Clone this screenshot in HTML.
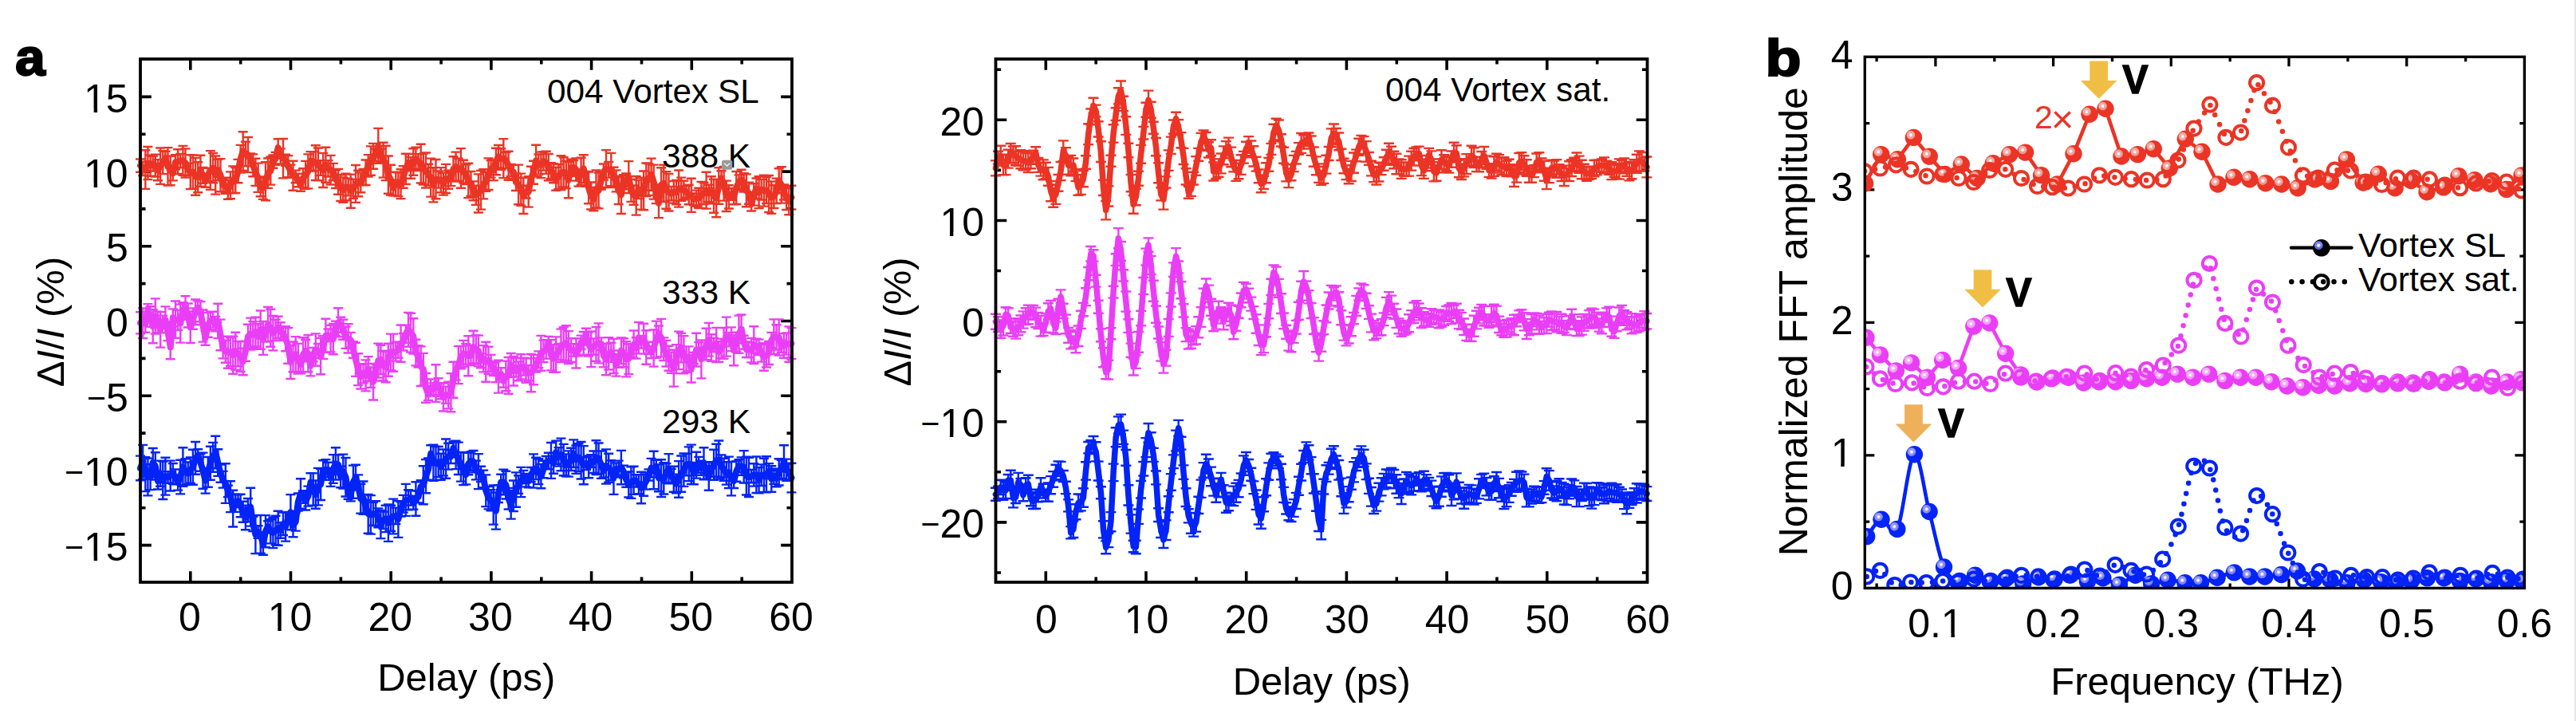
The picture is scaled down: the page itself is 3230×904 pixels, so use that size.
<!DOCTYPE html>
<html><head><meta charset="utf-8"><title>Figure</title>
<style>html,body{margin:0;padding:0;background:#fff;overflow:hidden;width:3230px;height:904px;} svg{display:block;}</style>
</head><body>
<svg width="3230" height="904" viewBox="0 0 3230 904" font-family="'Liberation Sans', Arial, Helvetica, sans-serif">
<rect width="3230" height="904" fill="#fff"/>
<rect x="3228" y="0" width="2" height="904" fill="#e7e7e7"/>
<defs>
<radialGradient id="gr" cx="0.336" cy="0.35" r="0.5" fx="0.336" fy="0.35"><stop offset="0" stop-color="#fff"/><stop offset="0.07" stop-color="#fff"/><stop offset="0.17" stop-color="#f7d0cc"/><stop offset="0.29" stop-color="#eea199"/><stop offset="0.37" stop-color="#eea199" stop-opacity="0.85"/><stop offset="0.45" stop-color="#eea199"/><stop offset="0.54" stop-color="#EB3425"/><stop offset="1" stop-color="#EB3425"/></radialGradient>
<radialGradient id="gm" cx="0.336" cy="0.35" r="0.5" fx="0.336" fy="0.35"><stop offset="0" stop-color="#fff"/><stop offset="0.07" stop-color="#fff"/><stop offset="0.17" stop-color="#f8d2fb"/><stop offset="0.29" stop-color="#f0a2f5"/><stop offset="0.37" stop-color="#f0a2f5" stop-opacity="0.85"/><stop offset="0.45" stop-color="#f0a2f5"/><stop offset="0.54" stop-color="#EA3EF6"/><stop offset="1" stop-color="#EA3EF6"/></radialGradient>
<radialGradient id="gb" cx="0.336" cy="0.35" r="0.5" fx="0.336" fy="0.35"><stop offset="0" stop-color="#fff"/><stop offset="0.07" stop-color="#fff"/><stop offset="0.17" stop-color="#c8c8fb"/><stop offset="0.29" stop-color="#8a8cf2"/><stop offset="0.37" stop-color="#8a8cf2" stop-opacity="0.85"/><stop offset="0.45" stop-color="#8a8cf2"/><stop offset="0.54" stop-color="#0323F7"/><stop offset="1" stop-color="#0323F7"/></radialGradient>
<radialGradient id="gk" cx="0.336" cy="0.35" r="0.5" fx="0.336" fy="0.35"><stop offset="0" stop-color="#fff"/><stop offset="0.07" stop-color="#fff"/><stop offset="0.17" stop-color="#c8ccff"/><stop offset="0.29" stop-color="#6a74f0"/><stop offset="0.37" stop-color="#6a74f0" stop-opacity="0.85"/><stop offset="0.45" stop-color="#6a74f0"/><stop offset="0.54" stop-color="#000"/><stop offset="1" stop-color="#000"/></radialGradient>
<clipPath id="cb"><rect x="2338.3" y="71.3" width="827.0999999999999" height="666.1"/></clipPath>
</defs>
<path d="M238.8 730v-13.8M238.8 74v13.8M301.7 730v-6.5M301.7 74v6.5M364.5 730v-13.8M364.5 74v13.8M427.4 730v-6.5M427.4 74v6.5M490.2 730v-13.8M490.2 74v13.8M553.1 730v-6.5M553.1 74v6.5M615.9 730v-13.8M615.9 74v13.8M678.8 730v-6.5M678.8 74v6.5M741.6 730v-13.8M741.6 74v13.8M804.5 730v-6.5M804.5 74v6.5M867.3 730v-13.8M867.3 74v13.8M930.2 730v-6.5M930.2 74v6.5M176 683.6h13.8M993 683.6h-13.8M176 636.8h6.5M993 636.8h-6.5M176 589.9h13.8M993 589.9h-13.8M176 543.1h6.5M993 543.1h-6.5M176 496.2h13.8M993 496.2h-13.8M176 449.4h6.5M993 449.4h-6.5M176 402.5h13.8M993 402.5h-13.8M176 355.6h6.5M993 355.6h-6.5M176 308.8h13.8M993 308.8h-13.8M176 261.9h6.5M993 261.9h-6.5M176 215.1h13.8M993 215.1h-13.8M176 168.2h6.5M993 168.2h-6.5M176 121.4h13.8M993 121.4h-13.8" stroke="#000" stroke-width="3.6" fill="none"/>
<path d="M176.0 199.5V215.7M170.0 199.5h12M170.0 215.7h12M179.1 202.8V220.1M173.1 202.8h12M173.1 220.1h12M182.3 188.3V236.9M176.3 188.3h12M176.3 236.9h12M185.4 184.0V225.1M179.4 184.0h12M179.4 225.1h12M188.6 194.6V220.7M182.6 194.6h12M182.6 220.7h12M191.7 195.9V214.6M185.7 195.9h12M185.7 214.6h12M194.8 193.6V221.5M188.8 193.6h12M188.8 221.5h12M198.0 200.1V226.3M192.0 200.1h12M192.0 226.3h12M201.1 185.5V230.9M195.1 185.5h12M195.1 230.9h12M204.3 189.1V218.1M198.3 189.1h12M198.3 218.1h12M207.4 189.9V206.9M201.4 189.9h12M201.4 206.9h12M210.5 185.1V232.5M204.5 185.1h12M204.5 232.5h12M213.7 195.8V232.2M207.7 195.8h12M207.7 232.2h12M216.8 208.2V226.4M210.8 208.2h12M210.8 226.4h12M220.0 194.1V212.2M214.0 194.1h12M214.0 212.2h12M223.1 187.2V218.0M217.1 187.2h12M217.1 218.0h12M226.2 193.0V210.3M220.2 193.0h12M220.2 210.3h12M229.4 182.9V219.7M223.4 182.9h12M223.4 219.7h12M232.5 186.4V222.5M226.5 186.4h12M226.5 222.5h12M235.7 204.7V219.9M229.7 204.7h12M229.7 219.9h12M238.8 194.1V237.1M232.8 194.1h12M232.8 237.1h12M241.9 194.5V236.8M235.9 194.5h12M235.9 236.8h12M245.1 197.9V244.8M239.1 197.9h12M239.1 244.8h12M248.2 203.2V241.3M242.2 203.2h12M242.2 241.3h12M251.4 194.8V233.7M245.4 194.8h12M245.4 233.7h12M254.5 209.9V229.8M248.5 209.9h12M248.5 229.8h12M257.6 219.8V234.7M251.6 219.8h12M251.6 234.7h12M260.8 210.9V227.2M254.8 210.9h12M254.8 227.2h12M263.9 189.1V237.9M257.9 189.1h12M257.9 237.9h12M267.1 192.0V229.3M261.1 192.0h12M261.1 229.3h12M270.2 195.5V243.6M264.2 195.5h12M264.2 243.6h12M273.3 199.7V226.2M267.3 199.7h12M267.3 226.2h12M276.5 199.1V240.3M270.5 199.1h12M270.5 240.3h12M279.6 223.8V240.2M273.6 223.8h12M273.6 240.2h12M282.8 222.8V242.7M276.8 222.8h12M276.8 242.7h12M285.9 225.8V249.8M279.9 225.8h12M279.9 249.8h12M289.0 215.4V249.2M283.0 215.4h12M283.0 249.2h12M292.2 208.4V242.4M286.2 208.4h12M286.2 242.4h12M295.3 210.1V242.0M289.3 210.1h12M289.3 242.0h12M298.5 199.9V229.2M292.5 199.9h12M292.5 229.2h12M301.6 181.9V216.6M295.6 181.9h12M295.6 216.6h12M304.7 165.2V214.0M298.7 165.2h12M298.7 214.0h12M307.9 177.7V208.1M301.9 177.7h12M301.9 208.1h12M311.0 172.0V216.1M305.0 172.0h12M305.0 216.1h12M314.2 192.4V208.4M308.2 192.4h12M308.2 208.4h12M317.3 193.4V221.3M311.3 193.4h12M311.3 221.3h12M320.4 198.7V232.9M314.4 198.7h12M314.4 232.9h12M323.6 204.6V240.9M317.6 204.6h12M317.6 240.9h12M326.7 223.2V246.2M320.7 223.2h12M320.7 246.2h12M329.9 221.5V249.9M323.9 221.5h12M323.9 249.9h12M333.0 203.2V251.3M327.0 203.2h12M327.0 251.3h12M336.1 198.5V235.9M330.1 198.5h12M330.1 235.9h12M339.3 196.6V231.6M333.3 196.6h12M333.3 231.6h12M342.4 194.4V210.7M336.4 194.4h12M336.4 210.7h12M345.6 190.9V206.8M339.6 190.9h12M339.6 206.8h12M348.7 174.3V196.0M342.7 174.3h12M342.7 196.0h12M351.8 186.4V205.4M345.8 186.4h12M345.8 205.4h12M355.0 174.0V223.4M349.0 174.0h12M349.0 223.4h12M358.1 193.6V207.7M352.1 193.6h12M352.1 207.7h12M361.3 195.1V222.3M355.3 195.1h12M355.3 222.3h12M364.4 206.6V222.7M358.4 206.6h12M358.4 222.7h12M367.5 201.7V238.8M361.5 201.7h12M361.5 238.8h12M370.7 213.6V229.2M364.7 213.6h12M364.7 229.2h12M373.8 217.7V234.2M367.8 217.7h12M367.8 234.2h12M377.0 222.8V239.7M371.0 222.8h12M371.0 239.7h12M380.1 211.3V235.1M374.1 211.3h12M374.1 235.1h12M383.2 201.9V236.7M377.2 201.9h12M377.2 236.7h12M386.4 193.4V236.4M380.4 193.4h12M380.4 236.4h12M389.5 190.1V213.7M383.5 190.1h12M383.5 213.7h12M392.7 190.3V214.5M386.7 190.3h12M386.7 214.5h12M395.8 182.3V226.0M389.8 182.3h12M389.8 226.0h12M398.9 185.5V226.3M392.9 185.5h12M392.9 226.3h12M402.1 201.3V219.9M396.1 201.3h12M396.1 219.9h12M405.2 191.9V235.0M399.2 191.9h12M399.2 235.0h12M408.4 184.7V228.7M402.4 184.7h12M402.4 228.7h12M411.5 201.1V221.5M405.5 201.1h12M405.5 221.5h12M414.6 194.9V231.5M408.6 194.9h12M408.6 231.5h12M417.8 204.9V226.0M411.8 204.9h12M411.8 226.0h12M420.9 213.2V236.0M414.9 213.2h12M414.9 236.0h12M424.1 211.9V243.7M418.1 211.9h12M418.1 243.7h12M427.2 219.2V252.0M421.2 219.2h12M421.2 252.0h12M430.3 222.4V253.7M424.3 222.4h12M424.3 253.7h12M433.5 217.7V251.2M427.5 217.7h12M427.5 251.2h12M436.6 223.7V245.4M430.6 223.7h12M430.6 245.4h12M439.8 218.6V260.7M433.8 218.6h12M433.8 260.7h12M442.9 224.9V248.9M436.9 224.9h12M436.9 248.9h12M446.0 207.0V253.9M440.0 207.0h12M440.0 253.9h12M449.2 213.7V246.2M443.2 213.7h12M443.2 246.2h12M452.3 216.4V241.3M446.3 216.4h12M446.3 241.3h12M455.5 211.9V232.2M449.5 211.9h12M449.5 232.2h12M458.6 200.5V232.0M452.6 200.5h12M452.6 232.0h12M461.7 194.1V221.6M455.7 194.1h12M455.7 221.6h12M464.9 183.4V219.8M458.9 183.4h12M458.9 219.8h12M468.0 179.9V211.8M462.0 179.9h12M462.0 211.8h12M471.2 186.9V202.2M465.2 186.9h12M465.2 202.2h12M474.3 160.9V204.9M468.3 160.9h12M468.3 204.9h12M477.4 186.8V202.6M471.4 186.8h12M471.4 202.6h12M480.6 178.8V222.6M474.6 178.8h12M474.6 222.6h12M483.7 182.8V226.1M477.7 182.8h12M477.7 226.1h12M486.9 195.5V242.8M480.9 195.5h12M480.9 242.8h12M490.0 206.7V244.6M484.0 206.7h12M484.0 244.6h12M493.1 225.6V245.4M487.1 225.6h12M487.1 245.4h12M496.3 215.7V245.6M490.3 215.7h12M490.3 245.6h12M499.4 216.3V246.1M493.4 216.3h12M493.4 246.1h12M502.6 212.3V249.1M496.6 212.3h12M496.6 249.1h12M505.7 208.1V235.8M499.7 208.1h12M499.7 235.8h12M508.8 192.7V231.0M502.8 192.7h12M502.8 231.0h12M512.0 193.0V214.4M506.0 193.0h12M506.0 214.4h12M515.1 197.1V223.8M509.1 197.1h12M509.1 223.8h12M518.3 186.2V219.7M512.3 186.2h12M512.3 219.7h12M521.4 184.7V214.0M515.4 184.7h12M515.4 214.0h12M524.5 193.1V211.6M518.5 193.1h12M518.5 211.6h12M527.7 180.7V229.5M521.7 180.7h12M521.7 229.5h12M530.8 192.6V231.5M524.8 192.6h12M524.8 231.5h12M534.0 191.5V235.5M528.0 191.5h12M528.0 235.5h12M537.1 205.7V232.6M531.1 205.7h12M531.1 232.6h12M540.2 198.6V246.6M534.2 198.6h12M534.2 246.6h12M543.4 210.2V253.4M537.4 210.2h12M537.4 253.4h12M546.5 200.0V249.3M540.5 200.0h12M540.5 249.3h12M549.7 214.5V235.6M543.7 214.5h12M543.7 235.6h12M552.8 210.1V241.3M546.8 210.1h12M546.8 241.3h12M555.9 216.7V244.6M549.9 216.7h12M549.9 244.6h12M559.1 205.9V242.0M553.1 205.9h12M553.1 242.0h12M562.2 213.8V236.8M556.2 213.8h12M556.2 236.8h12M565.4 215.5V233.1M559.4 215.5h12M559.4 233.1h12M568.5 196.2V227.3M562.5 196.2h12M562.5 227.3h12M571.6 190.6V227.6M565.6 190.6h12M565.6 227.6h12M574.8 198.8V226.7M568.8 198.8h12M568.8 226.7h12M577.9 186.1V235.7M571.9 186.1h12M571.9 235.7h12M581.1 200.7V229.4M575.1 200.7h12M575.1 229.4h12M584.2 206.3V231.1M578.2 206.3h12M578.2 231.1h12M587.3 204.8V248.1M581.3 204.8h12M581.3 248.1h12M590.5 215.0V245.8M584.5 215.0h12M584.5 245.8h12M593.6 227.4V251.2M587.6 227.4h12M587.6 251.2h12M596.8 232.6V256.9M590.8 232.6h12M590.8 256.9h12M599.9 218.4V266.5M593.9 218.4h12M593.9 266.5h12M603.0 214.0V262.6M597.0 214.0h12M597.0 262.6h12M606.2 212.2V249.4M600.2 212.2h12M600.2 249.4h12M609.3 215.8V239.9M603.3 215.8h12M603.3 239.9h12M612.5 198.4V238.0M606.5 198.4h12M606.5 238.0h12M615.6 201.1V222.9M609.6 201.1h12M609.6 222.9h12M618.7 200.6V226.1M612.7 200.6h12M612.7 226.1h12M621.9 185.8V219.3M615.9 185.8h12M615.9 219.3h12M625.0 182.0V210.5M619.0 182.0h12M619.0 210.5h12M628.2 186.2V212.8M622.2 186.2h12M622.2 212.8h12M631.3 174.1V223.1M625.3 174.1h12M625.3 223.1h12M634.4 191.0V211.1M628.4 191.0h12M628.4 211.1h12M637.6 189.7V225.8M631.6 189.7h12M631.6 225.8h12M640.7 205.9V221.3M634.7 205.9h12M634.7 221.3h12M643.9 206.9V224.2M637.9 206.9h12M637.9 224.2h12M647.0 217.5V239.0M641.0 217.5h12M641.0 239.0h12M650.1 206.6V256.3M644.1 206.6h12M644.1 256.3h12M653.3 217.6V257.7M647.3 217.6h12M647.3 257.7h12M656.4 222.7V268.0M650.4 222.7h12M650.4 268.0h12M659.6 232.7V248.5M653.6 232.7h12M653.6 248.5h12M662.7 221.1V259.6M656.7 221.1h12M656.7 259.6h12M665.8 208.8V238.6M659.8 208.8h12M659.8 238.6h12M669.0 201.7V230.7M663.0 201.7h12M663.0 230.7h12M672.1 181.8V221.3M666.1 181.8h12M666.1 221.3h12M675.3 193.5V218.6M669.3 193.5h12M669.3 218.6h12M678.4 190.6V223.1M672.4 190.6h12M672.4 223.1h12M681.5 190.2V213.6M675.5 190.2h12M675.5 213.6h12M684.7 189.8V217.9M678.7 189.8h12M678.7 217.9h12M687.8 193.0V226.2M681.8 193.0h12M681.8 226.2h12M691.0 204.3V224.0M685.0 204.3h12M685.0 224.0h12M694.1 205.2V229.2M688.1 205.2h12M688.1 229.2h12M697.2 209.7V238.8M691.2 209.7h12M691.2 238.8h12M700.4 206.0V237.0M694.4 206.0h12M694.4 237.0h12M703.5 195.3V238.1M697.5 195.3h12M697.5 238.1h12M706.7 197.2V234.4M700.7 197.2h12M700.7 234.4h12M709.8 201.9V236.1M703.8 201.9h12M703.8 236.1h12M712.9 203.0V248.3M706.9 203.0h12M706.9 248.3h12M716.1 199.6V220.7M710.1 199.6h12M710.1 220.7h12M719.2 201.1V218.9M713.2 201.1h12M713.2 218.9h12M722.4 198.4V226.6M716.4 198.4h12M716.4 226.6h12M725.5 214.7V233.6M719.5 214.7h12M719.5 233.6h12M728.6 197.7V231.7M722.6 197.7h12M722.6 231.7h12M731.8 194.2V228.9M725.8 194.2h12M725.8 228.9h12M734.9 215.0V233.7M728.9 215.0h12M728.9 233.7h12M738.1 215.5V255.3M732.1 215.5h12M732.1 255.3h12M741.2 228.5V262.5M735.2 228.5h12M735.2 262.5h12M744.3 235.0V264.3M738.3 235.0h12M738.3 264.3h12M747.5 213.4V260.5M741.5 213.4h12M741.5 260.5h12M750.6 216.5V261.4M744.6 216.5h12M744.6 261.4h12M753.8 215.6V237.5M747.8 215.6h12M747.8 237.5h12M756.9 205.5V225.5M750.9 205.5h12M750.9 225.5h12M760.0 188.1V235.0M754.0 188.1h12M754.0 235.0h12M763.2 202.9V222.6M757.2 202.9h12M757.2 222.6h12M766.3 191.9V233.2M760.3 191.9h12M760.3 233.2h12M769.5 209.8V235.0M763.5 209.8h12M763.5 235.0h12M772.6 213.4V240.4M766.6 213.4h12M766.6 240.4h12M775.7 222.1V256.0M769.7 222.1h12M769.7 256.0h12M778.9 220.6V268.0M772.9 220.6h12M772.9 268.0h12M782.0 219.2V233.3M776.0 219.2h12M776.0 233.3h12M785.2 217.5V237.3M779.2 217.5h12M779.2 237.3h12M788.3 202.1V242.0M782.3 202.1h12M782.3 242.0h12M791.4 224.7V252.9M785.4 224.7h12M785.4 252.9h12M794.6 232.5V256.8M788.6 232.5h12M788.6 256.8h12M797.7 221.0V269.6M791.7 221.0h12M791.7 269.6h12M800.9 225.6V249.1M794.9 225.6h12M794.9 249.1h12M804.0 222.9V262.6M798.0 222.9h12M798.0 262.6h12M807.1 214.5V263.3M801.1 214.5h12M801.1 263.3h12M810.3 204.5V246.0M804.3 204.5h12M804.3 246.0h12M813.4 205.4V244.9M807.4 205.4h12M807.4 244.9h12M816.6 198.6V238.7M810.6 198.6h12M810.6 238.7h12M819.7 206.6V249.6M813.7 206.6h12M813.7 249.6h12M822.8 231.4V255.1M816.8 231.4h12M816.8 255.1h12M826.0 236.5V273.1M820.0 236.5h12M820.0 273.1h12M829.1 210.2V253.1M823.1 210.2h12M823.1 253.1h12M832.3 206.7V252.7M826.3 206.7h12M826.3 252.7h12M835.4 215.1V261.7M829.4 215.1h12M829.4 261.7h12M838.5 217.9V264.5M832.5 217.9h12M832.5 264.5h12M841.7 233.9V251.4M835.7 233.9h12M835.7 251.4h12M844.8 227.1V254.6M838.8 227.1h12M838.8 254.6h12M848.0 226.0V256.4M842.0 226.0h12M842.0 256.4h12M851.1 213.5V259.6M845.1 213.5h12M845.1 259.6h12M854.2 222.6V251.7M848.2 222.6h12M848.2 251.7h12M857.4 226.7V250.2M851.4 226.7h12M851.4 250.2h12M860.5 233.1V247.8M854.5 233.1h12M854.5 247.8h12M863.7 231.8V256.2M857.7 231.8h12M857.7 256.2h12M866.8 223.8V265.9M860.8 223.8h12M860.8 265.9h12M869.9 242.5V257.2M863.9 242.5h12M863.9 257.2h12M873.1 238.6V258.5M867.1 238.6h12M867.1 258.5h12M876.2 235.8V261.0M870.2 235.8h12M870.2 261.0h12M879.4 227.9V261.1M873.4 227.9h12M873.4 261.1h12M882.5 229.0V256.1M876.5 229.0h12M876.5 256.1h12M885.6 215.8V261.6M879.6 215.8h12M879.6 261.6h12M888.8 231.8V253.2M882.8 231.8h12M882.8 253.2h12M891.9 221.2V255.4M885.9 221.2h12M885.9 255.4h12M895.1 224.8V266.8M889.1 224.8h12M889.1 266.8h12M898.2 224.8V272.3M892.2 224.8h12M892.2 272.3h12M901.3 210.3V255.7M895.3 210.3h12M895.3 255.7h12M904.5 214.2V233.1M898.5 214.2h12M898.5 233.1h12M907.6 209.0V251.6M901.6 209.0h12M901.6 251.6h12M910.8 226.6V265.0M904.8 226.6h12M904.8 265.0h12M913.9 232.3V261.5M907.9 232.3h12M907.9 261.5h12M917.0 236.0V250.9M911.0 236.0h12M911.0 250.9h12M920.2 236.2V256.2M914.2 236.2h12M914.2 256.2h12M923.3 215.0V256.0M917.3 215.0h12M917.3 256.0h12M926.5 219.4V236.4M920.5 219.4h12M920.5 236.4h12M929.6 212.7V238.0M923.6 212.7h12M923.6 238.0h12M932.7 217.3V240.5M926.7 217.3h12M926.7 240.5h12M935.9 218.4V259.3M929.9 218.4h12M929.9 259.3h12M939.0 228.8V255.7M933.0 228.8h12M933.0 255.7h12M942.2 247.3V264.5M936.2 247.3h12M936.2 264.5h12M945.3 230.3V257.6M939.3 230.3h12M939.3 257.6h12M948.4 223.5V249.3M942.4 223.5h12M942.4 249.3h12M951.6 221.3V261.1M945.6 221.3h12M945.6 261.1h12M954.7 224.9V250.5M948.7 224.9h12M948.7 250.5h12M957.9 219.6V258.6M951.9 219.6h12M951.9 258.6h12M961.0 221.7V255.1M955.0 221.7h12M955.0 255.1h12M964.1 220.0V266.0M958.1 220.0h12M958.1 266.0h12M967.3 227.5V267.9M961.3 227.5h12M961.3 267.9h12M970.4 232.3V261.0M964.4 232.3h12M964.4 261.0h12M973.6 223.6V255.1M967.6 223.6h12M967.6 255.1h12M976.7 211.3V242.3M970.7 211.3h12M970.7 242.3h12M979.8 209.2V254.6M973.8 209.2h12M973.8 254.6h12M983.0 231.5V250.5M977.0 231.5h12M977.0 250.5h12M986.1 233.8V263.0M980.1 233.8h12M980.1 263.0h12M989.3 236.0V269.3M983.3 236.0h12M983.3 269.3h12M992.4 232.8V262.5M986.4 232.8h12M986.4 262.5h12" stroke="#EB3425" stroke-width="2.4" fill="none"/>
<path d="M176.0 207.6 L179.1 211.5 L182.3 212.6 L185.4 204.6 L188.6 207.6 L191.7 205.2 L194.8 207.5 L198.0 213.2 L201.1 208.2 L204.3 203.6 L207.4 198.4 L210.5 208.8 L213.7 214.0 L216.8 217.3 L220.0 203.1 L223.1 202.6 L226.2 201.6 L229.4 201.3 L232.5 204.4 L235.7 212.3 L238.8 215.6 L241.9 215.7 L245.1 221.3 L248.2 222.3 L251.4 214.3 L254.5 219.9 L257.6 227.3 L260.8 219.1 L263.9 213.5 L267.1 210.7 L270.2 219.5 L273.3 213.0 L276.5 219.7 L279.6 232.0 L282.8 232.8 L285.9 237.8 L289.0 232.3 L292.2 225.4 L295.3 226.1 L298.5 214.6 L301.6 199.3 L304.7 189.6 L307.9 192.9 L311.0 194.1 L314.2 200.4 L317.3 207.3 L320.4 215.8 L323.6 222.8 L326.7 234.7 L329.9 235.7 L333.0 227.3 L336.1 217.2 L339.3 214.1 L342.4 202.6 L345.6 198.8 L348.7 185.1 L351.8 195.9 L355.0 198.7 L358.1 200.7 L361.3 208.7 L364.4 214.7 L367.5 220.3 L370.7 221.4 L373.8 225.9 L377.0 231.2 L380.1 223.2 L383.2 219.3 L386.4 214.9 L389.5 201.9 L392.7 202.4 L395.8 204.2 L398.9 205.9 L402.1 210.6 L405.2 213.4 L408.4 206.7 L411.5 211.3 L414.6 213.2 L417.8 215.4 L420.9 224.6 L424.1 227.8 L427.2 235.6 L430.3 238.1 L433.5 234.5 L436.6 234.6 L439.8 239.6 L442.9 236.9 L446.0 230.5 L449.2 229.9 L452.3 228.8 L455.5 222.1 L458.6 216.2 L461.7 207.9 L464.9 201.6 L468.0 195.8 L471.2 194.6 L474.3 182.9 L477.4 194.7 L480.6 200.7 L483.7 204.5 L486.9 219.2 L490.0 225.6 L493.1 235.5 L496.3 230.7 L499.4 231.2 L502.6 230.7 L505.7 221.9 L508.8 211.9 L512.0 203.7 L515.1 210.4 L518.3 203.0 L521.4 199.4 L524.5 202.4 L527.7 205.1 L530.8 212.0 L534.0 213.5 L537.1 219.1 L540.2 222.6 L543.4 231.8 L546.5 224.7 L549.7 225.1 L552.8 225.7 L555.9 230.7 L559.1 223.9 L562.2 225.3 L565.4 224.3 L568.5 211.8 L571.6 209.1 L574.8 212.8 L577.9 210.9 L581.1 215.1 L584.2 218.7 L587.3 226.5 L590.5 230.4 L593.6 239.3 L596.8 244.7 L599.9 242.4 L603.0 238.3 L606.2 230.8 L609.3 227.8 L612.5 218.2 L615.6 212.0 L618.7 213.4 L621.9 202.5 L625.0 196.3 L628.2 199.5 L631.3 198.6 L634.4 201.1 L637.6 207.7 L640.7 213.6 L643.9 215.6 L647.0 228.2 L650.1 231.5 L653.3 237.6 L656.4 245.3 L659.6 240.6 L662.7 240.4 L665.8 223.7 L669.0 216.2 L672.1 201.5 L675.3 206.0 L678.4 206.9 L681.5 201.9 L684.7 203.9 L687.8 209.6 L691.0 214.2 L694.1 217.2 L697.2 224.3 L700.4 221.5 L703.5 216.7 L706.7 215.8 L709.8 219.0 L712.9 225.7 L716.1 210.2 L719.2 210.0 L722.4 212.5 L725.5 224.1 L728.6 214.7 L731.8 211.6 L734.9 224.3 L738.1 235.4 L741.2 245.5 L744.3 249.7 L747.5 237.0 L750.6 238.9 L753.8 226.6 L756.9 215.5 L760.0 211.5 L763.2 212.7 L766.3 212.5 L769.5 222.4 L772.6 226.9 L775.7 239.1 L778.9 244.3 L782.0 226.2 L785.2 227.4 L788.3 222.0 L791.4 238.8 L794.6 244.6 L797.7 245.3 L800.9 237.3 L804.0 242.7 L807.1 238.9 L810.3 225.2 L813.4 225.2 L816.6 218.6 L819.7 228.1 L822.8 243.2 L826.0 254.8 L829.1 231.6 L832.3 229.7 L835.4 238.4 L838.5 241.2 L841.7 242.6 L844.8 240.9 L848.0 241.2 L851.1 236.5 L854.2 237.2 L857.4 238.5 L860.5 240.4 L863.7 244.0 L866.8 244.9 L869.9 249.9 L873.1 248.5 L876.2 248.4 L879.4 244.5 L882.5 242.6 L885.6 238.7 L888.8 242.5 L891.9 238.3 L895.1 245.8 L898.2 248.5 L901.3 233.0 L904.5 223.6 L907.6 230.3 L910.8 245.8 L913.9 246.9 L917.0 243.4 L920.2 246.2 L923.3 235.5 L926.5 227.9 L929.6 225.3 L932.7 228.9 L935.9 238.9 L939.0 242.2 L942.2 255.9 L945.3 243.9 L948.4 236.4 L951.6 241.2 L954.7 237.7 L957.9 239.1 L961.0 238.4 L964.1 243.0 L967.3 247.7 L970.4 246.6 L973.6 239.4 L976.7 226.8 L979.8 231.9 L983.0 241.0 L986.1 248.4 L989.3 252.6 L992.4 247.7" stroke="#EB3425" stroke-width="8" fill="none" stroke-linejoin="round" stroke-linecap="round"/>
<path d="M176.0 391.3V418.4M170.0 391.3h12M170.0 418.4h12M179.1 386.4V424.0M173.1 386.4h12M173.1 424.0h12M182.3 395.0V416.8M176.3 395.0h12M176.3 416.8h12M185.4 381.1V395.9M179.4 381.1h12M179.4 395.9h12M188.6 384.3V409.9M182.6 384.3h12M182.6 409.9h12M191.7 388.2V430.3M185.7 388.2h12M185.7 430.3h12M194.8 374.4V418.6M188.8 374.4h12M188.8 418.6h12M198.0 390.7V417.3M192.0 390.7h12M192.0 417.3h12M201.1 391.1V435.6M195.1 391.1h12M195.1 435.6h12M204.3 395.6V411.4M198.3 395.6h12M198.3 411.4h12M207.4 384.4V417.2M201.4 384.4h12M201.4 417.2h12M210.5 403.8V427.1M204.5 403.8h12M204.5 427.1h12M213.7 420.4V450.2M207.7 420.4h12M207.7 450.2h12M216.8 387.4V409.3M210.8 387.4h12M210.8 409.3h12M220.0 377.5V423.7M214.0 377.5h12M214.0 423.7h12M223.1 388.9V413.8M217.1 388.9h12M217.1 413.8h12M226.2 381.6V429.6M220.2 381.6h12M220.2 429.6h12M229.4 379.3V397.3M223.4 379.3h12M223.4 397.3h12M232.5 371.3V400.7M226.5 371.3h12M226.5 400.7h12M235.7 380.5V410.5M229.7 380.5h12M229.7 410.5h12M238.8 390.4V430.0M232.8 390.4h12M232.8 430.0h12M241.9 386.4V412.8M235.9 386.4h12M235.9 412.8h12M245.1 375.5V407.3M239.1 375.5h12M239.1 407.3h12M248.2 377.3V393.8M242.2 377.3h12M242.2 393.8h12M251.4 378.1V403.3M245.4 378.1h12M245.4 403.3h12M254.5 388.5V428.6M248.5 388.5h12M248.5 428.6h12M257.6 414.9V432.7M251.6 414.9h12M251.6 432.7h12M260.8 392.1V422.8M254.8 392.1h12M254.8 422.8h12M263.9 390.7V413.2M257.9 390.7h12M257.9 413.2h12M267.1 390.7V410.6M261.1 390.7h12M261.1 410.6h12M270.2 396.9V415.3M264.2 396.9h12M264.2 415.3h12M273.3 380.8V424.1M267.3 380.8h12M267.3 424.1h12M276.5 400.6V439.3M270.5 400.6h12M270.5 439.3h12M279.6 421.8V449.4M273.6 421.8h12M273.6 449.4h12M282.8 426.6V454.7M276.8 426.6h12M276.8 454.7h12M285.9 421.6V461.8M279.9 421.6h12M279.9 461.8h12M289.0 423.2V459.0M283.0 423.2h12M283.0 459.0h12M292.2 421.7V468.7M286.2 421.7h12M286.2 468.7h12M295.3 416.7V463.8M289.3 416.7h12M289.3 463.8h12M298.5 427.9V459.3M292.5 427.9h12M292.5 459.3h12M301.6 428.3V466.0M295.6 428.3h12M295.6 466.0h12M304.7 436.6V470.2M298.7 436.6h12M298.7 470.2h12M307.9 427.6V452.8M301.9 427.6h12M301.9 452.8h12M311.0 406.8V437.1M305.0 406.8h12M305.0 437.1h12M314.2 398.6V438.6M308.2 398.6h12M308.2 438.6h12M317.3 403.1V437.0M311.3 403.1h12M311.3 437.0h12M320.4 397.7V434.5M314.4 397.7h12M314.4 434.5h12M323.6 406.2V437.8M317.6 406.2h12M317.6 437.8h12M326.7 389.5V437.8M320.7 389.5h12M320.7 437.8h12M329.9 403.0V444.9M323.9 403.0h12M323.9 444.9h12M333.0 409.9V428.6M327.0 409.9h12M327.0 428.6h12M336.1 385.0V428.3M330.1 385.0h12M330.1 428.3h12M339.3 387.8V434.8M333.3 387.8h12M333.3 434.8h12M342.4 396.0V439.4M336.4 396.0h12M336.4 439.4h12M345.6 400.8V427.1M339.6 400.8h12M339.6 427.1h12M348.7 396.8V424.0M342.7 396.8h12M342.7 424.0h12M351.8 404.3V427.0M345.8 404.3h12M345.8 427.0h12M355.0 410.1V426.1M349.0 410.1h12M349.0 426.1h12M358.1 409.2V440.2M352.1 409.2h12M352.1 440.2h12M361.3 411.1V455.7M355.3 411.1h12M355.3 455.7h12M364.4 433.3V475.0M358.4 433.3h12M358.4 475.0h12M367.5 428.5V466.3M361.5 428.5h12M361.5 466.3h12M370.7 422.1V466.6M364.7 422.1h12M364.7 466.6h12M373.8 430.9V468.6M367.8 430.9h12M367.8 468.6h12M377.0 446.3V468.3M371.0 446.3h12M371.0 468.3h12M380.1 423.3V466.2M374.1 423.3h12M374.1 466.2h12M383.2 426.0V453.2M377.2 426.0h12M377.2 453.2h12M386.4 420.1V466.2M380.4 420.1h12M380.4 466.2h12M389.5 445.7V471.4M383.5 445.7h12M383.5 471.4h12M392.7 436.0V453.3M386.7 436.0h12M386.7 453.3h12M395.8 418.4V458.7M389.8 418.4h12M389.8 458.7h12M398.9 431.0V448.9M392.9 431.0h12M392.9 448.9h12M402.1 423.9V469.2M396.1 423.9h12M396.1 469.2h12M405.2 421.3V450.1M399.2 421.3h12M399.2 450.1h12M408.4 399.8V441.8M402.4 399.8h12M402.4 441.8h12M411.5 412.5V428.3M405.5 412.5h12M405.5 428.3h12M414.6 407.9V441.4M408.6 407.9h12M408.6 441.4h12M417.8 405.9V444.2M411.8 405.9h12M411.8 444.2h12M420.9 402.6V421.3M414.9 402.6h12M414.9 421.3h12M424.1 386.3V422.2M418.1 386.3h12M418.1 422.2h12M427.2 397.7V416.8M421.2 397.7h12M421.2 416.8h12M430.3 400.8V425.8M424.3 400.8h12M424.3 425.8h12M433.5 409.8V436.9M427.5 409.8h12M427.5 436.9h12M436.6 406.1V442.5M430.6 406.1h12M430.6 442.5h12M439.8 416.9V435.6M433.8 416.9h12M433.8 435.6h12M442.9 428.1V448.8M436.9 428.1h12M436.9 448.8h12M446.0 429.8V471.9M440.0 429.8h12M440.0 471.9h12M449.2 443.3V483.1M443.2 443.3h12M443.2 483.1h12M452.3 457.1V487.5M446.3 457.1h12M446.3 487.5h12M455.5 456.2V480.4M449.5 456.2h12M449.5 480.4h12M458.6 451.4V490.4M452.6 451.4h12M452.6 490.4h12M461.7 447.1V478.0M455.7 447.1h12M455.7 478.0h12M464.9 460.8V486.0M458.9 460.8h12M458.9 486.0h12M468.0 456.0V501.5M462.0 456.0h12M462.0 501.5h12M471.2 456.3V477.6M465.2 456.3h12M465.2 477.6h12M474.3 430.6V473.5M468.3 430.6h12M468.3 473.5h12M477.4 432.8V469.0M471.4 432.8h12M471.4 469.0h12M480.6 439.8V477.1M474.6 439.8h12M474.6 477.1h12M483.7 440.7V479.3M477.7 440.7h12M477.7 479.3h12M486.9 430.7V471.7M480.9 430.7h12M480.9 471.7h12M490.0 418.6V464.3M484.0 418.6h12M484.0 464.3h12M493.1 418.6V465.8M487.1 418.6h12M487.1 465.8h12M496.3 429.4V452.6M490.3 429.4h12M490.3 452.6h12M499.4 428.8V448.7M493.4 428.8h12M493.4 448.7h12M502.6 407.5V453.8M496.6 407.5h12M496.6 453.8h12M505.7 418.1V439.4M499.7 418.1h12M499.7 439.4h12M508.8 407.8V429.8M502.8 407.8h12M502.8 429.8h12M512.0 391.9V434.8M506.0 391.9h12M506.0 434.8h12M515.1 392.8V441.6M509.1 392.8h12M509.1 441.6h12M518.3 399.2V443.6M512.3 399.2h12M512.3 443.6h12M521.4 425.8V458.4M515.4 425.8h12M515.4 458.4h12M524.5 433.1V460.6M518.5 433.1h12M518.5 460.6h12M527.7 434.4V484.0M521.7 434.4h12M521.7 484.0h12M530.8 442.9V483.4M524.8 442.9h12M524.8 483.4h12M534.0 468.0V504.7M528.0 468.0h12M528.0 504.7h12M537.1 487.5V501.9M531.1 487.5h12M531.1 501.9h12M540.2 475.5V496.5M534.2 475.5h12M534.2 496.5h12M543.4 480.4V494.9M537.4 480.4h12M537.4 494.9h12M546.5 457.3V503.9M540.5 457.3h12M540.5 503.9h12M549.7 474.3V496.8M543.7 474.3h12M543.7 496.8h12M552.8 480.1V500.3M546.8 480.1h12M546.8 500.3h12M555.9 480.5V515.5M549.9 480.5h12M549.9 515.5h12M559.1 484.6V505.9M553.1 484.6h12M553.1 505.9h12M562.2 478.8V512.4M556.2 478.8h12M556.2 512.4h12M565.4 468.1V516.3M559.4 468.1h12M559.4 516.3h12M568.5 453.7V498.8M562.5 453.7h12M562.5 498.8h12M571.6 453.7V476.5M565.6 453.7h12M565.6 476.5h12M574.8 434.1V481.1M568.8 434.1h12M568.8 481.1h12M577.9 433.9V462.3M571.9 433.9h12M571.9 462.3h12M581.1 426.9V459.7M575.1 426.9h12M575.1 459.7h12M584.2 431.1V456.8M578.2 431.1h12M578.2 456.8h12M587.3 421.3V471.3M581.3 421.3h12M581.3 471.3h12M590.5 433.0V458.1M584.5 433.0h12M584.5 458.1h12M593.6 414.7V455.3M587.6 414.7h12M587.6 455.3h12M596.8 420.2V456.5M590.8 420.2h12M590.8 456.5h12M599.9 420.6V459.4M593.9 420.6h12M593.9 459.4h12M603.0 443.4V461.2M597.0 443.4h12M597.0 461.2h12M606.2 433.1V466.4M600.2 433.1h12M600.2 466.4h12M609.3 428.8V478.7M603.3 428.8h12M603.3 478.7h12M612.5 434.7V468.9M606.5 434.7h12M606.5 468.9h12M615.6 444.9V466.0M609.6 444.9h12M609.6 466.0h12M618.7 455.2V471.1M612.7 455.2h12M612.7 471.1h12M621.9 453.2V479.1M615.9 453.2h12M615.9 479.1h12M625.0 451.7V492.6M619.0 451.7h12M619.0 492.6h12M628.2 461.3V476.2M622.2 461.3h12M622.2 476.2h12M631.3 469.9V485.7M625.3 469.9h12M625.3 485.7h12M634.4 452.6V490.2M628.4 452.6h12M628.4 490.2h12M637.6 448.0V493.8M631.6 448.0h12M631.6 493.8h12M640.7 443.0V472.8M634.7 443.0h12M634.7 472.8h12M643.9 447.0V483.5M637.9 447.0h12M637.9 483.5h12M647.0 449.3V472.5M641.0 449.3h12M641.0 472.5h12M650.1 453.5V477.3M644.1 453.5h12M644.1 477.3h12M653.3 444.3V475.4M647.3 444.3h12M647.3 475.4h12M656.4 448.6V470.5M650.4 448.6h12M650.4 470.5h12M659.6 449.3V479.7M653.6 449.3h12M653.6 479.7h12M662.7 458.0V477.3M656.7 458.0h12M656.7 477.3h12M665.8 444.0V491.2M659.8 444.0h12M659.8 491.2h12M669.0 444.9V482.2M663.0 444.9h12M663.0 482.2h12M672.1 449.1V466.5M666.1 449.1h12M666.1 466.5h12M675.3 440.4V461.3M669.3 440.4h12M669.3 461.3h12M678.4 420.9V464.8M672.4 420.9h12M672.4 464.8h12M681.5 426.6V454.0M675.5 426.6h12M675.5 454.0h12M684.7 426.3V449.7M678.7 426.3h12M678.7 449.7h12M687.8 421.9V436.7M681.8 421.9h12M681.8 436.7h12M691.0 426.1V464.4M685.0 426.1h12M685.0 464.4h12M694.1 432.3V466.9M688.1 432.3h12M688.1 466.9h12M697.2 422.4V466.6M691.2 422.4h12M691.2 466.6h12M700.4 431.0V451.1M694.4 431.0h12M694.4 451.1h12M703.5 412.6V453.7M697.5 412.6h12M697.5 453.7h12M706.7 410.3V454.0M700.7 410.3h12M700.7 454.0h12M709.8 408.2V451.9M703.8 408.2h12M703.8 451.9h12M712.9 415.1V456.0M706.9 415.1h12M706.9 456.0h12M716.1 424.1V454.0M710.1 424.1h12M710.1 454.0h12M719.2 431.2V446.9M713.2 431.2h12M713.2 446.9h12M722.4 424.3V461.5M716.4 424.3h12M716.4 461.5h12M725.5 431.5V446.4M719.5 431.5h12M719.5 446.4h12M728.6 420.6V437.7M722.6 420.6h12M722.6 437.7h12M731.8 416.0V444.8M725.8 416.0h12M725.8 444.8h12M734.9 411.8V430.2M728.9 411.8h12M728.9 430.2h12M738.1 416.3V446.6M732.1 416.3h12M732.1 446.6h12M741.2 415.5V460.1M735.2 415.5h12M735.2 460.1h12M744.3 424.5V444.8M738.3 424.5h12M738.3 444.8h12M747.5 410.0V452.7M741.5 410.0h12M741.5 452.7h12M750.6 405.4V455.4M744.6 405.4h12M744.6 455.4h12M753.8 423.4V438.7M747.8 423.4h12M747.8 438.7h12M756.9 431.1V460.4M750.9 431.1h12M750.9 460.4h12M760.0 430.8V470.3M754.0 430.8h12M754.0 470.3h12M763.2 423.1V463.5M757.2 423.1h12M757.2 463.5h12M766.3 429.7V453.7M760.3 429.7h12M760.3 453.7h12M769.5 424.9V468.0M763.5 424.9h12M763.5 468.0h12M772.6 444.2V471.6M766.6 444.2h12M766.6 471.6h12M775.7 439.5V460.7M769.7 439.5h12M769.7 460.7h12M778.9 423.4V456.1M772.9 423.4h12M772.9 456.1h12M782.0 424.3V460.3M776.0 424.3h12M776.0 460.3h12M785.2 428.3V472.4M779.2 428.3h12M779.2 472.4h12M788.3 431.2V469.1M782.3 431.2h12M782.3 469.1h12M791.4 431.2V448.2M785.4 431.2h12M785.4 448.2h12M794.6 414.5V449.2M788.6 414.5h12M788.6 449.2h12M797.7 423.2V449.6M791.7 423.2h12M791.7 449.6h12M800.9 404.0V443.4M794.9 404.0h12M794.9 443.4h12M804.0 420.9V436.6M798.0 420.9h12M798.0 436.6h12M807.1 405.8V443.5M801.1 405.8h12M801.1 443.5h12M810.3 414.2V456.7M804.3 414.2h12M804.3 456.7h12M813.4 428.7V444.1M807.4 428.7h12M807.4 444.1h12M816.6 434.4V449.0M810.6 434.4h12M810.6 449.0h12M819.7 413.5V459.6M813.7 413.5h12M813.7 459.6h12M822.8 402.6V448.8M816.8 402.6h12M816.8 448.8h12M826.0 408.5V428.8M820.0 408.5h12M820.0 428.8h12M829.1 399.9V447.1M823.1 399.9h12M823.1 447.1h12M832.3 423.4V452.0M826.3 423.4h12M826.3 452.0h12M835.4 426.9V459.5M829.4 426.9h12M829.4 459.5h12M838.5 433.8V464.8M832.5 433.8h12M832.5 464.8h12M841.7 441.6V467.7M835.7 441.6h12M835.7 467.7h12M844.8 438.7V484.6M838.8 438.7h12M838.8 484.6h12M848.0 432.1V468.1M842.0 432.1h12M842.0 468.1h12M851.1 415.6V463.1M845.1 415.6h12M845.1 463.1h12M854.2 417.9V454.3M848.2 417.9h12M848.2 454.3h12M857.4 421.1V468.4M851.4 421.1h12M851.4 468.4h12M860.5 434.4V466.9M854.5 434.4h12M854.5 466.9h12M863.7 434.4V465.5M857.7 434.4h12M857.7 465.5h12M866.8 444.9V479.5M860.8 444.9h12M860.8 479.5h12M869.9 442.0V456.2M863.9 442.0h12M863.9 456.2h12M873.1 417.8V459.5M867.1 417.8h12M867.1 459.5h12M876.2 429.1V448.1M870.2 429.1h12M870.2 448.1h12M879.4 426.5V474.4M873.4 426.5h12M873.4 474.4h12M882.5 435.6V451.2M876.5 435.6h12M876.5 451.2h12M885.6 411.8V451.3M879.6 411.8h12M879.6 451.3h12M888.8 404.9V446.6M882.8 404.9h12M882.8 446.6h12M891.9 419.3V452.8M885.9 419.3h12M885.9 452.8h12M895.1 423.8V441.2M889.1 423.8h12M889.1 441.2h12M898.2 410.9V454.1M892.2 410.9h12M892.2 454.1h12M901.3 428.1V453.7M895.3 428.1h12M895.3 453.7h12M904.5 425.0V449.4M898.5 425.0h12M898.5 449.4h12M907.6 411.0V449.9M901.6 411.0h12M901.6 449.9h12M910.8 397.6V446.6M904.8 397.6h12M904.8 446.6h12M913.9 416.9V434.4M907.9 416.9h12M907.9 434.4h12M917.0 410.4V440.1M911.0 410.4h12M911.0 440.1h12M920.2 420.0V458.2M914.2 420.0h12M914.2 458.2h12M923.3 416.7V440.6M917.3 416.7h12M917.3 440.6h12M926.5 395.6V442.9M920.5 395.6h12M920.5 442.9h12M929.6 394.5V430.2M923.6 394.5h12M923.6 430.2h12M932.7 420.7V437.5M926.7 420.7h12M926.7 437.5h12M935.9 428.5V448.0M929.9 428.5h12M929.9 448.0h12M939.0 429.2V448.3M933.0 429.2h12M933.0 448.3h12M942.2 424.0V454.4M936.2 424.0h12M936.2 454.4h12M945.3 409.2V456.0M939.3 409.2h12M939.3 456.0h12M948.4 424.8V442.8M942.4 424.8h12M942.4 442.8h12M951.6 425.6V445.1M945.6 425.6h12M945.6 445.1h12M954.7 432.0V453.6M948.7 432.0h12M948.7 453.6h12M957.9 430.2V464.8M951.9 430.2h12M951.9 464.8h12M961.0 431.1V460.5M955.0 431.1h12M955.0 460.5h12M964.1 427.9V457.0M958.1 427.9h12M958.1 457.0h12M967.3 416.9V436.1M961.3 416.9h12M961.3 436.1h12M970.4 400.4V444.0M964.4 400.4h12M964.4 444.0h12M973.6 407.3V438.5M967.6 407.3h12M967.6 438.5h12M976.7 400.4V445.6M970.7 400.4h12M970.7 445.6h12M979.8 426.6V441.7M973.8 426.6h12M973.8 441.7h12M983.0 418.3V448.7M977.0 418.3h12M977.0 448.7h12M986.1 417.4V444.6M980.1 417.4h12M980.1 444.6h12M989.3 409.4V453.7M983.3 409.4h12M983.3 453.7h12M992.4 411.1V450.0M986.4 411.1h12M986.4 450.0h12" stroke="#EA3EF6" stroke-width="2.4" fill="none"/>
<path d="M176.0 404.9 L179.1 405.2 L182.3 405.9 L185.4 388.5 L188.6 397.1 L191.7 409.2 L194.8 396.5 L198.0 404.0 L201.1 413.4 L204.3 403.5 L207.4 400.8 L210.5 415.5 L213.7 435.3 L216.8 398.3 L220.0 400.6 L223.1 401.3 L226.2 405.6 L229.4 388.3 L232.5 386.0 L235.7 395.5 L238.8 410.2 L241.9 399.6 L245.1 391.4 L248.2 385.6 L251.4 390.7 L254.5 408.5 L257.6 423.8 L260.8 407.5 L263.9 402.0 L267.1 400.7 L270.2 406.1 L273.3 402.4 L276.5 419.9 L279.6 435.6 L282.8 440.7 L285.9 441.7 L289.0 441.1 L292.2 445.2 L295.3 440.2 L298.5 443.6 L301.6 447.2 L304.7 453.4 L307.9 440.2 L311.0 422.0 L314.2 418.6 L317.3 420.1 L320.4 416.1 L323.6 422.0 L326.7 413.7 L329.9 423.9 L333.0 419.2 L336.1 406.7 L339.3 411.3 L342.4 417.7 L345.6 413.9 L348.7 410.4 L351.8 415.7 L355.0 418.1 L358.1 424.7 L361.3 433.4 L364.4 454.1 L367.5 447.4 L370.7 444.3 L373.8 449.8 L377.0 457.3 L380.1 444.8 L383.2 439.6 L386.4 443.1 L389.5 458.5 L392.7 444.7 L395.8 438.5 L398.9 440.0 L402.1 446.6 L405.2 435.7 L408.4 420.8 L411.5 420.4 L414.6 424.7 L417.8 425.1 L420.9 412.0 L424.1 404.3 L427.2 407.2 L430.3 413.3 L433.5 423.4 L436.6 424.3 L439.8 426.3 L442.9 438.5 L446.0 450.9 L449.2 463.2 L452.3 472.3 L455.5 468.3 L458.6 470.9 L461.7 462.5 L464.9 473.4 L468.0 478.8 L471.2 466.9 L474.3 452.0 L477.4 450.9 L480.6 458.5 L483.7 460.0 L486.9 451.2 L490.0 441.4 L493.1 442.2 L496.3 441.0 L499.4 438.8 L502.6 430.7 L505.7 428.8 L508.8 418.8 L512.0 413.3 L515.1 417.2 L518.3 421.4 L521.4 442.1 L524.5 446.9 L527.7 459.2 L530.8 463.1 L534.0 486.4 L537.1 494.7 L540.2 486.0 L543.4 487.7 L546.5 480.6 L549.7 485.5 L552.8 490.2 L555.9 498.0 L559.1 495.3 L562.2 495.6 L565.4 492.2 L568.5 476.2 L571.6 465.1 L574.8 457.6 L577.9 448.1 L581.1 443.3 L584.2 444.0 L587.3 446.3 L590.5 445.6 L593.6 435.0 L596.8 438.3 L599.9 440.0 L603.0 452.3 L606.2 449.7 L609.3 453.7 L612.5 451.8 L615.6 455.4 L618.7 463.2 L621.9 466.1 L625.0 472.1 L628.2 468.8 L631.3 477.8 L634.4 471.4 L637.6 470.9 L640.7 457.9 L643.9 465.2 L647.0 460.9 L650.1 465.4 L653.3 459.9 L656.4 459.5 L659.6 464.5 L662.7 467.6 L665.8 467.6 L669.0 463.5 L672.1 457.8 L675.3 450.9 L678.4 442.8 L681.5 440.3 L684.7 438.0 L687.8 429.3 L691.0 445.3 L694.1 449.6 L697.2 444.5 L700.4 441.0 L703.5 433.1 L706.7 432.1 L709.8 430.0 L712.9 435.6 L716.1 439.1 L719.2 439.1 L722.4 442.9 L725.5 438.9 L728.6 429.1 L731.8 430.4 L734.9 421.0 L738.1 431.5 L741.2 437.8 L744.3 434.6 L747.5 431.4 L750.6 430.4 L753.8 431.0 L756.9 445.8 L760.0 450.6 L763.2 443.3 L766.3 441.7 L769.5 446.4 L772.6 457.9 L775.7 450.1 L778.9 439.7 L782.0 442.3 L785.2 450.3 L788.3 450.2 L791.4 439.7 L794.6 431.8 L797.7 436.4 L800.9 423.7 L804.0 428.7 L807.1 424.6 L810.3 435.5 L813.4 436.4 L816.6 441.7 L819.7 436.5 L822.8 425.7 L826.0 418.7 L829.1 423.5 L832.3 437.7 L835.4 443.2 L838.5 449.3 L841.7 454.7 L844.8 461.6 L848.0 450.1 L851.1 439.3 L854.2 436.1 L857.4 444.7 L860.5 450.6 L863.7 450.0 L866.8 462.2 L869.9 449.1 L873.1 438.6 L876.2 438.6 L879.4 450.5 L882.5 443.4 L885.6 431.6 L888.8 425.8 L891.9 436.1 L895.1 432.5 L898.2 432.5 L901.3 440.9 L904.5 437.2 L907.6 430.5 L910.8 422.1 L913.9 425.7 L917.0 425.2 L920.2 439.1 L923.3 428.7 L926.5 419.2 L929.6 412.3 L932.7 429.1 L935.9 438.3 L939.0 438.8 L942.2 439.2 L945.3 432.6 L948.4 433.8 L951.6 435.3 L954.7 442.8 L957.9 447.5 L961.0 445.8 L964.1 442.5 L967.3 426.5 L970.4 422.2 L973.6 422.9 L976.7 423.0 L979.8 434.2 L983.0 433.5 L986.1 431.0 L989.3 431.6 L992.4 430.6" stroke="#EA3EF6" stroke-width="8" fill="none" stroke-linejoin="round" stroke-linecap="round"/>
<path d="M176.0 571.6V602.3M170.0 571.6h12M170.0 602.3h12M179.1 557.9V601.0M173.1 557.9h12M173.1 601.0h12M182.3 573.2V616.1M176.3 573.2h12M176.3 616.1h12M185.4 574.6V621.4M179.4 574.6h12M179.4 621.4h12M188.6 582.1V614.1M182.6 582.1h12M182.6 614.1h12M191.7 562.0V598.0M185.7 562.0h12M185.7 598.0h12M194.8 567.3V601.5M188.8 567.3h12M188.8 601.5h12M198.0 592.6V613.5M192.0 592.6h12M192.0 613.5h12M201.1 577.6V609.7M195.1 577.6h12M195.1 609.7h12M204.3 578.6V626.0M198.3 578.6h12M198.3 626.0h12M207.4 573.8V620.6M201.4 573.8h12M201.4 620.6h12M210.5 591.1V605.8M204.5 591.1h12M204.5 605.8h12M213.7 577.6V615.5M207.7 577.6h12M207.7 615.5h12M216.8 581.0V606.7M210.8 581.0h12M210.8 606.7h12M220.0 588.5V607.4M214.0 588.5h12M214.0 607.4h12M223.1 595.6V614.6M217.1 595.6h12M217.1 614.6h12M226.2 576.7V619.4M220.2 576.7h12M220.2 619.4h12M229.4 561.2V609.7M223.4 561.2h12M223.4 609.7h12M232.5 575.2V608.0M226.5 575.2h12M226.5 608.0h12M235.7 579.5V607.3M229.7 579.5h12M229.7 607.3h12M238.8 573.4V605.8M232.8 573.4h12M232.8 605.8h12M241.9 563.8V607.7M235.9 563.8h12M235.9 607.7h12M245.1 554.0V594.8M239.1 554.0h12M239.1 594.8h12M248.2 563.2V579.5M242.2 563.2h12M242.2 579.5h12M251.4 569.0V590.7M245.4 569.0h12M245.4 590.7h12M254.5 567.6V612.8M248.5 567.6h12M248.5 612.8h12M257.6 586.9V618.6M251.6 586.9h12M251.6 618.6h12M260.8 573.0V610.7M254.8 573.0h12M254.8 610.7h12M263.9 559.8V601.8M257.9 559.8h12M257.9 601.8h12M267.1 554.9V591.8M261.1 554.9h12M261.1 591.8h12M270.2 546.8V587.2M264.2 546.8h12M264.2 587.2h12M273.3 563.3V596.9M267.3 563.3h12M267.3 596.9h12M276.5 582.5V604.7M270.5 582.5h12M270.5 604.7h12M279.6 590.9V611.6M273.6 590.9h12M273.6 611.6h12M282.8 581.2V630.9M276.8 581.2h12M276.8 630.9h12M285.9 608.7V623.1M279.9 608.7h12M279.9 623.1h12M289.0 603.2V642.1M283.0 603.2h12M283.0 642.1h12M292.2 614.8V660.5M286.2 614.8h12M286.2 660.5h12M295.3 619.5V641.9M289.3 619.5h12M289.3 641.9h12M298.5 620.3V636.1M292.5 620.3h12M292.5 636.1h12M301.6 619.8V648.2M295.6 619.8h12M295.6 648.2h12M304.7 628.8V654.7M298.7 628.8h12M298.7 654.7h12M307.9 633.6V664.2M301.9 633.6h12M301.9 664.2h12M311.0 625.0V654.3M305.0 625.0h12M305.0 654.3h12M314.2 611.7V659.6M308.2 611.7h12M308.2 659.6h12M317.3 647.7V666.0M311.3 647.7h12M311.3 666.0h12M320.4 646.1V694.1M314.4 646.1h12M314.4 694.1h12M323.6 659.2V674.9M317.6 659.2h12M317.6 674.9h12M326.7 645.9V693.6M320.7 645.9h12M320.7 693.6h12M329.9 669.7V695.7M323.9 669.7h12M323.9 695.7h12M333.0 646.1V686.3M327.0 646.1h12M327.0 686.3h12M336.1 653.2V667.3M330.1 653.2h12M330.1 667.3h12M339.3 651.3V681.4M333.3 651.3h12M333.3 681.4h12M342.4 648.7V687.1M336.4 648.7h12M336.4 687.1h12M345.6 646.7V683.3M339.6 646.7h12M339.6 683.3h12M348.7 640.7V683.8M342.7 640.7h12M342.7 683.8h12M351.8 655.2V674.7M345.8 655.2h12M345.8 674.7h12M355.0 642.5V671.0M349.0 642.5h12M349.0 671.0h12M358.1 642.5V678.6M352.1 642.5h12M352.1 678.6h12M361.3 641.9V657.0M355.3 641.9h12M355.3 657.0h12M364.4 620.1V664.2M358.4 620.1h12M358.4 664.2h12M367.5 644.3V673.3M361.5 644.3h12M361.5 673.3h12M370.7 642.7V665.6M364.7 642.7h12M364.7 665.6h12M373.8 618.5V640.5M367.8 618.5h12M367.8 640.5h12M377.0 600.2V637.6M371.0 600.2h12M371.0 637.6h12M380.1 615.2V630.9M374.1 615.2h12M374.1 630.9h12M383.2 616.7V639.5M377.2 616.7h12M377.2 639.5h12M386.4 609.6V634.6M380.4 609.6h12M380.4 634.6h12M389.5 593.2V616.5M383.5 593.2h12M383.5 616.5h12M392.7 593.4V633.7M386.7 593.4h12M386.7 633.7h12M395.8 602.5V637.8M389.8 602.5h12M389.8 637.8h12M398.9 586.9V633.4M392.9 586.9h12M392.9 633.4h12M402.1 587.7V627.0M396.1 587.7h12M396.1 627.0h12M405.2 577.3V601.9M399.2 577.3h12M399.2 601.9h12M408.4 576.1V601.8M402.4 576.1h12M402.4 601.8h12M411.5 579.7V598.1M405.5 579.7h12M405.5 598.1h12M414.6 587.2V609.9M408.6 587.2h12M408.6 609.9h12M417.8 570.1V605.9M411.8 570.1h12M411.8 605.9h12M420.9 561.2V601.5M414.9 561.2h12M414.9 601.5h12M424.1 570.2V594.9M418.1 570.2h12M418.1 594.9h12M427.2 584.8V611.2M421.2 584.8h12M421.2 611.2h12M430.3 569.6V612.5M424.3 569.6h12M424.3 612.5h12M433.5 574.0V622.5M427.5 574.0h12M427.5 622.5h12M436.6 608.7V625.8M430.6 608.7h12M430.6 625.8h12M439.8 611.8V628.4M433.8 611.8h12M433.8 628.4h12M442.9 583.6V624.9M436.9 583.6h12M436.9 624.9h12M446.0 582.7V614.5M440.0 582.7h12M440.0 614.5h12M449.2 595.4V624.7M443.2 595.4h12M443.2 624.7h12M452.3 606.7V643.6M446.3 606.7h12M446.3 643.6h12M455.5 603.5V644.9M449.5 603.5h12M449.5 644.9h12M458.6 626.9V643.4M452.6 626.9h12M452.6 643.4h12M461.7 620.0V668.7M455.7 620.0h12M455.7 668.7h12M464.9 621.1V669.6M458.9 621.1h12M458.9 669.6h12M468.0 629.8V658.8M462.0 629.8h12M462.0 658.8h12M471.2 628.2V659.1M465.2 628.2h12M465.2 659.1h12M474.3 637.4V661.2M468.3 637.4h12M468.3 661.2h12M477.4 639.9V675.1M471.4 639.9h12M471.4 675.1h12M480.6 641.6V663.0M474.6 641.6h12M474.6 663.0h12M483.7 633.8V667.1M477.7 633.8h12M477.7 667.1h12M486.9 632.4V678.9M480.9 632.4h12M480.9 678.9h12M490.0 633.8V666.0M484.0 633.8h12M484.0 666.0h12M493.1 625.6V669.4M487.1 625.6h12M487.1 669.4h12M496.3 636.6V657.0M490.3 636.6h12M490.3 657.0h12M499.4 628.1V673.9M493.4 628.1h12M493.4 673.9h12M502.6 629.2V647.6M496.6 629.2h12M496.6 647.6h12M505.7 620.9V642.6M499.7 620.9h12M499.7 642.6h12M508.8 606.9V646.9M502.8 606.9h12M502.8 646.9h12M512.0 614.3V639.2M506.0 614.3h12M506.0 639.2h12M515.1 615.2V633.5M509.1 615.2h12M509.1 633.5h12M518.3 621.7V638.8M512.3 621.7h12M512.3 638.8h12M521.4 604.2V646.7M515.4 604.2h12M515.4 646.7h12M524.5 615.7V630.4M518.5 615.7h12M518.5 630.4h12M527.7 602.1V618.1M521.7 602.1h12M521.7 618.1h12M530.8 584.2V632.2M524.8 584.2h12M524.8 632.2h12M534.0 576.1V618.3M528.0 576.1h12M528.0 618.3h12M537.1 574.4V601.7M531.1 574.4h12M531.1 601.7h12M540.2 558.3V579.3M534.2 558.3h12M534.2 579.3h12M543.4 557.6V602.8M537.4 557.6h12M537.4 602.8h12M546.5 559.8V602.1M540.5 559.8h12M540.5 602.1h12M549.7 560.0V598.1M543.7 560.0h12M543.7 598.1h12M552.8 568.7V601.8M546.8 568.7h12M546.8 601.8h12M555.9 563.5V596.4M549.9 563.5h12M549.9 596.4h12M559.1 550.5V599.7M553.1 550.5h12M553.1 599.7h12M562.2 555.8V588.6M556.2 555.8h12M556.2 588.6h12M565.4 564.0V581.0M559.4 564.0h12M559.4 581.0h12M568.5 553.5V570.2M562.5 553.5h12M562.5 570.2h12M571.6 552.7V588.1M565.6 552.7h12M565.6 588.1h12M574.8 554.6V595.0M568.8 554.6h12M568.8 595.0h12M577.9 567.0V603.6M571.9 567.0h12M571.9 603.6h12M581.1 567.4V608.1M575.1 567.4h12M575.1 608.1h12M584.2 582.8V607.4M578.2 582.8h12M578.2 607.4h12M587.3 567.9V595.2M581.3 567.9h12M581.3 595.2h12M590.5 566.2V589.7M584.5 566.2h12M584.5 589.7h12M593.6 565.0V592.4M587.6 565.0h12M587.6 592.4h12M596.8 577.8V601.4M590.8 577.8h12M590.8 601.4h12M599.9 569.1V613.1M593.9 569.1h12M593.9 613.1h12M603.0 584.8V604.1M597.0 584.8h12M597.0 604.1h12M606.2 589.6V611.1M600.2 589.6h12M600.2 611.1h12M609.3 595.4V635.1M603.3 595.4h12M603.3 635.1h12M612.5 610.1V638.4M606.5 610.1h12M606.5 638.4h12M615.6 614.1V640.4M609.6 614.1h12M609.6 640.4h12M618.7 608.5V657.6M612.7 608.5h12M612.7 657.6h12M621.9 617.5V663.6M615.9 617.5h12M615.9 663.6h12M625.0 608.2V630.0M619.0 608.2h12M619.0 630.0h12M628.2 594.8V614.4M622.2 594.8h12M622.2 614.4h12M631.3 588.6V620.3M625.3 588.6h12M625.3 620.3h12M634.4 590.8V625.5M628.4 590.8h12M628.4 625.5h12M637.6 612.0V638.5M631.6 612.0h12M631.6 638.5h12M640.7 615.3V650.6M634.7 615.3h12M634.7 650.6h12M643.9 602.5V641.0M637.9 602.5h12M637.9 641.0h12M647.0 592.4V635.7M641.0 592.4h12M641.0 635.7h12M650.1 596.2V618.9M644.1 596.2h12M644.1 618.9h12M653.3 585.9V623.1M647.3 585.9h12M647.3 623.1h12M656.4 589.9V606.0M650.4 589.9h12M650.4 606.0h12M659.6 594.0V610.4M653.6 594.0h12M653.6 610.4h12M662.7 595.2V611.2M656.7 595.2h12M656.7 611.2h12M665.8 586.0V604.2M659.8 586.0h12M659.8 604.2h12M669.0 569.4V611.6M663.0 569.4h12M663.0 611.6h12M672.1 573.7V601.1M666.1 573.7h12M666.1 601.1h12M675.3 575.3V607.1M669.3 575.3h12M669.3 607.1h12M678.4 582.0V612.2M672.4 582.0h12M672.4 612.2h12M681.5 577.8V599.2M675.5 577.8h12M675.5 599.2h12M684.7 572.0V587.7M678.7 572.0h12M678.7 587.7h12M687.8 567.7V588.2M681.8 567.7h12M681.8 588.2h12M691.0 555.0V599.9M685.0 555.0h12M685.0 599.9h12M694.1 567.5V593.7M688.1 567.5h12M688.1 593.7h12M697.2 552.6V581.7M691.2 552.6h12M691.2 581.7h12M700.4 561.1V584.6M694.4 561.1h12M694.4 584.6h12M703.5 549.6V590.3M697.5 549.6h12M697.5 590.3h12M706.7 556.9V596.2M700.7 556.9h12M700.7 596.2h12M709.8 569.4V597.2M703.8 569.4h12M703.8 597.2h12M712.9 565.4V597.6M706.9 565.4h12M706.9 597.6h12M716.1 561.8V590.0M710.1 561.8h12M710.1 590.0h12M719.2 551.4V586.0M713.2 551.4h12M713.2 586.0h12M722.4 558.5V593.9M716.4 558.5h12M716.4 593.9h12M725.5 556.3V591.1M719.5 556.3h12M719.5 591.1h12M728.6 554.0V600.5M722.6 554.0h12M722.6 600.5h12M731.8 559.1V607.3M725.8 559.1h12M725.8 607.3h12M734.9 573.2V589.1M728.9 573.2h12M728.9 589.1h12M738.1 571.5V599.2M732.1 571.5h12M732.1 599.2h12M741.2 570.3V585.7M735.2 570.3h12M735.2 585.7h12M744.3 565.5V593.0M738.3 565.5h12M738.3 593.0h12M747.5 552.2V595.1M741.5 552.2h12M741.5 595.1h12M750.6 555.5V594.0M744.6 555.5h12M744.6 594.0h12M753.8 565.5V599.9M747.8 565.5h12M747.8 599.9h12M756.9 581.4V598.5M750.9 581.4h12M750.9 598.5h12M760.0 563.4V606.6M754.0 563.4h12M754.0 606.6h12M763.2 568.8V604.8M757.2 568.8h12M757.2 604.8h12M766.3 577.3V602.1M760.3 577.3h12M760.3 602.1h12M769.5 577.6V619.9M763.5 577.6h12M763.5 619.9h12M772.6 580.4V595.8M766.6 580.4h12M766.6 595.8h12M775.7 577.6V598.3M769.7 577.6h12M769.7 598.3h12M778.9 564.9V607.3M772.9 564.9h12M772.9 607.3h12M782.0 583.6V599.3M776.0 583.6h12M776.0 599.3h12M785.2 592.0V610.8M779.2 592.0h12M779.2 610.8h12M788.3 591.4V623.5M782.3 591.4h12M782.3 623.5h12M791.4 585.4V624.9M785.4 585.4h12M785.4 624.9h12M794.6 584.7V619.9M788.6 584.7h12M788.6 619.9h12M797.7 595.2V610.5M791.7 595.2h12M791.7 610.5h12M800.9 595.4V619.3M794.9 595.4h12M794.9 619.3h12M804.0 591.8V631.2M798.0 591.8h12M798.0 631.2h12M807.1 595.2V621.8M801.1 595.2h12M801.1 621.8h12M810.3 592.6V613.6M804.3 592.6h12M804.3 613.6h12M813.4 588.4V602.5M807.4 588.4h12M807.4 602.5h12M816.6 574.9V598.4M810.6 574.9h12M810.6 598.4h12M819.7 565.8V613.3M813.7 565.8h12M813.7 613.3h12M822.8 576.9V592.7M816.8 576.9h12M816.8 592.7h12M826.0 582.4V616.3M820.0 582.4h12M820.0 616.3h12M829.1 576.2V623.0M823.1 576.2h12M823.1 623.0h12M832.3 580.3V619.5M826.3 580.3h12M826.3 619.5h12M835.4 581.1V605.2M829.4 581.1h12M829.4 605.2h12M838.5 569.1V606.4M832.5 569.1h12M832.5 606.4h12M841.7 588.0V606.3M835.7 588.0h12M835.7 606.3h12M844.8 584.7V616.7M838.8 584.7h12M838.8 616.7h12M848.0 594.8V618.2M842.0 594.8h12M842.0 618.2h12M851.1 578.1V623.7M845.1 578.1h12M845.1 623.7h12M854.2 571.5V616.7M848.2 571.5h12M848.2 616.7h12M857.4 568.5V609.9M851.4 568.5h12M851.4 609.9h12M860.5 568.8V596.3M854.5 568.8h12M854.5 596.3h12M863.7 560.4V603.1M857.7 560.4h12M857.7 603.1h12M866.8 557.6V606.9M860.8 557.6h12M860.8 606.9h12M869.9 580.0V607.3M863.9 580.0h12M863.9 607.3h12M873.1 566.7V599.6M867.1 566.7h12M867.1 599.6h12M876.2 572.9V592.7M870.2 572.9h12M870.2 592.7h12M879.4 577.8V595.7M873.4 577.8h12M873.4 595.7h12M882.5 561.3V601.2M876.5 561.3h12M876.5 601.2h12M885.6 584.5V600.7M879.6 584.5h12M879.6 600.7h12M888.8 579.2V614.8M882.8 579.2h12M882.8 614.8h12M891.9 579.5V597.5M885.9 579.5h12M885.9 597.5h12M895.1 563.7V601.8M889.1 563.7h12M889.1 601.8h12M898.2 556.7V597.8M892.2 556.7h12M892.2 597.8h12M901.3 552.5V600.4M895.3 552.5h12M895.3 600.4h12M904.5 570.4V598.5M898.5 570.4h12M898.5 598.5h12M907.6 574.7V602.7M901.6 574.7h12M901.6 602.7h12M910.8 579.2V607.6M904.8 579.2h12M904.8 607.6h12M913.9 572.6V612.0M907.9 572.6h12M907.9 612.0h12M917.0 579.0V621.4M911.0 579.0h12M911.0 621.4h12M920.2 593.9V612.0M914.2 593.9h12M914.2 612.0h12M923.3 578.1V603.8M917.3 578.1h12M917.3 603.8h12M926.5 576.1V592.1M920.5 576.1h12M920.5 592.1h12M929.6 573.4V595.9M923.6 573.4h12M923.6 595.9h12M932.7 565.1V605.5M926.7 565.1h12M926.7 605.5h12M935.9 572.8V620.5M929.9 572.8h12M929.9 620.5h12M939.0 573.7V623.0M933.0 573.7h12M933.0 623.0h12M942.2 588.9V605.3M936.2 588.9h12M936.2 605.3h12M945.3 581.2V609.6M939.3 581.2h12M939.3 609.6h12M948.4 572.5V618.0M942.4 572.5h12M942.4 618.0h12M951.6 586.0V618.2M945.6 586.0h12M945.6 618.2h12M954.7 582.4V609.0M948.7 582.4h12M948.7 609.0h12M957.9 574.9V617.0M951.9 574.9h12M951.9 617.0h12M961.0 572.2V617.3M955.0 572.2h12M955.0 617.3h12M964.1 581.1V600.4M958.1 581.1h12M958.1 600.4h12M967.3 584.2V616.8M961.3 584.2h12M961.3 616.8h12M970.4 587.6V606.9M964.4 587.6h12M964.4 606.9h12M973.6 589.7V610.2M967.6 589.7h12M967.6 610.2h12M976.7 575.3V608.5M970.7 575.3h12M970.7 608.5h12M979.8 576.8V599.9M973.8 576.8h12M973.8 599.9h12M983.0 558.3V601.3M977.0 558.3h12M977.0 601.3h12M986.1 575.6V602.7M980.1 575.6h12M980.1 602.7h12M989.3 581.6V602.1M983.3 581.6h12M983.3 602.1h12M992.4 580.7V617.4M986.4 580.7h12M986.4 617.4h12" stroke="#0323F7" stroke-width="2.4" fill="none"/>
<path d="M176.0 587.0 L179.1 579.5 L182.3 594.7 L185.4 598.0 L188.6 598.1 L191.7 580.0 L194.8 584.4 L198.0 603.1 L201.1 593.6 L204.3 602.3 L207.4 597.2 L210.5 598.4 L213.7 596.6 L216.8 593.8 L220.0 597.9 L223.1 605.1 L226.2 598.0 L229.4 585.4 L232.5 591.6 L235.7 593.4 L238.8 589.6 L241.9 585.8 L245.1 574.4 L248.2 571.3 L251.4 579.8 L254.5 590.2 L257.6 602.7 L260.8 591.9 L263.9 580.8 L267.1 573.4 L270.2 567.0 L273.3 580.1 L276.5 593.6 L279.6 601.2 L282.8 606.0 L285.9 615.9 L289.0 622.7 L292.2 637.7 L295.3 630.7 L298.5 628.2 L301.6 634.0 L304.7 641.7 L307.9 648.9 L311.0 639.6 L314.2 635.6 L317.3 656.8 L320.4 670.1 L323.6 667.1 L326.7 669.8 L329.9 682.7 L333.0 666.2 L336.1 660.2 L339.3 666.3 L342.4 667.9 L345.6 665.0 L348.7 662.2 L351.8 664.9 L355.0 656.8 L358.1 660.5 L361.3 649.4 L364.4 642.2 L367.5 658.8 L370.7 654.2 L373.8 629.5 L377.0 618.9 L380.1 623.1 L383.2 628.1 L386.4 622.1 L389.5 604.8 L392.7 613.5 L395.8 620.2 L398.9 610.2 L402.1 607.4 L405.2 589.6 L408.4 588.9 L411.5 588.9 L414.6 598.5 L417.8 588.0 L420.9 581.4 L424.1 582.6 L427.2 598.0 L430.3 591.1 L433.5 598.3 L436.6 617.2 L439.8 620.1 L442.9 604.3 L446.0 598.6 L449.2 610.1 L452.3 625.2 L455.5 624.2 L458.6 635.1 L461.7 644.3 L464.9 645.4 L468.0 644.3 L471.2 643.6 L474.3 649.3 L477.4 657.5 L480.6 652.3 L483.7 650.5 L486.9 655.7 L490.0 649.9 L493.1 647.5 L496.3 646.8 L499.4 651.0 L502.6 638.4 L505.7 631.7 L508.8 626.9 L512.0 626.8 L515.1 624.4 L518.3 630.3 L521.4 625.4 L524.5 623.1 L527.7 610.1 L530.8 608.2 L534.0 597.2 L537.1 588.1 L540.2 568.8 L543.4 580.2 L546.5 581.0 L549.7 579.1 L552.8 585.3 L555.9 579.9 L559.1 575.1 L562.2 572.2 L565.4 572.5 L568.5 561.8 L571.6 570.4 L574.8 574.8 L577.9 585.3 L581.1 587.7 L584.2 595.1 L587.3 581.6 L590.5 577.9 L593.6 578.7 L596.8 589.6 L599.9 591.1 L603.0 594.5 L606.2 600.3 L609.3 615.2 L612.5 624.2 L615.6 627.2 L618.7 633.0 L621.9 640.5 L625.0 619.1 L628.2 604.6 L631.3 604.4 L634.4 608.1 L637.6 625.3 L640.7 632.9 L643.9 621.7 L647.0 614.1 L650.1 607.6 L653.3 604.5 L656.4 597.9 L659.6 602.2 L662.7 603.2 L665.8 595.1 L669.0 590.5 L672.1 587.4 L675.3 591.2 L678.4 597.1 L681.5 588.5 L684.7 579.8 L687.8 577.9 L691.0 577.4 L694.1 580.6 L697.2 567.1 L700.4 572.8 L703.5 570.0 L706.7 576.5 L709.8 583.3 L712.9 581.5 L716.1 575.9 L719.2 568.7 L722.4 576.2 L725.5 573.7 L728.6 577.2 L731.8 583.2 L734.9 581.1 L738.1 585.4 L741.2 578.0 L744.3 579.2 L747.5 573.7 L750.6 574.8 L753.8 582.7 L756.9 590.0 L760.0 585.0 L763.2 586.8 L766.3 589.7 L769.5 598.8 L772.6 588.1 L775.7 587.9 L778.9 586.1 L782.0 591.5 L785.2 601.4 L788.3 607.4 L791.4 605.2 L794.6 602.3 L797.7 602.9 L800.9 607.4 L804.0 611.5 L807.1 608.5 L810.3 603.1 L813.4 595.4 L816.6 586.7 L819.7 589.6 L822.8 584.8 L826.0 599.4 L829.1 599.6 L832.3 599.9 L835.4 593.2 L838.5 587.8 L841.7 597.2 L844.8 600.7 L848.0 606.5 L851.1 600.9 L854.2 594.1 L857.4 589.2 L860.5 582.6 L863.7 581.8 L866.8 582.2 L869.9 593.6 L873.1 583.2 L876.2 582.8 L879.4 586.7 L882.5 581.3 L885.6 592.6 L888.8 597.0 L891.9 588.5 L895.1 582.8 L898.2 577.2 L901.3 576.4 L904.5 584.4 L907.6 588.7 L910.8 593.4 L913.9 592.3 L917.0 600.2 L920.2 602.9 L923.3 591.0 L926.5 584.1 L929.6 584.6 L932.7 585.3 L935.9 596.7 L939.0 598.3 L942.2 597.1 L945.3 595.4 L948.4 595.2 L951.6 602.1 L954.7 595.7 L957.9 596.0 L961.0 594.8 L964.1 590.7 L967.3 600.5 L970.4 597.3 L973.6 599.9 L976.7 591.9 L979.8 588.4 L983.0 579.8 L986.1 589.2 L989.3 591.9 L992.4 599.1" stroke="#0323F7" stroke-width="8" fill="none" stroke-linejoin="round" stroke-linecap="round"/>
<rect x="176" y="74" width="817" height="656" fill="none" stroke="#000" stroke-width="3.8"/>
<text x="237.8" y="790.8" font-size="50" text-anchor="middle" >0</text>
<text x="363.5" y="790.8" font-size="50" text-anchor="middle" >10</text>
<text x="489.2" y="790.8" font-size="50" text-anchor="middle" >20</text>
<text x="614.9" y="790.8" font-size="50" text-anchor="middle" >30</text>
<text x="740.6" y="790.8" font-size="50" text-anchor="middle" >40</text>
<text x="866.3" y="790.8" font-size="50" text-anchor="middle" >50</text>
<text x="992.0" y="790.8" font-size="50" text-anchor="middle" >60</text>
<text x="160.7" y="703.1" font-size="50" text-anchor="end" ><tspan font-size="41" dy="-3">−</tspan><tspan dy="3">15</tspan></text>
<text x="160.7" y="609.4" font-size="50" text-anchor="end" ><tspan font-size="41" dy="-3">−</tspan><tspan dy="3">10</tspan></text>
<text x="160.7" y="515.7" font-size="50" text-anchor="end" ><tspan font-size="41" dy="-3">−</tspan><tspan dy="3">5</tspan></text>
<text x="160.7" y="422.0" font-size="50" text-anchor="end" >0</text>
<text x="160.7" y="328.3" font-size="50" text-anchor="end" >5</text>
<text x="160.7" y="234.6" font-size="50" text-anchor="end" >10</text>
<text x="160.7" y="140.9" font-size="50" text-anchor="end" >15</text>
<path d="M1311.3 730v-13.8M1311.3 74v13.8M1374.2 730v-6.5M1374.2 74v6.5M1437.0 730v-13.8M1437.0 74v13.8M1499.9 730v-6.5M1499.9 74v6.5M1562.7 730v-13.8M1562.7 74v13.8M1625.6 730v-6.5M1625.6 74v6.5M1688.4 730v-13.8M1688.4 74v13.8M1751.3 730v-6.5M1751.3 74v6.5M1814.1 730v-13.8M1814.1 74v13.8M1877.0 730v-6.5M1877.0 74v6.5M1939.8 730v-13.8M1939.8 74v13.8M2002.7 730v-6.5M2002.7 74v6.5M1248.5 718.0h6.5M2065.5 718.0h-6.5M1248.5 654.9h13.8M2065.5 654.9h-13.8M1248.5 591.8h6.5M2065.5 591.8h-6.5M1248.5 528.8h13.8M2065.5 528.8h-13.8M1248.5 465.7h6.5M2065.5 465.7h-6.5M1248.5 402.6h13.8M2065.5 402.6h-13.8M1248.5 339.5h6.5M2065.5 339.5h-6.5M1248.5 276.5h13.8M2065.5 276.5h-13.8M1248.5 213.4h6.5M2065.5 213.4h-6.5M1248.5 150.3h13.8M2065.5 150.3h-13.8M1248.5 87.2h6.5M2065.5 87.2h-6.5" stroke="#000" stroke-width="3.6" fill="none"/>
<path d="M1248.5 201.4V220.4M1242.0 201.4h13M1242.0 220.4h13M1251.6 189.7V205.4M1245.1 189.7h13M1245.1 205.4h13M1254.8 182.8V207.6M1248.3 182.8h13M1248.3 207.6h13M1257.9 194.4V219.2M1251.4 194.4h13M1251.4 219.2h13M1261.1 193.6V219.1M1254.6 193.6h13M1254.6 219.1h13M1264.2 187.7V210.6M1257.7 187.7h13M1257.7 210.6h13M1267.3 180.0V204.6M1260.8 180.0h13M1260.8 204.6h13M1270.5 183.5V204.3M1264.0 183.5h13M1264.0 204.3h13M1273.6 183.2V207.3M1267.1 183.2h13M1267.1 207.3h13M1276.8 189.7V207.7M1270.3 189.7h13M1270.3 207.7h13M1279.9 188.2V211.3M1273.4 188.2h13M1273.4 211.3h13M1283.0 190.2V213.3M1276.5 190.2h13M1276.5 213.3h13M1286.2 191.5V213.0M1279.7 191.5h13M1279.7 213.0h13M1289.3 192.1V216.1M1282.8 192.1h13M1282.8 216.1h13M1292.5 189.1V211.2M1286.0 189.1h13M1286.0 211.2h13M1295.6 188.7V205.7M1289.1 188.7h13M1289.1 205.7h13M1298.7 184.2V198.8M1292.2 184.2h13M1292.2 198.8h13M1301.9 198.0V215.9M1295.4 198.0h13M1295.4 215.9h13M1305.0 204.3V220.6M1298.5 204.3h13M1298.5 220.6h13M1308.2 200.4V225.3M1301.7 200.4h13M1301.7 225.3h13M1311.3 203.7V224.1M1304.8 203.7h13M1304.8 224.1h13M1314.4 209.9V232.7M1307.9 209.9h13M1307.9 232.7h13M1317.6 227.1V252.2M1311.1 227.1h13M1311.1 252.2h13M1320.7 236.3V259.8M1314.2 236.3h13M1314.2 259.8h13M1323.9 231.5V255.9M1317.4 231.5h13M1317.4 255.9h13M1327.0 219.0V239.7M1320.5 219.0h13M1320.5 239.7h13M1330.1 203.0V226.1M1323.6 203.0h13M1323.6 226.1h13M1333.3 176.4V201.9M1326.8 176.4h13M1326.8 201.9h13M1336.4 185.1V204.4M1329.9 185.1h13M1329.9 204.4h13M1339.6 196.2V218.6M1333.1 196.2h13M1333.1 218.6h13M1342.7 194.9V220.3M1336.2 194.9h13M1336.2 220.3h13M1345.8 198.5V215.4M1339.3 198.5h13M1339.3 215.4h13M1349.0 212.2V227.1M1342.5 212.2h13M1342.5 227.1h13M1352.1 225.1V244.8M1345.6 225.1h13M1345.6 244.8h13M1355.3 219.3V243.9M1348.8 219.3h13M1348.8 243.9h13M1358.4 214.1V234.3M1351.9 214.1h13M1351.9 234.3h13M1361.5 195.2V211.7M1355.0 195.2h13M1355.0 211.7h13M1364.7 155.3V181.1M1358.2 155.3h13M1358.2 181.1h13M1367.8 136.5V156.2M1361.3 136.5h13M1361.3 156.2h13M1371.0 122.7V141.9M1364.5 122.7h13M1364.5 141.9h13M1374.1 131.6V146.4M1367.6 131.6h13M1367.6 146.4h13M1377.2 152.3V171.5M1370.7 152.3h13M1370.7 171.5h13M1380.4 177.3V203.0M1373.9 177.3h13M1373.9 203.0h13M1383.5 225.8V245.0M1377.0 225.8h13M1377.0 245.0h13M1386.7 252.0V275.4M1380.2 252.0h13M1380.2 275.4h13M1389.8 233.3V258.5M1383.3 233.3h13M1383.3 258.5h13M1392.9 194.7V208.8M1386.4 194.7h13M1386.4 208.8h13M1396.1 156.3V178.6M1389.6 156.3h13M1389.6 178.6h13M1399.2 135.3V151.0M1392.7 135.3h13M1392.7 151.0h13M1402.4 110.3V130.4M1395.9 110.3h13M1395.9 130.4h13M1405.5 101.5V125.7M1399.0 101.5h13M1399.0 125.7h13M1408.6 120.8V139.1M1402.1 120.8h13M1402.1 139.1h13M1411.8 146.3V168.9M1405.3 146.3h13M1405.3 168.9h13M1414.9 179.8V197.2M1408.4 179.8h13M1408.4 197.2h13M1418.1 219.0V240.2M1411.6 219.0h13M1411.6 240.2h13M1421.2 245.0V267.8M1414.7 245.0h13M1414.7 267.8h13M1424.3 236.7V257.2M1417.8 236.7h13M1417.8 257.2h13M1427.5 214.8V232.7M1421.0 214.8h13M1421.0 232.7h13M1430.6 181.9V204.8M1424.1 181.9h13M1424.1 204.8h13M1433.8 158.9V174.5M1427.3 158.9h13M1427.3 174.5h13M1436.9 128.8V146.8M1430.4 128.8h13M1430.4 146.8h13M1440.0 113.6V137.0M1433.5 113.6h13M1433.5 137.0h13M1443.2 127.7V147.7M1436.7 127.7h13M1436.7 147.7h13M1446.3 152.7V167.8M1439.8 152.7h13M1439.8 167.8h13M1449.5 173.0V195.2M1443.0 173.0h13M1443.0 195.2h13M1452.6 204.3V229.3M1446.1 204.3h13M1446.1 229.3h13M1455.7 235.3V251.4M1449.2 235.3h13M1449.2 251.4h13M1458.9 237.6V262.6M1452.4 237.6h13M1452.4 262.6h13M1462.0 221.4V235.5M1455.5 221.4h13M1455.5 235.5h13M1465.2 188.4V213.9M1458.7 188.4h13M1458.7 213.9h13M1468.3 171.6V192.9M1461.8 171.6h13M1461.8 192.9h13M1471.4 150.5V167.6M1464.9 150.5h13M1464.9 167.6h13M1474.6 140.7V156.7M1468.1 140.7h13M1468.1 156.7h13M1477.7 150.1V169.3M1471.2 150.1h13M1471.2 169.3h13M1480.9 166.1V185.2M1474.4 166.1h13M1474.4 185.2h13M1484.0 185.9V206.0M1477.5 185.9h13M1477.5 206.0h13M1487.1 211.3V231.5M1480.6 211.3h13M1480.6 231.5h13M1490.3 233.7V248.8M1483.8 233.7h13M1483.8 248.8h13M1493.4 228.9V245.9M1486.9 228.9h13M1486.9 245.9h13M1496.6 215.7V231.5M1490.1 215.7h13M1490.1 231.5h13M1499.7 196.1V219.9M1493.2 196.1h13M1493.2 219.9h13M1502.8 185.9V201.7M1496.3 185.9h13M1496.3 201.7h13M1506.0 166.9V188.9M1499.5 166.9h13M1499.5 188.9h13M1509.1 163.5V178.6M1502.6 163.5h13M1502.6 178.6h13M1512.3 166.0V187.8M1505.8 166.0h13M1505.8 187.8h13M1515.4 178.3V197.5M1508.9 178.3h13M1508.9 197.5h13M1518.5 175.3V195.3M1512.0 175.3h13M1512.0 195.3h13M1521.7 203.5V226.5M1515.2 203.5h13M1515.2 226.5h13M1524.8 206.3V224.0M1518.3 206.3h13M1518.3 224.0h13M1528.0 199.4V221.7M1521.5 199.4h13M1521.5 221.7h13M1531.1 192.5V217.4M1524.6 192.5h13M1524.6 217.4h13M1534.2 183.4V206.3M1527.7 183.4h13M1527.7 206.3h13M1537.4 177.1V198.3M1530.9 177.1h13M1530.9 198.3h13M1540.5 172.6V194.9M1534.0 172.6h13M1534.0 194.9h13M1543.7 184.6V209.3M1537.2 184.6h13M1537.2 209.3h13M1546.8 201.1V215.4M1540.3 201.1h13M1540.3 215.4h13M1549.9 201.0V226.9M1543.4 201.0h13M1543.4 226.9h13M1553.1 204.7V224.3M1546.6 204.7h13M1546.6 224.3h13M1556.2 194.2V218.9M1549.7 194.2h13M1549.7 218.9h13M1559.4 189.9V204.6M1552.9 189.9h13M1552.9 204.6h13M1562.5 177.8V195.2M1556.0 177.8h13M1556.0 195.2h13M1565.6 171.1V191.8M1559.1 171.1h13M1559.1 191.8h13M1568.8 176.5V197.3M1562.3 176.5h13M1562.3 197.3h13M1571.9 183.2V208.5M1565.4 183.2h13M1565.4 208.5h13M1575.1 196.8V214.6M1568.6 196.8h13M1568.6 214.6h13M1578.2 212.5V229.3M1571.7 212.5h13M1571.7 229.3h13M1581.3 219.7V241.3M1574.8 219.7h13M1574.8 241.3h13M1584.5 220.9V236.9M1578.0 220.9h13M1578.0 236.9h13M1587.6 204.3V229.3M1581.1 204.3h13M1581.1 229.3h13M1590.8 198.0V214.8M1584.3 198.0h13M1584.3 214.8h13M1593.9 179.9V193.9M1587.4 179.9h13M1587.4 193.9h13M1597.0 155.7V177.2M1590.5 155.7h13M1590.5 177.2h13M1600.2 148.7V165.4M1593.7 148.7h13M1593.7 165.4h13M1603.3 150.5V175.5M1596.8 150.5h13M1596.8 175.5h13M1606.5 168.2V183.5M1600.0 168.2h13M1600.0 183.5h13M1609.6 184.8V204.8M1603.1 184.8h13M1603.1 204.8h13M1612.7 206.2V227.4M1606.2 206.2h13M1606.2 227.4h13M1615.9 215.1V235.1M1609.4 215.1h13M1609.4 235.1h13M1619.0 211.5V226.3M1612.5 211.5h13M1612.5 226.3h13M1622.2 194.9V215.1M1615.7 194.9h13M1615.7 215.1h13M1625.3 189.9V205.5M1618.8 189.9h13M1618.8 205.5h13M1628.4 179.1V193.7M1621.9 179.1h13M1621.9 193.7h13M1631.6 167.0V191.9M1625.1 167.0h13M1625.1 191.9h13M1634.7 169.4V186.5M1628.2 169.4h13M1628.2 186.5h13M1637.9 168.2V183.1M1631.4 168.2h13M1631.4 183.1h13M1641.0 166.5V180.7M1634.5 166.5h13M1634.5 180.7h13M1644.1 170.5V194.9M1637.6 170.5h13M1637.6 194.9h13M1647.3 184.5V208.8M1640.8 184.5h13M1640.8 208.8h13M1650.4 196.4V219.3M1643.9 196.4h13M1643.9 219.3h13M1653.6 205.4V228.9M1647.1 205.4h13M1647.1 228.9h13M1656.7 214.5V231.9M1650.2 214.5h13M1650.2 231.9h13M1659.8 209.0V229.9M1653.3 209.0h13M1653.3 229.9h13M1663.0 194.8V217.6M1656.5 194.8h13M1656.5 217.6h13M1666.1 184.0V201.0M1659.6 184.0h13M1659.6 201.0h13M1669.3 161.4V184.2M1662.8 161.4h13M1662.8 184.2h13M1672.4 155.5V179.1M1665.9 155.5h13M1665.9 179.1h13M1675.5 161.0V181.3M1669.0 161.0h13M1669.0 181.3h13M1678.7 166.5V188.3M1672.2 166.5h13M1672.2 188.3h13M1681.8 186.7V201.0M1675.3 186.7h13M1675.3 201.0h13M1685.0 198.8V217.3M1678.5 198.8h13M1678.5 217.3h13M1688.1 207.2V225.1M1681.6 207.2h13M1681.6 225.1h13M1691.2 211.8V230.2M1684.7 211.8h13M1684.7 230.2h13M1694.4 201.9V227.0M1687.9 201.9h13M1687.9 227.0h13M1697.5 191.5V216.8M1691.0 191.5h13M1691.0 216.8h13M1700.7 187.6V202.3M1694.2 187.6h13M1694.2 202.3h13M1703.8 173.8V194.8M1697.3 173.8h13M1697.3 194.8h13M1706.9 169.9V186.3M1700.4 169.9h13M1700.4 186.3h13M1710.1 171.1V192.9M1703.6 171.1h13M1703.6 192.9h13M1713.2 177.1V202.8M1706.7 177.1h13M1706.7 202.8h13M1716.4 191.0V206.7M1709.9 191.0h13M1709.9 206.7h13M1719.5 201.8V220.4M1713.0 201.8h13M1713.0 220.4h13M1722.6 210.0V228.1M1716.1 210.0h13M1716.1 228.1h13M1725.8 209.0V231.5M1719.3 209.0h13M1719.3 231.5h13M1728.9 203.7V227.5M1722.4 203.7h13M1722.4 227.5h13M1732.1 204.6V219.1M1725.6 204.6h13M1725.6 219.1h13M1735.2 197.2V213.7M1728.7 197.2h13M1728.7 213.7h13M1738.3 187.7V206.2M1731.8 187.7h13M1731.8 206.2h13M1741.5 179.8V205.3M1735.0 179.8h13M1735.0 205.3h13M1744.6 183.8V206.9M1738.1 183.8h13M1738.1 206.9h13M1747.8 189.7V211.2M1741.3 189.7h13M1741.3 211.2h13M1750.9 192.7V218.3M1744.4 192.7h13M1744.4 218.3h13M1754.0 199.4V218.2M1747.5 199.4h13M1747.5 218.2h13M1757.2 200.3V223.9M1750.7 200.3h13M1750.7 223.9h13M1760.3 203.5V220.5M1753.8 203.5h13M1753.8 220.5h13M1763.5 203.6V220.7M1757.0 203.6h13M1757.0 220.7h13M1766.6 195.6V220.6M1760.1 195.6h13M1760.1 220.6h13M1769.7 189.8V213.6M1763.2 189.8h13M1763.2 213.6h13M1772.9 186.0V207.5M1766.4 186.0h13M1766.4 207.5h13M1776.0 184.4V200.3M1769.5 184.4h13M1769.5 200.3h13M1779.2 183.6V201.4M1772.7 183.6h13M1772.7 201.4h13M1782.3 195.0V220.1M1775.8 195.0h13M1775.8 220.1h13M1785.4 204.5V223.9M1778.9 204.5h13M1778.9 223.9h13M1788.6 199.7V214.2M1782.1 199.7h13M1782.1 214.2h13M1791.7 185.9V202.7M1785.2 185.9h13M1785.2 202.7h13M1794.9 189.4V210.5M1788.4 189.4h13M1788.4 210.5h13M1798.0 203.1V227.4M1791.5 203.1h13M1791.5 227.4h13M1801.1 207.3V226.7M1794.6 207.3h13M1794.6 226.7h13M1804.3 199.5V216.4M1797.8 199.5h13M1797.8 216.4h13M1807.4 188.3V211.9M1800.9 188.3h13M1800.9 211.9h13M1810.6 194.2V212.0M1804.1 194.2h13M1804.1 212.0h13M1813.7 197.0V214.2M1807.2 197.0h13M1807.2 214.2h13M1816.8 195.6V216.6M1810.3 195.6h13M1810.3 216.6h13M1820.0 189.5V209.7M1813.5 189.5h13M1813.5 209.7h13M1823.1 178.8V203.2M1816.6 178.8h13M1816.6 203.2h13M1826.3 182.2V201.7M1819.8 182.2h13M1819.8 201.7h13M1829.4 200.5V222.2M1822.9 200.5h13M1822.9 222.2h13M1832.5 205.5V225.0M1826.0 205.5h13M1826.0 225.0h13M1835.7 199.3V221.4M1829.2 199.3h13M1829.2 221.4h13M1838.8 193.1V218.0M1832.3 193.1h13M1832.3 218.0h13M1842.0 193.1V208.3M1835.5 193.1h13M1835.5 208.3h13M1845.1 182.8V207.5M1838.6 182.8h13M1838.6 207.5h13M1848.2 185.2V210.1M1841.7 185.2h13M1841.7 210.1h13M1851.4 196.8V215.1M1844.9 196.8h13M1844.9 215.1h13M1854.5 201.3V215.3M1848.0 201.3h13M1848.0 215.3h13M1857.7 190.0V209.5M1851.2 190.0h13M1851.2 209.5h13M1860.8 184.0V206.1M1854.3 184.0h13M1854.3 206.1h13M1863.9 195.4V211.8M1857.4 195.4h13M1857.4 211.8h13M1867.1 205.7V221.9M1860.6 205.7h13M1860.6 221.9h13M1870.2 205.3V223.6M1863.7 205.3h13M1863.7 223.6h13M1873.4 196.2V220.9M1866.9 196.2h13M1866.9 220.9h13M1876.5 192.7V213.9M1870.0 192.7h13M1870.0 213.9h13M1879.6 194.1V216.5M1873.1 194.1h13M1873.1 216.5h13M1882.8 198.2V219.3M1876.3 198.2h13M1876.3 219.3h13M1885.9 197.2V219.3M1879.4 197.2h13M1879.4 219.3h13M1889.1 201.8V221.0M1882.6 201.8h13M1882.6 221.0h13M1892.2 199.7V219.6M1885.7 199.7h13M1885.7 219.6h13M1895.3 206.1V221.4M1888.8 206.1h13M1888.8 221.4h13M1898.5 208.1V234.0M1892.0 208.1h13M1892.0 234.0h13M1901.6 212.6V228.6M1895.1 212.6h13M1895.1 228.6h13M1904.8 192.0V215.8M1898.3 192.0h13M1898.3 215.8h13M1907.9 191.1V212.7M1901.4 191.1h13M1901.4 212.7h13M1911.0 195.2V218.2M1904.5 195.2h13M1904.5 218.2h13M1914.2 200.3V220.7M1907.7 200.3h13M1907.7 220.7h13M1917.3 208.1V228.7M1910.8 208.1h13M1910.8 228.7h13M1920.5 210.7V228.8M1914.0 210.7h13M1914.0 228.8h13M1923.6 207.2V222.1M1917.1 207.2h13M1917.1 222.1h13M1926.7 192.5V214.1M1920.2 192.5h13M1920.2 214.1h13M1929.9 191.2V212.6M1923.4 191.2h13M1923.4 212.6h13M1933.0 198.5V216.4M1926.5 198.5h13M1926.5 216.4h13M1936.2 201.8V226.8M1929.7 201.8h13M1929.7 226.8h13M1939.3 212.0V237.1M1932.8 212.0h13M1932.8 237.1h13M1942.4 210.7V229.1M1935.9 210.7h13M1935.9 229.1h13M1945.6 200.7V220.3M1939.1 200.7h13M1939.1 220.3h13M1948.7 201.6V218.1M1942.2 201.6h13M1942.2 218.1h13M1951.9 200.1V222.7M1945.4 200.1h13M1945.4 222.7h13M1955.0 206.2V222.6M1948.5 206.2h13M1948.5 222.6h13M1958.1 209.2V227.0M1951.6 209.2h13M1951.6 227.0h13M1961.3 207.6V233.0M1954.8 207.6h13M1954.8 233.0h13M1964.4 211.0V226.8M1957.9 211.0h13M1957.9 226.8h13M1967.6 202.3V227.0M1961.1 202.3h13M1961.1 227.0h13M1970.7 200.2V221.0M1964.2 200.2h13M1964.2 221.0h13M1973.8 197.7V214.0M1967.3 197.7h13M1967.3 214.0h13M1977.0 191.5V215.2M1970.5 191.5h13M1970.5 215.2h13M1980.1 195.6V216.7M1973.6 195.6h13M1973.6 216.7h13M1983.3 200.8V224.2M1976.8 200.8h13M1976.8 224.2h13M1986.4 205.8V224.3M1979.9 205.8h13M1979.9 224.3h13M1989.5 209.0V226.8M1983.0 209.0h13M1983.0 226.8h13M1992.7 209.4V224.7M1986.2 209.4h13M1986.2 224.7h13M1995.8 208.6V224.1M1989.3 208.6h13M1989.3 224.1h13M1999.0 201.0V221.2M1992.5 201.0h13M1992.5 221.2h13M2002.1 200.6V219.4M1995.6 200.6h13M1995.6 219.4h13M2005.2 200.5V215.2M1998.7 200.5h13M1998.7 215.2h13M2008.4 199.5V215.8M2001.9 199.5h13M2001.9 215.8h13M2011.5 197.4V217.3M2005.0 197.4h13M2005.0 217.3h13M2014.7 201.8V216.4M2008.2 201.8h13M2008.2 216.4h13M2017.8 204.7V218.8M2011.3 204.7h13M2011.3 218.8h13M2020.9 203.1V225.1M2014.4 203.1h13M2014.4 225.1h13M2024.1 206.7V221.8M2017.6 206.7h13M2017.6 221.8h13M2027.2 205.3V224.3M2020.7 205.3h13M2020.7 224.3h13M2030.4 199.4V224.6M2023.9 199.4h13M2023.9 224.6h13M2033.5 200.7V215.8M2027.0 200.7h13M2027.0 215.8h13M2036.6 198.5V217.2M2030.1 198.5h13M2030.1 217.2h13M2039.8 204.5V220.9M2033.3 204.5h13M2033.3 220.9h13M2042.9 202.9V226.4M2036.4 202.9h13M2036.4 226.4h13M2046.1 204.1V224.3M2039.6 204.1h13M2039.6 224.3h13M2049.2 200.3V215.3M2042.7 200.3h13M2042.7 215.3h13M2052.3 193.7V216.8M2045.8 193.7h13M2045.8 216.8h13M2055.5 189.4V214.4M2049.0 189.4h13M2049.0 214.4h13M2058.6 191.1V214.6M2052.1 191.1h13M2052.1 214.6h13M2061.8 197.6V214.3M2055.3 197.6h13M2055.3 214.3h13M2064.9 196.5V222.4M2058.4 196.5h13M2058.4 222.4h13" stroke="#EB3425" stroke-width="2.4" fill="none"/>
<path d="M1248.5 210.9 L1251.6 197.6 L1254.8 195.2 L1257.9 206.8 L1261.1 206.3 L1264.2 199.2 L1267.3 192.3 L1270.5 193.9 L1273.6 195.2 L1276.8 198.7 L1279.9 199.7 L1283.0 201.7 L1286.2 202.3 L1289.3 204.1 L1292.5 200.1 L1295.6 197.2 L1298.7 191.5 L1301.9 207.0 L1305.0 212.5 L1308.2 212.8 L1311.3 213.9 L1314.4 221.3 L1317.6 239.6 L1320.7 248.0 L1323.9 243.7 L1327.0 229.3 L1330.1 214.6 L1333.3 189.2 L1336.4 194.8 L1339.6 207.4 L1342.7 207.6 L1345.8 207.0 L1349.0 219.7 L1352.1 235.0 L1355.3 231.6 L1358.4 224.2 L1361.5 203.4 L1364.7 168.2 L1367.8 146.4 L1371.0 132.3 L1374.1 139.0 L1377.2 161.9 L1380.4 190.1 L1383.5 235.4 L1386.7 263.7 L1389.8 245.9 L1392.9 201.8 L1396.1 167.5 L1399.2 143.2 L1402.4 120.3 L1405.5 113.6 L1408.6 130.0 L1411.8 157.6 L1414.9 188.5 L1418.1 229.6 L1421.2 256.4 L1424.3 246.9 L1427.5 223.7 L1430.6 193.4 L1433.8 166.7 L1436.9 137.8 L1440.0 125.3 L1443.2 137.7 L1446.3 160.3 L1449.5 184.1 L1452.6 216.8 L1455.7 243.4 L1458.9 250.1 L1462.0 228.5 L1465.2 201.1 L1468.3 182.3 L1471.4 159.1 L1474.6 148.7 L1477.7 159.7 L1480.9 175.6 L1484.0 195.9 L1487.1 221.4 L1490.3 241.3 L1493.4 237.4 L1496.6 223.6 L1499.7 208.0 L1502.8 193.8 L1506.0 177.9 L1509.1 171.0 L1512.3 176.9 L1515.4 187.9 L1518.5 185.3 L1521.7 215.0 L1524.8 215.1 L1528.0 210.6 L1531.1 205.0 L1534.2 194.8 L1537.4 187.7 L1540.5 183.8 L1543.7 196.9 L1546.8 208.3 L1549.9 213.9 L1553.1 214.5 L1556.2 206.5 L1559.4 197.2 L1562.5 186.5 L1565.6 181.5 L1568.8 186.9 L1571.9 195.8 L1575.1 205.7 L1578.2 220.9 L1581.3 230.5 L1584.5 228.9 L1587.6 216.8 L1590.8 206.4 L1593.9 186.9 L1597.0 166.4 L1600.2 157.1 L1603.3 163.0 L1606.5 175.9 L1609.6 194.8 L1612.7 216.8 L1615.9 225.1 L1619.0 218.9 L1622.2 205.0 L1625.3 197.7 L1628.4 186.4 L1631.6 179.5 L1634.7 178.0 L1637.9 175.6 L1641.0 173.6 L1644.1 182.7 L1647.3 196.7 L1650.4 207.9 L1653.6 217.1 L1656.7 223.2 L1659.8 219.5 L1663.0 206.2 L1666.1 192.5 L1669.3 172.8 L1672.4 167.3 L1675.5 171.1 L1678.7 177.4 L1681.8 193.9 L1685.0 208.1 L1688.1 216.2 L1691.2 221.0 L1694.4 214.5 L1697.5 204.1 L1700.7 194.9 L1703.8 184.3 L1706.9 178.1 L1710.1 182.0 L1713.2 189.9 L1716.4 198.9 L1719.5 211.1 L1722.6 219.1 L1725.8 220.3 L1728.9 215.6 L1732.1 211.8 L1735.2 205.5 L1738.3 197.0 L1741.5 192.6 L1744.6 195.4 L1747.8 200.4 L1750.9 205.5 L1754.0 208.8 L1757.2 212.1 L1760.3 212.0 L1763.5 212.1 L1766.6 208.1 L1769.7 201.7 L1772.9 196.8 L1776.0 192.4 L1779.2 192.5 L1782.3 207.6 L1785.4 214.2 L1788.6 207.0 L1791.7 194.3 L1794.9 200.0 L1798.0 215.3 L1801.1 217.0 L1804.3 208.0 L1807.4 200.1 L1810.6 203.1 L1813.7 205.6 L1816.8 206.1 L1820.0 199.6 L1823.1 191.0 L1826.3 192.0 L1829.4 211.3 L1832.5 215.3 L1835.7 210.4 L1838.8 205.5 L1842.0 200.7 L1845.1 195.1 L1848.2 197.6 L1851.4 205.9 L1854.5 208.3 L1857.7 199.8 L1860.8 195.0 L1863.9 203.6 L1867.1 213.8 L1870.2 214.5 L1873.4 208.5 L1876.5 203.3 L1879.6 205.3 L1882.8 208.7 L1885.9 208.2 L1889.1 211.4 L1892.2 209.6 L1895.3 213.8 L1898.5 221.1 L1901.6 220.6 L1904.8 203.9 L1907.9 201.9 L1911.0 206.7 L1914.2 210.5 L1917.3 218.4 L1920.5 219.7 L1923.6 214.6 L1926.7 203.3 L1929.9 201.9 L1933.0 207.4 L1936.2 214.3 L1939.3 224.6 L1942.4 219.9 L1945.6 210.5 L1948.7 209.9 L1951.9 211.4 L1955.0 214.4 L1958.1 218.1 L1961.3 220.3 L1964.4 218.9 L1967.6 214.7 L1970.7 210.6 L1973.8 205.8 L1977.0 203.4 L1980.1 206.1 L1983.3 212.5 L1986.4 215.0 L1989.5 217.9 L1992.7 217.1 L1995.8 216.3 L1999.0 211.1 L2002.1 210.0 L2005.2 207.8 L2008.4 207.6 L2011.5 207.4 L2014.7 209.1 L2017.8 211.8 L2020.9 214.1 L2024.1 214.3 L2027.2 214.8 L2030.4 212.0 L2033.5 208.3 L2036.6 207.9 L2039.8 212.7 L2042.9 214.7 L2046.1 214.2 L2049.2 207.8 L2052.3 205.3 L2055.5 201.9 L2058.6 202.8 L2061.8 205.9 L2064.9 209.5" stroke="#EB3425" stroke-width="7.5" fill="none" stroke-linejoin="round" stroke-linecap="round"/>
<path d="M1248.5 393.7V412.8M1242.0 393.7h13M1242.0 412.8h13M1251.6 397.3V416.0M1245.1 397.3h13M1245.1 416.0h13M1254.8 401.6V423.8M1248.3 401.6h13M1248.3 423.8h13M1257.9 397.0V420.5M1251.4 397.0h13M1251.4 420.5h13M1261.1 385.3V403.4M1254.6 385.3h13M1254.6 403.4h13M1264.2 386.3V405.6M1257.7 386.3h13M1257.7 405.6h13M1267.3 403.0V417.8M1260.8 403.0h13M1260.8 417.8h13M1270.5 403.3V421.7M1264.0 403.3h13M1264.0 421.7h13M1273.6 399.2V424.6M1267.1 399.2h13M1267.1 424.6h13M1276.8 400.2V420.3M1270.3 400.2h13M1270.3 420.3h13M1279.9 395.5V416.2M1273.4 395.5h13M1273.4 416.2h13M1283.0 390.4V411.6M1276.5 390.4h13M1276.5 411.6h13M1286.2 386.2V407.0M1279.7 386.2h13M1279.7 407.0h13M1289.3 382.6V406.2M1282.8 382.6h13M1282.8 406.2h13M1292.5 382.8V399.9M1286.0 382.8h13M1286.0 399.9h13M1295.6 382.9V400.7M1289.1 382.9h13M1289.1 400.7h13M1298.7 385.6V410.2M1292.2 385.6h13M1292.2 410.2h13M1301.9 392.0V412.0M1295.4 392.0h13M1295.4 412.0h13M1305.0 396.1V421.6M1298.5 396.1h13M1298.5 421.6h13M1308.2 405.2V420.9M1301.7 405.2h13M1301.7 420.9h13M1311.3 393.4V416.8M1304.8 393.4h13M1304.8 416.8h13M1314.4 380.3V400.0M1307.9 380.3h13M1307.9 400.0h13M1317.6 377.0V396.7M1311.1 377.0h13M1311.1 396.7h13M1320.7 392.9V417.5M1314.2 392.9h13M1314.2 417.5h13M1323.9 403.5V419.1M1317.4 403.5h13M1317.4 419.1h13M1327.0 374.8V394.9M1320.5 374.8h13M1320.5 394.9h13M1330.1 363.4V380.4M1323.6 363.4h13M1323.6 380.4h13M1333.3 380.8V398.9M1326.8 380.8h13M1326.8 398.9h13M1336.4 394.5V418.3M1329.9 394.5h13M1329.9 418.3h13M1339.6 411.0V429.7M1333.1 411.0h13M1333.1 429.7h13M1342.7 414.0V437.4M1336.2 414.0h13M1336.2 437.4h13M1345.8 421.4V435.6M1339.3 421.4h13M1339.3 435.6h13M1349.0 416.4V442.3M1342.5 416.4h13M1342.5 442.3h13M1352.1 408.5V434.0M1345.6 408.5h13M1345.6 434.0h13M1355.3 389.8V411.9M1348.8 389.8h13M1348.8 411.9h13M1358.4 379.9V396.3M1351.9 379.9h13M1351.9 396.3h13M1361.5 361.2V383.1M1355.0 361.2h13M1355.0 383.1h13M1364.7 335.0V351.3M1358.2 335.0h13M1358.2 351.3h13M1367.8 309.0V327.5M1361.3 309.0h13M1361.3 327.5h13M1371.0 313.2V327.6M1364.5 313.2h13M1364.5 327.6h13M1374.1 344.7V359.6M1367.6 344.7h13M1367.6 359.6h13M1377.2 376.8V392.7M1370.7 376.8h13M1370.7 392.7h13M1380.4 412.2V428.3M1373.9 412.2h13M1373.9 428.3h13M1383.5 436.3V460.3M1377.0 436.3h13M1377.0 460.3h13M1386.7 458.2V475.1M1380.2 458.2h13M1380.2 475.1h13M1389.8 451.7V475.6M1383.3 451.7h13M1383.3 475.6h13M1392.9 411.2V425.3M1386.4 411.2h13M1386.4 425.3h13M1396.1 358.8V373.5M1389.6 358.8h13M1389.6 373.5h13M1399.2 318.2V332.9M1392.7 318.2h13M1392.7 332.9h13M1402.4 286.1V311.3M1395.9 286.1h13M1395.9 311.3h13M1405.5 303.0V326.8M1399.0 303.0h13M1399.0 326.8h13M1408.6 338.3V352.5M1402.1 338.3h13M1402.1 352.5h13M1411.8 365.5V390.6M1405.3 365.5h13M1405.3 390.6h13M1414.9 400.2V416.9M1408.4 400.2h13M1408.4 416.9h13M1418.1 430.6V447.8M1411.6 430.6h13M1411.6 447.8h13M1421.2 449.5V470.5M1414.7 449.5h13M1414.7 470.5h13M1424.3 445.4V461.9M1417.8 445.4h13M1417.8 461.9h13M1427.5 416.0V441.7M1421.0 416.0h13M1421.0 441.7h13M1430.6 389.9V408.3M1424.1 389.9h13M1424.1 408.3h13M1433.8 348.0V368.9M1427.3 348.0h13M1427.3 368.9h13M1436.9 311.6V332.5M1430.4 311.6h13M1430.4 332.5h13M1440.0 298.4V315.8M1433.5 298.4h13M1433.5 315.8h13M1443.2 321.1V343.9M1436.7 321.1h13M1436.7 343.9h13M1446.3 351.8V377.8M1439.8 351.8h13M1439.8 377.8h13M1449.5 383.5V404.7M1443.0 383.5h13M1443.0 404.7h13M1452.6 409.5V424.5M1446.1 409.5h13M1446.1 424.5h13M1455.7 428.9V452.6M1449.2 428.9h13M1449.2 452.6h13M1458.9 445.6V467.6M1452.4 445.6h13M1452.4 467.6h13M1462.0 438.7V458.6M1455.5 438.7h13M1455.5 458.6h13M1465.2 400.0V421.9M1458.7 400.0h13M1458.7 421.9h13M1468.3 367.4V384.5M1461.8 367.4h13M1461.8 384.5h13M1471.4 329.4V347.0M1464.9 329.4h13M1464.9 347.0h13M1474.6 311.1V331.3M1468.1 311.1h13M1468.1 331.3h13M1477.7 327.5V342.4M1471.2 327.5h13M1471.2 342.4h13M1480.9 353.2V374.3M1474.4 353.2h13M1474.4 374.3h13M1484.0 381.3V397.5M1477.5 381.3h13M1477.5 397.5h13M1487.1 411.1V428.1M1480.6 411.1h13M1480.6 428.1h13M1490.3 412.7V437.5M1483.8 412.7h13M1483.8 437.5h13M1493.4 415.7V436.7M1486.9 415.7h13M1486.9 436.7h13M1496.6 415.3V432.2M1490.1 415.3h13M1490.1 432.2h13M1499.7 409.1V431.5M1493.2 409.1h13M1493.2 431.5h13M1502.8 397.2V423.2M1496.3 397.2h13M1496.3 423.2h13M1506.0 385.1V409.9M1499.5 385.1h13M1499.5 409.9h13M1509.1 361.7V385.3M1502.6 361.7h13M1502.6 385.3h13M1512.3 349.5V367.5M1505.8 349.5h13M1505.8 367.5h13M1515.4 357.6V378.6M1508.9 357.6h13M1508.9 378.6h13M1518.5 374.8V395.8M1512.0 374.8h13M1512.0 395.8h13M1521.7 400.3V415.3M1515.2 400.3h13M1515.2 415.3h13M1524.8 390.3V412.6M1518.3 390.3h13M1518.3 412.6h13M1528.0 377.7V397.9M1521.5 377.7h13M1521.5 397.9h13M1531.1 385.3V405.6M1524.6 385.3h13M1524.6 405.6h13M1534.2 390.3V413.2M1527.7 390.3h13M1527.7 413.2h13M1537.4 387.7V402.7M1530.9 387.7h13M1530.9 402.7h13M1540.5 379.7V396.3M1534.0 379.7h13M1534.0 396.3h13M1543.7 382.5V408.3M1537.2 382.5h13M1537.2 408.3h13M1546.8 407.7V425.3M1540.3 407.7h13M1540.3 425.3h13M1549.9 397.7V414.8M1543.4 397.7h13M1543.4 414.8h13M1553.1 383.8V398.7M1546.6 383.8h13M1546.6 398.7h13M1556.2 367.5V385.3M1549.7 367.5h13M1549.7 385.3h13M1559.4 353.9V374.6M1552.9 353.9h13M1552.9 374.6h13M1562.5 355.7V370.2M1556.0 355.7h13M1556.0 370.2h13M1565.6 361.8V379.2M1559.1 361.8h13M1559.1 379.2h13M1568.8 372.6V389.6M1562.3 372.6h13M1562.3 389.6h13M1571.9 384.1V400.0M1565.4 384.1h13M1565.4 400.0h13M1575.1 394.2V417.7M1568.6 394.2h13M1568.6 417.7h13M1578.2 407.4V433.0M1571.7 407.4h13M1571.7 433.0h13M1581.3 420.1V445.1M1574.8 420.1h13M1574.8 445.1h13M1584.5 422.8V442.1M1578.0 422.8h13M1578.0 442.1h13M1587.6 407.4V422.2M1581.1 407.4h13M1581.1 422.2h13M1590.8 380.9V399.1M1584.3 380.9h13M1584.3 399.1h13M1593.9 349.7V370.0M1587.4 349.7h13M1587.4 370.0h13M1597.0 332.4V350.9M1590.5 332.4h13M1590.5 350.9h13M1600.2 334.5V357.2M1593.7 334.5h13M1593.7 357.2h13M1603.3 349.9V372.8M1596.8 349.9h13M1596.8 372.8h13M1606.5 368.3V393.0M1600.0 368.3h13M1600.0 393.0h13M1609.6 392.5V412.1M1603.1 392.5h13M1603.1 412.1h13M1612.7 407.8V424.7M1606.2 407.8h13M1606.2 424.7h13M1615.9 414.7V439.6M1609.4 414.7h13M1609.4 439.6h13M1619.0 416.6V441.2M1612.5 416.6h13M1612.5 441.2h13M1622.2 414.4V429.9M1615.7 414.4h13M1615.7 429.9h13M1625.3 401.9V418.5M1618.8 401.9h13M1618.8 418.5h13M1628.4 378.8V400.7M1621.9 378.8h13M1621.9 400.7h13M1631.6 352.8V376.6M1625.1 352.8h13M1625.1 376.6h13M1634.7 340.0V365.5M1628.2 340.0h13M1628.2 365.5h13M1637.9 352.5V366.8M1631.4 352.5h13M1631.4 366.8h13M1641.0 364.1V380.4M1634.5 364.1h13M1634.5 380.4h13M1644.1 380.0V399.1M1637.6 380.0h13M1637.6 399.1h13M1647.3 398.1V418.7M1640.8 398.1h13M1640.8 418.7h13M1650.4 417.7V441.1M1643.9 417.7h13M1643.9 441.1h13M1653.6 431.9V452.6M1647.1 431.9h13M1647.1 452.6h13M1656.7 420.5V440.7M1650.2 420.5h13M1650.2 440.7h13M1659.8 402.3V419.1M1653.3 402.3h13M1653.3 419.1h13M1663.0 382.5V404.3M1656.5 382.5h13M1656.5 404.3h13M1666.1 366.5V387.5M1659.6 366.5h13M1659.6 387.5h13M1669.3 357.9V383.3M1662.8 357.9h13M1662.8 383.3h13M1672.4 360.3V376.6M1665.9 360.3h13M1665.9 376.6h13M1675.5 358.4V373.9M1669.0 358.4h13M1669.0 373.9h13M1678.7 366.3V384.6M1672.2 366.3h13M1672.2 384.6h13M1681.8 389.2V407.2M1675.3 389.2h13M1675.3 407.2h13M1685.0 407.2V426.6M1678.5 407.2h13M1678.5 426.6h13M1688.1 417.3V433.4M1681.6 417.3h13M1681.6 433.4h13M1691.2 408.1V430.5M1684.7 408.1h13M1684.7 430.5h13M1694.4 397.3V421.2M1687.9 397.3h13M1687.9 421.2h13M1697.5 392.0V406.1M1691.0 392.0h13M1691.0 406.1h13M1700.7 370.9V395.9M1694.2 370.9h13M1694.2 395.9h13M1703.8 361.4V376.5M1697.3 361.4h13M1697.3 376.5h13M1706.9 355.5V373.2M1700.4 355.5h13M1700.4 373.2h13M1710.1 357.2V377.0M1703.6 357.2h13M1703.6 377.0h13M1713.2 367.8V386.9M1706.7 367.8h13M1706.7 386.9h13M1716.4 383.3V399.9M1709.9 383.3h13M1709.9 399.9h13M1719.5 393.6V416.4M1713.0 393.6h13M1713.0 416.4h13M1722.6 402.3V426.4M1716.1 402.3h13M1716.1 426.4h13M1725.8 407.4V424.1M1719.3 407.4h13M1719.3 424.1h13M1728.9 404.9V420.8M1722.4 404.9h13M1722.4 420.8h13M1732.1 400.1V420.3M1725.6 400.1h13M1725.6 420.3h13M1735.2 392.4V408.1M1728.7 392.4h13M1728.7 408.1h13M1738.3 372.9V398.2M1731.8 372.9h13M1731.8 398.2h13M1741.5 366.1V390.3M1735.0 366.1h13M1735.0 390.3h13M1744.6 370.6V394.6M1738.1 370.6h13M1738.1 394.6h13M1747.8 380.7V399.7M1741.3 380.7h13M1741.3 399.7h13M1750.9 387.5V410.9M1744.4 387.5h13M1744.4 410.9h13M1754.0 399.5V418.2M1747.5 399.5h13M1747.5 418.2h13M1757.2 402.3V421.8M1750.7 402.3h13M1750.7 421.8h13M1760.3 404.9V420.1M1753.8 404.9h13M1753.8 420.1h13M1763.5 404.1V418.6M1757.0 404.1h13M1757.0 418.6h13M1766.6 394.2V416.3M1760.1 394.2h13M1760.1 416.3h13M1769.7 389.1V405.4M1763.2 389.1h13M1763.2 405.4h13M1772.9 379.5V405.0M1766.4 379.5h13M1766.4 405.0h13M1776.0 377.1V397.8M1769.5 377.1h13M1769.5 397.8h13M1779.2 380.5V401.4M1772.7 380.5h13M1772.7 401.4h13M1782.3 386.3V411.0M1775.8 386.3h13M1775.8 411.0h13M1785.4 391.2V408.8M1778.9 391.2h13M1778.9 408.8h13M1788.6 394.5V408.6M1782.1 394.5h13M1782.1 408.6h13M1791.7 393.2V409.8M1785.2 393.2h13M1785.2 409.8h13M1794.9 387.3V406.8M1788.4 387.3h13M1788.4 406.8h13M1798.0 389.4V405.2M1791.5 389.4h13M1791.5 405.2h13M1801.1 389.0V406.4M1794.6 389.0h13M1794.6 406.4h13M1804.3 388.5V411.3M1797.8 388.5h13M1797.8 411.3h13M1807.4 391.3V409.8M1800.9 391.3h13M1800.9 409.8h13M1810.6 389.7V407.8M1804.1 389.7h13M1804.1 407.8h13M1813.7 384.0V400.8M1807.2 384.0h13M1807.2 400.8h13M1816.8 382.5V402.9M1810.3 382.5h13M1810.3 402.9h13M1820.0 380.0V406.0M1813.5 380.0h13M1813.5 406.0h13M1823.1 382.8V398.8M1816.6 382.8h13M1816.6 398.8h13M1826.3 380.7V404.9M1819.8 380.7h13M1819.8 404.9h13M1829.4 388.8V412.1M1822.9 388.8h13M1822.9 412.1h13M1832.5 391.9V413.1M1826.0 391.9h13M1826.0 413.1h13M1835.7 399.5V420.0M1829.2 399.5h13M1829.2 420.0h13M1838.8 406.6V426.9M1832.3 406.6h13M1832.3 426.9h13M1842.0 412.7V427.9M1835.5 412.7h13M1835.5 427.9h13M1845.1 406.8V427.7M1838.6 406.8h13M1838.6 427.7h13M1848.2 395.8V421.7M1841.7 395.8h13M1841.7 421.7h13M1851.4 389.7V412.4M1844.9 389.7h13M1844.9 412.4h13M1854.5 385.8V405.4M1848.0 385.8h13M1848.0 405.4h13M1857.7 381.9V401.2M1851.2 381.9h13M1851.2 401.2h13M1860.8 383.8V408.2M1854.3 383.8h13M1854.3 408.2h13M1863.9 394.6V408.6M1857.4 394.6h13M1857.4 408.6h13M1867.1 394.3V410.7M1860.6 394.3h13M1860.6 410.7h13M1870.2 383.9V409.4M1863.7 383.9h13M1863.7 409.4h13M1873.4 381.8V403.7M1866.9 381.8h13M1866.9 403.7h13M1876.5 383.6V407.5M1870.0 383.6h13M1870.0 407.5h13M1879.6 396.6V417.0M1873.1 396.6h13M1873.1 417.0h13M1882.8 405.8V420.3M1876.3 405.8h13M1876.3 420.3h13M1885.9 402.3V422.7M1879.4 402.3h13M1879.4 422.7h13M1889.1 401.0V422.6M1882.6 401.0h13M1882.6 422.6h13M1892.2 401.3V416.4M1885.7 401.3h13M1885.7 416.4h13M1895.3 399.2V419.0M1888.8 399.2h13M1888.8 419.0h13M1898.5 394.9V420.2M1892.0 394.9h13M1892.0 420.2h13M1901.6 394.4V409.2M1895.1 394.4h13M1895.1 409.2h13M1904.8 389.4V404.0M1898.3 389.4h13M1898.3 404.0h13M1907.9 388.3V403.5M1901.4 388.3h13M1901.4 403.5h13M1911.0 392.2V414.4M1904.5 392.2h13M1904.5 414.4h13M1914.2 400.3V425.0M1907.7 400.3h13M1907.7 425.0h13M1917.3 404.4V420.3M1910.8 404.4h13M1910.8 420.3h13M1920.5 394.0V418.1M1914.0 394.0h13M1914.0 418.1h13M1923.6 392.4V409.0M1917.1 392.4h13M1917.1 409.0h13M1926.7 392.9V413.4M1920.2 392.9h13M1920.2 413.4h13M1929.9 395.5V418.7M1923.4 395.5h13M1923.4 418.7h13M1933.0 402.7V418.1M1926.5 402.7h13M1926.5 418.1h13M1936.2 398.2V418.0M1929.7 398.2h13M1929.7 418.0h13M1939.3 393.7V418.1M1932.8 393.7h13M1932.8 418.1h13M1942.4 391.6V409.8M1935.9 391.6h13M1935.9 409.8h13M1945.6 390.5V414.1M1939.1 390.5h13M1939.1 414.1h13M1948.7 393.8V413.2M1942.2 393.8h13M1942.2 413.2h13M1951.9 391.0V416.3M1945.4 391.0h13M1945.4 416.3h13M1955.0 396.9V415.8M1948.5 396.9h13M1948.5 415.8h13M1958.1 393.8V417.7M1951.6 393.8h13M1951.6 417.7h13M1961.3 402.0V416.9M1954.8 402.0h13M1954.8 416.9h13M1964.4 402.0V420.1M1957.9 402.0h13M1957.9 420.1h13M1967.6 396.3V412.0M1961.1 396.3h13M1961.1 412.0h13M1970.7 387.8V406.6M1964.2 387.8h13M1964.2 406.6h13M1973.8 394.1V413.0M1967.3 394.1h13M1967.3 413.0h13M1977.0 404.2V421.0M1970.5 404.2h13M1970.5 421.0h13M1980.1 402.1V421.1M1973.6 402.1h13M1973.6 421.1h13M1983.3 397.4V419.6M1976.8 397.4h13M1976.8 419.6h13M1986.4 394.0V414.9M1979.9 394.0h13M1979.9 414.9h13M1989.5 394.5V411.4M1983.0 394.5h13M1983.0 411.4h13M1992.7 389.1V411.6M1986.2 389.1h13M1986.2 411.6h13M1995.8 386.8V409.3M1989.3 386.8h13M1989.3 409.3h13M1999.0 387.6V406.7M1992.5 387.6h13M1992.5 406.7h13M2002.1 391.8V411.3M1995.6 391.8h13M1995.6 411.3h13M2005.2 399.5V415.6M1998.7 399.5h13M1998.7 415.6h13M2008.4 394.3V418.3M2001.9 394.3h13M2001.9 418.3h13M2011.5 391.8V410.1M2005.0 391.8h13M2005.0 410.1h13M2014.7 386.4V403.9M2008.2 386.4h13M2008.2 403.9h13M2017.8 384.7V409.8M2011.3 384.7h13M2011.3 409.8h13M2020.9 404.0V421.7M2014.4 404.0h13M2014.4 421.7h13M2024.1 407.5V423.9M2017.6 407.5h13M2017.6 423.9h13M2027.2 396.6V415.2M2020.7 396.6h13M2020.7 415.2h13M2030.4 385.5V405.7M2023.9 385.5h13M2023.9 405.7h13M2033.5 382.9V404.3M2027.0 382.9h13M2027.0 404.3h13M2036.6 389.0V407.8M2030.1 389.0h13M2030.1 407.8h13M2039.8 391.1V413.3M2033.3 391.1h13M2033.3 413.3h13M2042.9 397.2V411.5M2036.4 397.2h13M2036.4 411.5h13M2046.1 393.2V418.4M2039.6 393.2h13M2039.6 418.4h13M2049.2 397.5V417.0M2042.7 397.5h13M2042.7 417.0h13M2052.3 397.5V416.9M2045.8 397.5h13M2045.8 416.9h13M2055.5 395.6V415.0M2049.0 395.6h13M2049.0 415.0h13M2058.6 393.7V411.1M2052.1 393.7h13M2052.1 411.1h13M2061.8 390.1V413.9M2055.3 390.1h13M2055.3 413.9h13M2064.9 393.0V412.4M2058.4 393.0h13M2058.4 412.4h13" stroke="#EA3EF6" stroke-width="2.4" fill="none"/>
<path d="M1248.5 403.3 L1251.6 406.7 L1254.8 412.7 L1257.9 408.7 L1261.1 394.4 L1264.2 395.9 L1267.3 410.4 L1270.5 412.5 L1273.6 411.9 L1276.8 410.3 L1279.9 405.8 L1283.0 401.0 L1286.2 396.6 L1289.3 394.4 L1292.5 391.3 L1295.6 391.8 L1298.7 397.9 L1301.9 402.0 L1305.0 408.9 L1308.2 413.0 L1311.3 405.1 L1314.4 390.1 L1317.6 386.8 L1320.7 405.2 L1323.9 411.3 L1327.0 384.9 L1330.1 371.9 L1333.3 389.8 L1336.4 406.4 L1339.6 420.3 L1342.7 425.7 L1345.8 428.5 L1349.0 429.3 L1352.1 421.2 L1355.3 400.9 L1358.4 388.1 L1361.5 372.1 L1364.7 343.1 L1367.8 318.3 L1371.0 320.4 L1374.1 352.2 L1377.2 384.8 L1380.4 420.2 L1383.5 448.3 L1386.7 466.6 L1389.8 463.6 L1392.9 418.2 L1396.1 366.1 L1399.2 325.6 L1402.4 298.7 L1405.5 314.9 L1408.6 345.4 L1411.8 378.0 L1414.9 408.5 L1418.1 439.2 L1421.2 460.0 L1424.3 453.7 L1427.5 428.8 L1430.6 399.1 L1433.8 358.5 L1436.9 322.0 L1440.0 307.1 L1443.2 332.5 L1446.3 364.8 L1449.5 394.1 L1452.6 417.0 L1455.7 440.7 L1458.9 456.6 L1462.0 448.6 L1465.2 411.0 L1468.3 376.0 L1471.4 338.2 L1474.6 321.2 L1477.7 334.9 L1480.9 363.7 L1484.0 389.4 L1487.1 419.6 L1490.3 425.1 L1493.4 426.2 L1496.6 423.8 L1499.7 420.3 L1502.8 410.2 L1506.0 397.5 L1509.1 373.5 L1512.3 358.5 L1515.4 368.1 L1518.5 385.3 L1521.7 407.8 L1524.8 401.4 L1528.0 387.8 L1531.1 395.4 L1534.2 401.7 L1537.4 395.2 L1540.5 388.0 L1543.7 395.4 L1546.8 416.5 L1549.9 406.3 L1553.1 391.3 L1556.2 376.4 L1559.4 364.3 L1562.5 363.0 L1565.6 370.5 L1568.8 381.1 L1571.9 392.0 L1575.1 405.9 L1578.2 420.2 L1581.3 432.6 L1584.5 432.4 L1587.6 414.8 L1590.8 390.0 L1593.9 359.8 L1597.0 341.6 L1600.2 345.9 L1603.3 361.3 L1606.5 380.7 L1609.6 402.3 L1612.7 416.3 L1615.9 427.1 L1619.0 428.9 L1622.2 422.2 L1625.3 410.2 L1628.4 389.7 L1631.6 364.7 L1634.7 352.8 L1637.9 359.7 L1641.0 372.3 L1644.1 389.5 L1647.3 408.4 L1650.4 429.4 L1653.6 442.2 L1656.7 430.6 L1659.8 410.7 L1663.0 393.4 L1666.1 377.0 L1669.3 370.6 L1672.4 368.5 L1675.5 366.2 L1678.7 375.5 L1681.8 398.2 L1685.0 416.9 L1688.1 425.3 L1691.2 419.3 L1694.4 409.3 L1697.5 399.0 L1700.7 383.4 L1703.8 369.0 L1706.9 364.4 L1710.1 367.1 L1713.2 377.4 L1716.4 391.6 L1719.5 405.0 L1722.6 414.3 L1725.8 415.7 L1728.9 412.8 L1732.1 410.2 L1735.2 400.2 L1738.3 385.5 L1741.5 378.2 L1744.6 382.6 L1747.8 390.2 L1750.9 399.2 L1754.0 408.8 L1757.2 412.1 L1760.3 412.5 L1763.5 411.4 L1766.6 405.2 L1769.7 397.2 L1772.9 392.3 L1776.0 387.4 L1779.2 390.9 L1782.3 398.6 L1785.4 400.0 L1788.6 401.5 L1791.7 401.5 L1794.9 397.1 L1798.0 397.3 L1801.1 397.7 L1804.3 399.9 L1807.4 400.6 L1810.6 398.7 L1813.7 392.4 L1816.8 392.7 L1820.0 393.0 L1823.1 390.8 L1826.3 392.8 L1829.4 400.5 L1832.5 402.5 L1835.7 409.7 L1838.8 416.8 L1842.0 420.3 L1845.1 417.2 L1848.2 408.7 L1851.4 401.0 L1854.5 395.6 L1857.7 391.5 L1860.8 396.0 L1863.9 401.6 L1867.1 402.5 L1870.2 396.6 L1873.4 392.7 L1876.5 395.6 L1879.6 406.8 L1882.8 413.1 L1885.9 412.5 L1889.1 411.8 L1892.2 408.8 L1895.3 409.1 L1898.5 407.5 L1901.6 401.8 L1904.8 396.7 L1907.9 395.9 L1911.0 403.3 L1914.2 412.6 L1917.3 412.3 L1920.5 406.1 L1923.6 400.7 L1926.7 403.2 L1929.9 407.1 L1933.0 410.4 L1936.2 408.1 L1939.3 405.9 L1942.4 400.7 L1945.6 402.3 L1948.7 403.5 L1951.9 403.7 L1955.0 406.3 L1958.1 405.7 L1961.3 409.4 L1964.4 411.0 L1967.6 404.2 L1970.7 397.2 L1973.8 403.5 L1977.0 412.6 L1980.1 411.6 L1983.3 408.5 L1986.4 404.5 L1989.5 403.0 L1992.7 400.4 L1995.8 398.0 L1999.0 397.2 L2002.1 401.6 L2005.2 407.6 L2008.4 406.3 L2011.5 401.0 L2014.7 395.1 L2017.8 397.2 L2020.9 412.9 L2024.1 415.7 L2027.2 405.9 L2030.4 395.6 L2033.5 393.6 L2036.6 398.4 L2039.8 402.2 L2042.9 404.4 L2046.1 405.8 L2049.2 407.2 L2052.3 407.2 L2055.5 405.3 L2058.6 402.4 L2061.8 402.0 L2064.9 402.7" stroke="#EA3EF6" stroke-width="7.5" fill="none" stroke-linejoin="round" stroke-linecap="round"/>
<path d="M1248.5 611.7V627.8M1242.0 611.7h13M1242.0 627.8h13M1251.6 609.6V625.0M1245.1 609.6h13M1245.1 625.0h13M1254.8 601.7V620.0M1248.3 601.7h13M1248.3 620.0h13M1257.9 602.4V626.8M1251.4 602.4h13M1251.4 626.8h13M1261.1 604.5V625.0M1254.6 604.5h13M1254.6 625.0h13M1264.2 595.0V609.5M1257.7 595.0h13M1257.7 609.5h13M1267.3 589.8V614.7M1260.8 589.8h13M1260.8 614.7h13M1270.5 612.5V636.4M1264.0 612.5h13M1264.0 636.4h13M1273.6 616.3V631.0M1267.1 616.3h13M1267.1 631.0h13M1276.8 592.9V616.3M1270.3 592.9h13M1270.3 616.3h13M1279.9 599.9V616.1M1273.4 599.9h13M1273.4 616.1h13M1283.0 613.6V628.2M1276.5 613.6h13M1276.5 628.2h13M1286.2 599.2V617.9M1279.7 599.2h13M1279.7 617.9h13M1289.3 595.8V618.2M1282.8 595.8h13M1282.8 618.2h13M1292.5 617.0V634.2M1286.0 617.0h13M1286.0 634.2h13M1295.6 618.8V638.0M1289.1 618.8h13M1289.1 638.0h13M1298.7 613.7V637.8M1292.2 613.7h13M1292.2 637.8h13M1301.9 613.8V629.2M1295.4 613.8h13M1295.4 629.2h13M1305.0 599.3V621.0M1298.5 599.3h13M1298.5 621.0h13M1308.2 606.7V624.5M1301.7 606.7h13M1301.7 624.5h13M1311.3 613.8V628.5M1304.8 613.8h13M1304.8 628.5h13M1314.4 605.5V628.7M1307.9 605.5h13M1307.9 628.7h13M1317.6 597.1V619.2M1311.1 597.1h13M1311.1 619.2h13M1320.7 591.1V610.7M1314.2 591.1h13M1314.2 610.7h13M1323.9 582.7V602.3M1317.4 582.7h13M1317.4 602.3h13M1327.0 578.4V597.0M1320.5 578.4h13M1320.5 597.0h13M1330.1 578.9V601.1M1323.6 578.9h13M1323.6 601.1h13M1333.3 590.0V604.1M1326.8 590.0h13M1326.8 604.1h13M1336.4 603.8V619.1M1329.9 603.8h13M1329.9 619.1h13M1339.6 626.4V641.4M1333.1 626.4h13M1333.1 641.4h13M1342.7 660.1V675.4M1336.2 660.1h13M1336.2 675.4h13M1345.8 653.3V674.0M1339.3 653.3h13M1339.3 674.0h13M1349.0 632.2V651.2M1342.5 632.2h13M1342.5 651.2h13M1352.1 619.5V641.4M1345.6 619.5h13M1345.6 641.4h13M1355.3 620.1V640.4M1348.8 620.1h13M1348.8 640.4h13M1358.4 612.3V635.7M1351.9 612.3h13M1351.9 635.7h13M1361.5 579.2V601.6M1355.0 579.2h13M1355.0 601.6h13M1364.7 554.0V568.4M1358.2 554.0h13M1358.2 568.4h13M1367.8 551.9V566.9M1361.3 551.9h13M1361.3 566.9h13M1371.0 547.0V569.0M1364.5 547.0h13M1364.5 569.0h13M1374.1 554.2V578.4M1367.6 554.2h13M1367.6 578.4h13M1377.2 578.6V602.5M1370.7 578.6h13M1370.7 602.5h13M1380.4 610.2V625.3M1373.9 610.2h13M1373.9 625.3h13M1383.5 653.2V674.4M1377.0 653.2h13M1377.0 674.4h13M1386.7 678.4V694.2M1380.2 678.4h13M1380.2 694.2h13M1389.8 668.5V686.1M1383.3 668.5h13M1383.3 686.1h13M1392.9 642.1V666.3M1386.4 642.1h13M1386.4 666.3h13M1396.1 581.6V603.1M1389.6 581.6h13M1389.6 603.1h13M1399.2 536.3V560.3M1392.7 536.3h13M1392.7 560.3h13M1402.4 522.4V543.7M1395.9 522.4h13M1395.9 543.7h13M1405.5 519.6V544.5M1399.0 519.6h13M1399.0 544.5h13M1408.6 539.6V556.9M1402.1 539.6h13M1402.1 556.9h13M1411.8 564.0V583.7M1405.3 564.0h13M1405.3 583.7h13M1414.9 608.3V633.5M1408.4 608.3h13M1408.4 633.5h13M1418.1 645.4V668.6M1411.6 645.4h13M1411.6 668.6h13M1421.2 677.7V692.3M1414.7 677.7h13M1414.7 692.3h13M1424.3 677.7V694.2M1417.8 677.7h13M1417.8 694.2h13M1427.5 638.5V656.9M1421.0 638.5h13M1421.0 656.9h13M1430.6 602.9V624.5M1424.1 602.9h13M1424.1 624.5h13M1433.8 579.0V596.5M1427.3 579.0h13M1427.3 596.5h13M1436.9 549.1V573.1M1430.4 549.1h13M1430.4 573.1h13M1440.0 531.0V554.7M1433.5 531.0h13M1433.5 554.7h13M1443.2 542.3V561.3M1436.7 542.3h13M1436.7 561.3h13M1446.3 561.9V578.9M1439.8 561.9h13M1439.8 578.9h13M1449.5 590.5V607.4M1443.0 590.5h13M1443.0 607.4h13M1452.6 637.2V654.0M1446.1 637.2h13M1446.1 654.0h13M1455.7 654.0V674.0M1449.2 654.0h13M1449.2 674.0h13M1458.9 666.5V687.0M1452.4 666.5h13M1452.4 687.0h13M1462.0 652.3V677.0M1455.5 652.3h13M1455.5 677.0h13M1465.2 622.2V642.2M1458.7 622.2h13M1458.7 642.2h13M1468.3 594.1V614.8M1461.8 594.1h13M1461.8 614.8h13M1471.4 570.4V587.1M1464.9 570.4h13M1464.9 587.1h13M1474.6 539.6V565.4M1468.1 539.6h13M1468.1 565.4h13M1477.7 526.9V546.6M1471.2 526.9h13M1471.2 546.6h13M1480.9 547.8V563.6M1474.4 547.8h13M1474.4 563.6h13M1484.0 583.4V600.9M1477.5 583.4h13M1477.5 600.9h13M1487.1 612.2V635.0M1480.6 612.2h13M1480.6 635.0h13M1490.3 638.2V655.4M1483.8 638.2h13M1483.8 655.4h13M1493.4 642.9V668.8M1486.9 642.9h13M1486.9 668.8h13M1496.6 651.9V672.6M1490.1 651.9h13M1490.1 672.6h13M1499.7 643.1V666.6M1493.2 643.1h13M1493.2 666.6h13M1502.8 622.8V644.0M1496.3 622.8h13M1496.3 644.0h13M1506.0 601.6V623.9M1499.5 601.6h13M1499.5 623.9h13M1509.1 580.1V598.8M1502.6 580.1h13M1502.6 598.8h13M1512.3 569.8V593.5M1505.8 569.8h13M1505.8 593.5h13M1515.4 575.5V599.1M1508.9 575.5h13M1508.9 599.1h13M1518.5 585.6V609.2M1512.0 585.6h13M1512.0 609.2h13M1521.7 600.1V621.6M1515.2 600.1h13M1515.2 621.6h13M1524.8 606.2V629.8M1518.3 606.2h13M1518.3 629.8h13M1528.0 599.7V623.3M1521.5 599.7h13M1521.5 623.3h13M1531.1 592.9V609.7M1524.6 592.9h13M1524.6 609.7h13M1534.2 608.3V622.8M1527.7 608.3h13M1527.7 622.8h13M1537.4 617.7V642.8M1530.9 617.7h13M1530.9 642.8h13M1540.5 621.6V640.2M1534.0 621.6h13M1534.0 640.2h13M1543.7 618.4V633.3M1537.2 618.4h13M1537.2 633.3h13M1546.8 609.6V634.1M1540.3 609.6h13M1540.3 634.1h13M1549.9 605.7V629.8M1543.4 605.7h13M1543.4 629.8h13M1553.1 601.9V623.3M1546.6 601.9h13M1546.6 623.3h13M1556.2 593.5V608.8M1549.7 593.5h13M1549.7 608.8h13M1559.4 571.4V595.8M1552.9 571.4h13M1552.9 595.8h13M1562.5 567.0V586.8M1556.0 567.0h13M1556.0 586.8h13M1565.6 576.0V591.1M1559.1 576.0h13M1559.1 591.1h13M1568.8 586.7V602.8M1562.3 586.7h13M1562.3 602.8h13M1571.9 603.4V619.1M1565.4 603.4h13M1565.4 619.1h13M1575.1 614.5V638.9M1568.6 614.5h13M1568.6 638.9h13M1578.2 632.9V657.5M1571.7 632.9h13M1571.7 657.5h13M1581.3 637.5V662.7M1574.8 637.5h13M1574.8 662.7h13M1584.5 623.3V641.2M1578.0 623.3h13M1578.0 641.2h13M1587.6 600.2V621.2M1581.1 600.2h13M1581.1 621.2h13M1590.8 580.4V601.8M1584.3 580.4h13M1584.3 601.8h13M1593.9 568.8V587.2M1587.4 568.8h13M1587.4 587.2h13M1597.0 567.2V581.4M1590.5 567.2h13M1590.5 581.4h13M1600.2 569.6V584.3M1593.7 569.6h13M1593.7 584.3h13M1603.3 572.3V587.3M1596.8 572.3h13M1596.8 587.3h13M1606.5 581.8V601.2M1600.0 581.8h13M1600.0 601.2h13M1609.6 610.9V629.9M1603.1 610.9h13M1603.1 629.9h13M1612.7 630.2V644.5M1606.2 630.2h13M1606.2 644.5h13M1615.9 637.6V652.3M1609.4 637.6h13M1609.4 652.3h13M1619.0 635.4V654.0M1612.5 635.4h13M1612.5 654.0h13M1622.2 626.1V647.9M1615.7 626.1h13M1615.7 647.9h13M1625.3 617.9V638.0M1618.8 617.9h13M1618.8 638.0h13M1628.4 597.7V620.8M1621.9 597.7h13M1621.9 620.8h13M1631.6 581.8V602.5M1625.1 581.8h13M1625.1 602.5h13M1634.7 565.0V580.0M1628.2 565.0h13M1628.2 580.0h13M1637.9 554.4V569.7M1631.4 554.4h13M1631.4 569.7h13M1641.0 558.2V576.5M1634.5 558.2h13M1634.5 576.5h13M1644.1 573.1V594.3M1637.6 573.1h13M1637.6 594.3h13M1647.3 594.2V618.5M1640.8 594.2h13M1640.8 618.5h13M1650.4 616.2V640.8M1643.9 616.2h13M1643.9 640.8h13M1653.6 640.5V666.0M1647.1 640.5h13M1647.1 666.0h13M1656.7 651.9V676.3M1650.2 651.9h13M1650.2 676.3h13M1659.8 600.7V619.5M1653.3 600.7h13M1653.3 619.5h13M1663.0 583.2V603.9M1656.5 583.2h13M1656.5 603.9h13M1666.1 579.9V594.6M1659.6 579.9h13M1659.6 594.6h13M1669.3 562.7V588.0M1662.8 562.7h13M1662.8 588.0h13M1672.4 559.2V580.3M1665.9 559.2h13M1665.9 580.3h13M1675.5 571.5V586.0M1669.0 571.5h13M1669.0 586.0h13M1678.7 577.0V601.6M1672.2 577.0h13M1672.2 601.6h13M1681.8 599.6V622.2M1675.3 599.6h13M1675.3 622.2h13M1685.0 618.1V643.9M1678.5 618.1h13M1678.5 643.9h13M1688.1 621.3V636.4M1681.6 621.3h13M1681.6 636.4h13M1691.2 610.1V629.2M1684.7 610.1h13M1684.7 629.2h13M1694.4 598.5V613.8M1687.9 598.5h13M1687.9 613.8h13M1697.5 579.1V604.4M1691.0 579.1h13M1691.0 604.4h13M1700.7 574.2V590.0M1694.2 574.2h13M1694.2 590.0h13M1703.8 563.3V585.9M1697.3 563.3h13M1697.3 585.9h13M1706.9 559.4V581.6M1700.4 559.4h13M1700.4 581.6h13M1710.1 563.8V585.0M1703.6 563.8h13M1703.6 585.0h13M1713.2 581.4V601.1M1706.7 581.4h13M1706.7 601.1h13M1716.4 599.7V618.9M1709.9 599.7h13M1709.9 618.9h13M1719.5 611.0V634.6M1713.0 611.0h13M1713.0 634.6h13M1722.6 622.8V644.0M1716.1 622.8h13M1716.1 644.0h13M1725.8 622.6V640.6M1719.3 622.6h13M1719.3 640.6h13M1728.9 605.8V628.6M1722.4 605.8h13M1722.4 628.6h13M1732.1 599.3V621.4M1725.6 599.3h13M1725.6 621.4h13M1735.2 593.9V613.2M1728.7 593.9h13M1728.7 613.2h13M1738.3 588.5V611.0M1731.8 588.5h13M1731.8 611.0h13M1741.5 589.2V605.1M1735.0 589.2h13M1735.0 605.1h13M1744.6 586.8V605.9M1738.1 586.8h13M1738.1 605.9h13M1747.8 589.0V612.3M1741.3 589.0h13M1741.3 612.3h13M1750.9 595.3V618.8M1744.4 595.3h13M1744.4 618.8h13M1754.0 601.1V624.1M1747.5 601.1h13M1747.5 624.1h13M1757.2 606.0V632.0M1750.7 606.0h13M1750.7 632.0h13M1760.3 600.5V619.2M1753.8 600.5h13M1753.8 619.2h13M1763.5 592.0V616.9M1757.0 592.0h13M1757.0 616.9h13M1766.6 594.8V618.1M1760.1 594.8h13M1760.1 618.1h13M1769.7 597.3V620.4M1763.2 597.3h13M1763.2 620.4h13M1772.9 598.0V615.8M1766.4 598.0h13M1766.4 615.8h13M1776.0 593.6V608.7M1769.5 593.6h13M1769.5 608.7h13M1779.2 592.1V615.3M1772.7 592.1h13M1772.7 615.3h13M1782.3 601.6V616.4M1775.8 601.6h13M1775.8 616.4h13M1785.4 590.8V612.7M1778.9 590.8h13M1778.9 612.7h13M1788.6 595.1V609.3M1782.1 595.1h13M1782.1 609.3h13M1791.7 599.0V615.2M1785.2 599.0h13M1785.2 615.2h13M1794.9 602.6V622.0M1788.4 602.6h13M1788.4 622.0h13M1798.0 610.5V634.6M1791.5 610.5h13M1791.5 634.6h13M1801.1 619.7V637.3M1794.6 619.7h13M1794.6 637.3h13M1804.3 609.8V634.8M1797.8 609.8h13M1797.8 634.8h13M1807.4 597.4V622.7M1800.9 597.4h13M1800.9 622.7h13M1810.6 593.3V616.3M1804.1 593.3h13M1804.1 616.3h13M1813.7 592.9V611.1M1807.2 592.9h13M1807.2 611.1h13M1816.8 595.3V614.8M1810.3 595.3h13M1810.3 614.8h13M1820.0 608.3V634.0M1813.5 608.3h13M1813.5 634.0h13M1823.1 605.6V626.4M1816.6 605.6h13M1816.6 626.4h13M1826.3 593.4V614.6M1819.8 593.4h13M1819.8 614.6h13M1829.4 604.7V625.5M1822.9 604.7h13M1822.9 625.5h13M1832.5 615.6V631.5M1826.0 615.6h13M1826.0 631.5h13M1835.7 611.9V637.8M1829.2 611.9h13M1829.2 637.8h13M1838.8 611.3V632.4M1832.3 611.3h13M1832.3 632.4h13M1842.0 607.9V630.1M1835.5 607.9h13M1835.5 630.1h13M1845.1 608.4V632.2M1838.6 608.4h13M1838.6 632.2h13M1848.2 612.6V632.5M1841.7 612.6h13M1841.7 632.5h13M1851.4 613.9V630.9M1844.9 613.9h13M1844.9 630.9h13M1854.5 600.2V625.4M1848.0 600.2h13M1848.0 625.4h13M1857.7 594.9V611.0M1851.2 594.9h13M1851.2 611.0h13M1860.8 593.6V612.0M1854.3 593.6h13M1854.3 612.0h13M1863.9 599.0V621.4M1857.4 599.0h13M1857.4 621.4h13M1867.1 607.3V626.6M1860.6 607.3h13M1860.6 626.6h13M1870.2 605.5V626.7M1863.7 605.5h13M1863.7 626.7h13M1873.4 597.2V613.9M1866.9 597.2h13M1866.9 613.9h13M1876.5 592.0V616.1M1870.0 592.0h13M1870.0 616.1h13M1879.6 599.9V624.2M1873.1 599.9h13M1873.1 624.2h13M1882.8 609.5V628.8M1876.3 609.5h13M1876.3 628.8h13M1885.9 613.0V638.0M1879.4 613.0h13M1879.4 638.0h13M1889.1 610.7V635.1M1882.6 610.7h13M1882.6 635.1h13M1892.2 608.1V629.9M1885.7 608.1h13M1885.7 629.9h13M1895.3 605.0V621.7M1888.8 605.0h13M1888.8 621.7h13M1898.5 600.9V615.2M1892.0 600.9h13M1892.0 615.2h13M1901.6 591.7V616.9M1895.1 591.7h13M1895.1 616.9h13M1904.8 590.4V615.5M1898.3 590.4h13M1898.3 615.5h13M1907.9 591.5V612.8M1901.4 591.5h13M1901.4 612.8h13M1911.0 594.6V615.0M1904.5 594.6h13M1904.5 615.0h13M1914.2 612.6V635.4M1907.7 612.6h13M1907.7 635.4h13M1917.3 616.7V635.4M1910.8 616.7h13M1910.8 635.4h13M1920.5 613.6V631.5M1914.0 613.6h13M1914.0 631.5h13M1923.6 609.7V627.8M1917.1 609.7h13M1917.1 627.8h13M1926.7 610.7V628.9M1920.2 610.7h13M1920.2 628.9h13M1929.9 610.3V630.8M1923.4 610.3h13M1923.4 630.8h13M1933.0 616.0V630.1M1926.5 616.0h13M1926.5 630.1h13M1936.2 603.1V619.8M1929.7 603.1h13M1929.7 619.8h13M1939.3 587.3V608.0M1932.8 587.3h13M1932.8 608.0h13M1942.4 590.1V614.7M1935.9 590.1h13M1935.9 614.7h13M1945.6 604.2V624.5M1939.1 604.2h13M1939.1 624.5h13M1948.7 609.4V626.8M1942.2 609.4h13M1942.2 626.8h13M1951.9 603.0V628.3M1945.4 603.0h13M1945.4 628.3h13M1955.0 600.3V624.6M1948.5 600.3h13M1948.5 624.6h13M1958.1 605.0V622.3M1951.6 605.0h13M1951.6 622.3h13M1961.3 606.6V632.5M1954.8 606.6h13M1954.8 632.5h13M1964.4 610.7V633.1M1957.9 610.7h13M1957.9 633.1h13M1967.6 608.1V625.2M1961.1 608.1h13M1961.1 625.2h13M1970.7 600.5V621.8M1964.2 600.5h13M1964.2 621.8h13M1973.8 602.4V620.3M1967.3 602.4h13M1967.3 620.3h13M1977.0 610.0V635.1M1970.5 610.0h13M1970.5 635.1h13M1980.1 613.7V635.1M1973.6 613.7h13M1973.6 635.1h13M1983.3 613.4V628.0M1976.8 613.4h13M1976.8 628.0h13M1986.4 605.6V625.8M1979.9 605.6h13M1979.9 625.8h13M1989.5 606.0V626.5M1983.0 606.0h13M1983.0 626.5h13M1992.7 610.4V634.2M1986.2 610.4h13M1986.2 634.2h13M1995.8 612.3V637.6M1989.3 612.3h13M1989.3 637.6h13M1999.0 611.0V633.1M1992.5 611.0h13M1992.5 633.1h13M2002.1 605.3V626.2M1995.6 605.3h13M1995.6 626.2h13M2005.2 605.8V626.2M1998.7 605.8h13M1998.7 626.2h13M2008.4 611.2V627.3M2001.9 611.2h13M2001.9 627.3h13M2011.5 608.4V631.2M2005.0 608.4h13M2005.0 631.2h13M2014.7 608.1V628.1M2008.2 608.1h13M2008.2 628.1h13M2017.8 606.5V625.3M2011.3 606.5h13M2011.3 625.3h13M2020.9 605.8V628.8M2014.4 605.8h13M2014.4 628.8h13M2024.1 608.5V626.8M2017.6 608.5h13M2017.6 626.8h13M2027.2 607.3V629.7M2020.7 607.3h13M2020.7 629.7h13M2030.4 610.8V628.7M2023.9 610.8h13M2023.9 628.7h13M2033.5 613.5V629.8M2027.0 613.5h13M2027.0 629.8h13M2036.6 617.4V638.1M2030.1 617.4h13M2030.1 638.1h13M2039.8 619.2V644.2M2033.3 619.2h13M2033.3 644.2h13M2042.9 620.6V636.9M2036.4 620.6h13M2036.4 636.9h13M2046.1 617.2V633.0M2039.6 617.2h13M2039.6 633.0h13M2049.2 612.3V630.1M2042.7 612.3h13M2042.7 630.1h13M2052.3 606.2V630.5M2045.8 606.2h13M2045.8 630.5h13M2055.5 607.3V626.8M2049.0 607.3h13M2049.0 626.8h13M2058.6 606.5V625.0M2052.1 606.5h13M2052.1 625.0h13M2061.8 608.0V626.4M2055.3 608.0h13M2055.3 626.4h13M2064.9 610.1V628.0M2058.4 610.1h13M2058.4 628.0h13" stroke="#0323F7" stroke-width="2.4" fill="none"/>
<path d="M1248.5 619.8 L1251.6 617.3 L1254.8 610.9 L1257.9 614.6 L1261.1 614.7 L1264.2 602.2 L1267.3 602.3 L1270.5 624.4 L1273.6 623.7 L1276.8 604.6 L1279.9 608.0 L1283.0 620.9 L1286.2 608.6 L1289.3 607.0 L1292.5 625.6 L1295.6 628.4 L1298.7 625.7 L1301.9 621.5 L1305.0 610.2 L1308.2 615.6 L1311.3 621.1 L1314.4 617.1 L1317.6 608.1 L1320.7 600.9 L1323.9 592.5 L1327.0 587.7 L1330.1 590.0 L1333.3 597.0 L1336.4 611.5 L1339.6 633.9 L1342.7 667.8 L1345.8 663.7 L1349.0 641.7 L1352.1 630.4 L1355.3 630.2 L1358.4 624.0 L1361.5 590.4 L1364.7 561.2 L1367.8 559.4 L1371.0 558.0 L1374.1 566.3 L1377.2 590.5 L1380.4 617.8 L1383.5 663.8 L1386.7 686.3 L1389.8 677.3 L1392.9 654.2 L1396.1 592.4 L1399.2 548.3 L1402.4 533.1 L1405.5 532.0 L1408.6 548.3 L1411.8 573.9 L1414.9 620.9 L1418.1 657.0 L1421.2 685.0 L1424.3 685.9 L1427.5 647.7 L1430.6 613.7 L1433.8 587.8 L1436.9 561.1 L1440.0 542.8 L1443.2 551.8 L1446.3 570.4 L1449.5 598.9 L1452.6 645.6 L1455.7 664.0 L1458.9 676.8 L1462.0 664.7 L1465.2 632.2 L1468.3 604.4 L1471.4 578.7 L1474.6 552.5 L1477.7 536.7 L1480.9 555.7 L1484.0 592.1 L1487.1 623.6 L1490.3 646.8 L1493.4 655.8 L1496.6 662.2 L1499.7 654.9 L1502.8 633.4 L1506.0 612.8 L1509.1 589.5 L1512.3 581.6 L1515.4 587.3 L1518.5 597.4 L1521.7 610.9 L1524.8 618.0 L1528.0 611.5 L1531.1 601.3 L1534.2 615.5 L1537.4 630.2 L1540.5 630.9 L1543.7 625.9 L1546.8 621.8 L1549.9 617.7 L1553.1 612.6 L1556.2 601.2 L1559.4 583.6 L1562.5 576.9 L1565.6 583.5 L1568.8 594.8 L1571.9 611.3 L1575.1 626.7 L1578.2 645.2 L1581.3 650.1 L1584.5 632.3 L1587.6 610.7 L1590.8 591.1 L1593.9 578.0 L1597.0 574.3 L1600.2 576.9 L1603.3 579.8 L1606.5 591.5 L1609.6 620.4 L1612.7 637.3 L1615.9 645.0 L1619.0 644.7 L1622.2 637.0 L1625.3 628.0 L1628.4 609.2 L1631.6 592.1 L1634.7 572.5 L1637.9 562.0 L1641.0 567.4 L1644.1 583.7 L1647.3 606.3 L1650.4 628.5 L1653.6 653.3 L1656.7 664.1 L1659.8 610.1 L1663.0 593.5 L1666.1 587.3 L1669.3 575.3 L1672.4 569.8 L1675.5 578.7 L1678.7 589.3 L1681.8 610.9 L1685.0 631.0 L1688.1 628.9 L1691.2 619.7 L1694.4 606.1 L1697.5 591.7 L1700.7 582.1 L1703.8 574.6 L1706.9 570.5 L1710.1 574.4 L1713.2 591.2 L1716.4 609.3 L1719.5 622.8 L1722.6 633.4 L1725.8 631.6 L1728.9 617.2 L1732.1 610.3 L1735.2 603.6 L1738.3 599.7 L1741.5 597.1 L1744.6 596.4 L1747.8 600.6 L1750.9 607.0 L1754.0 612.6 L1757.2 619.0 L1760.3 609.9 L1763.5 604.4 L1766.6 606.5 L1769.7 608.9 L1772.9 606.9 L1776.0 601.1 L1779.2 603.7 L1782.3 609.0 L1785.4 601.7 L1788.6 602.2 L1791.7 607.1 L1794.9 612.3 L1798.0 622.6 L1801.1 628.5 L1804.3 622.3 L1807.4 610.1 L1810.6 604.8 L1813.7 602.0 L1816.8 605.1 L1820.0 621.1 L1823.1 616.0 L1826.3 604.0 L1829.4 615.1 L1832.5 623.5 L1835.7 624.9 L1838.8 621.9 L1842.0 619.0 L1845.1 620.3 L1848.2 622.6 L1851.4 622.4 L1854.5 612.8 L1857.7 603.0 L1860.8 602.8 L1863.9 610.2 L1867.1 617.0 L1870.2 616.1 L1873.4 605.6 L1876.5 604.0 L1879.6 612.0 L1882.8 619.1 L1885.9 625.5 L1889.1 622.9 L1892.2 619.0 L1895.3 613.3 L1898.5 608.1 L1901.6 604.3 L1904.8 603.0 L1907.9 602.1 L1911.0 604.8 L1914.2 624.0 L1917.3 626.0 L1920.5 622.6 L1923.6 618.7 L1926.7 619.8 L1929.9 620.6 L1933.0 623.1 L1936.2 611.5 L1939.3 597.6 L1942.4 602.4 L1945.6 614.4 L1948.7 618.1 L1951.9 615.6 L1955.0 612.5 L1958.1 613.7 L1961.3 619.5 L1964.4 621.9 L1967.6 616.6 L1970.7 611.1 L1973.8 611.4 L1977.0 622.5 L1980.1 624.4 L1983.3 620.7 L1986.4 615.7 L1989.5 616.2 L1992.7 622.3 L1995.8 625.0 L1999.0 622.1 L2002.1 615.8 L2005.2 616.0 L2008.4 619.3 L2011.5 619.8 L2014.7 618.1 L2017.8 615.9 L2020.9 617.3 L2024.1 617.6 L2027.2 618.5 L2030.4 619.8 L2033.5 621.7 L2036.6 627.8 L2039.8 631.7 L2042.9 628.7 L2046.1 625.1 L2049.2 621.2 L2052.3 618.3 L2055.5 617.1 L2058.6 615.7 L2061.8 617.2 L2064.9 619.0" stroke="#0323F7" stroke-width="7.5" fill="none" stroke-linejoin="round" stroke-linecap="round"/>
<rect x="1248.5" y="74" width="817.0" height="656" fill="none" stroke="#000" stroke-width="3.8"/>
<text x="1311.8" y="793.5" font-size="50" text-anchor="middle" >0</text>
<text x="1437.5" y="793.5" font-size="50" text-anchor="middle" >10</text>
<text x="1563.2" y="793.5" font-size="50" text-anchor="middle" >20</text>
<text x="1688.9" y="793.5" font-size="50" text-anchor="middle" >30</text>
<text x="1814.6" y="793.5" font-size="50" text-anchor="middle" >40</text>
<text x="1940.3" y="793.5" font-size="50" text-anchor="middle" >50</text>
<text x="2066.0" y="793.5" font-size="50" text-anchor="middle" >60</text>
<text x="1234.0" y="674.4" font-size="50" text-anchor="end" ><tspan font-size="41" dy="-3">−</tspan><tspan dy="3">20</tspan></text>
<text x="1234.0" y="548.2" font-size="50" text-anchor="end" ><tspan font-size="41" dy="-3">−</tspan><tspan dy="3">10</tspan></text>
<text x="1234.0" y="422.1" font-size="50" text-anchor="end" >0</text>
<text x="1234.0" y="296.0" font-size="50" text-anchor="end" >10</text>
<text x="1234.0" y="169.8" font-size="50" text-anchor="end" >20</text>
<text x="584.8" y="865.8" font-size="49" text-anchor="middle" >Delay (ps)</text>
<text x="1657.3" y="870.8" font-size="49" text-anchor="middle" >Delay (ps)</text>
<text transform="translate(79.5,403.5) rotate(-90)" font-size="49" text-anchor="middle">Δ<tspan font-style="italic">I</tspan>/<tspan font-style="italic">I</tspan> (%)</text>
<text transform="translate(1142,403.5) rotate(-90)" font-size="48.5" text-anchor="middle">Δ<tspan font-style="italic">I</tspan>/<tspan font-style="italic">I</tspan> (%)</text>
<text x="686.0" y="129.1" font-size="42.3" text-anchor="start" >004 Vortex SL</text>
<text x="1737.0" y="127.2" font-size="42.3" text-anchor="start" >004 Vortex sat.</text>
<text x="941.2" y="210.1" font-size="42.5" text-anchor="end" >388 K</text>
<text x="941.2" y="381.0" font-size="42.5" text-anchor="end" >333 K</text>
<text x="941.2" y="543.1" font-size="42.5" text-anchor="end" >293 K</text>
<rect x="905" y="200.8" width="13.4" height="12" rx="2.5" fill="#9a9a9a"/><path d="M908.2 204.6l3.5 3.5 3.5-3.5" stroke="#fff" stroke-width="1.3" fill="none"/>
<text x="0" y="0" font-size="64" font-weight="bold" stroke="#000" stroke-width="2.4" transform="translate(19.3,94.4) scale(1.05,1)">a</text>
<path d="M2353.1 737.4v-6M2353.1 71.3v6M2426.9 737.4v-12M2426.9 71.3v12M2500.8 737.4v-6M2500.8 71.3v6M2574.6 737.4v-12M2574.6 71.3v12M2648.5 737.4v-6M2648.5 71.3v6M2722.3 737.4v-12M2722.3 71.3v12M2796.2 737.4v-6M2796.2 71.3v6M2870.0 737.4v-12M2870.0 71.3v12M2943.9 737.4v-6M2943.9 71.3v6M3017.7 737.4v-12M3017.7 71.3v12M3091.6 737.4v-6M3091.6 71.3v6M2338.3 654.1h6M3165.4 654.1h-6M2338.3 570.9h12M3165.4 570.9h-12M2338.3 487.6h6M3165.4 487.6h-6M2338.3 404.4h12M3165.4 404.4h-12M2338.3 321.1h6M3165.4 321.1h-6M2338.3 237.9h12M3165.4 237.9h-12M2338.3 154.6h6M3165.4 154.6h-6" stroke="#000" stroke-width="3.3" fill="none"/>
<g clip-path="url(#cb)">
<path d="M2338.6 230.0 L2358.7 193.6 L2379.4 199.8 L2399.4 172.4 L2419.3 196.1 L2438.6 218.5 L2459.3 206.0 L2479.2 223.5 L2499.2 204.8 L2519.7 193.6 L2539.6 191.1 L2559.6 219.8 L2579.6 231.0 L2600.0 192.8 L2620.0 143.2 L2640.0 136.2 L2660.0 196.0 L2680.4 193.6 L2700.3 186.8 L2720.3 211.0 L2740.3 174.3 L2761.0 190.3 L2781.0 231.0 L2801.0 222.3 L2820.9 224.7 L2840.8 229.7 L2860.8 231.0 L2881.2 235.8 L2902.4 224.9 L2922.4 227.4 L2942.4 199.9 L2963.2 229.0 L2982.3 218.2 L3003.1 235.7 L3023.1 226.5 L3043.0 240.7 L3063.8 234.9 L3083.0 220.7 L3103.0 225.7 L3122.9 230.7 L3142.9 237.4 L3162.0 219.9" stroke="#EB3425" stroke-width="4.6" fill="none" stroke-linejoin="round"/>
<circle cx="2338.6" cy="230.0" r="10.7" fill="url(#gr)"/>
<circle cx="2358.7" cy="193.6" r="10.7" fill="url(#gr)"/>
<circle cx="2379.4" cy="199.8" r="10.7" fill="url(#gr)"/>
<circle cx="2399.4" cy="172.4" r="10.7" fill="url(#gr)"/>
<circle cx="2419.3" cy="196.1" r="10.7" fill="url(#gr)"/>
<circle cx="2438.6" cy="218.5" r="10.7" fill="url(#gr)"/>
<circle cx="2459.3" cy="206.0" r="10.7" fill="url(#gr)"/>
<circle cx="2479.2" cy="223.5" r="10.7" fill="url(#gr)"/>
<circle cx="2499.2" cy="204.8" r="10.7" fill="url(#gr)"/>
<circle cx="2519.7" cy="193.6" r="10.7" fill="url(#gr)"/>
<circle cx="2539.6" cy="191.1" r="10.7" fill="url(#gr)"/>
<circle cx="2559.6" cy="219.8" r="10.7" fill="url(#gr)"/>
<circle cx="2579.6" cy="231.0" r="10.7" fill="url(#gr)"/>
<circle cx="2600.0" cy="192.8" r="10.7" fill="url(#gr)"/>
<circle cx="2620.0" cy="143.2" r="10.7" fill="url(#gr)"/>
<circle cx="2640.0" cy="136.2" r="10.7" fill="url(#gr)"/>
<circle cx="2660.0" cy="196.0" r="10.7" fill="url(#gr)"/>
<circle cx="2680.4" cy="193.6" r="10.7" fill="url(#gr)"/>
<circle cx="2700.3" cy="186.8" r="10.7" fill="url(#gr)"/>
<circle cx="2720.3" cy="211.0" r="10.7" fill="url(#gr)"/>
<circle cx="2740.3" cy="174.3" r="10.7" fill="url(#gr)"/>
<circle cx="2761.0" cy="190.3" r="10.7" fill="url(#gr)"/>
<circle cx="2781.0" cy="231.0" r="10.7" fill="url(#gr)"/>
<circle cx="2801.0" cy="222.3" r="10.7" fill="url(#gr)"/>
<circle cx="2820.9" cy="224.7" r="10.7" fill="url(#gr)"/>
<circle cx="2840.8" cy="229.7" r="10.7" fill="url(#gr)"/>
<circle cx="2860.8" cy="231.0" r="10.7" fill="url(#gr)"/>
<circle cx="2881.2" cy="235.8" r="10.7" fill="url(#gr)"/>
<circle cx="2902.4" cy="224.9" r="10.7" fill="url(#gr)"/>
<circle cx="2922.4" cy="227.4" r="10.7" fill="url(#gr)"/>
<circle cx="2942.4" cy="199.9" r="10.7" fill="url(#gr)"/>
<circle cx="2963.2" cy="229.0" r="10.7" fill="url(#gr)"/>
<circle cx="2982.3" cy="218.2" r="10.7" fill="url(#gr)"/>
<circle cx="3003.1" cy="235.7" r="10.7" fill="url(#gr)"/>
<circle cx="3023.1" cy="226.5" r="10.7" fill="url(#gr)"/>
<circle cx="3043.0" cy="240.7" r="10.7" fill="url(#gr)"/>
<circle cx="3063.8" cy="234.9" r="10.7" fill="url(#gr)"/>
<circle cx="3083.0" cy="220.7" r="10.7" fill="url(#gr)"/>
<circle cx="3103.0" cy="225.7" r="10.7" fill="url(#gr)"/>
<circle cx="3122.9" cy="230.7" r="10.7" fill="url(#gr)"/>
<circle cx="3142.9" cy="237.4" r="10.7" fill="url(#gr)"/>
<circle cx="3162.0" cy="219.9" r="10.7" fill="url(#gr)"/>
<circle cx="2338.0" cy="214.8" r="8.6" fill="none" stroke="#EB3425" stroke-width="4"/>
<circle cx="2357.5" cy="211.0" r="8.6" fill="none" stroke="#EB3425" stroke-width="4"/>
<circle cx="2377.4" cy="206.8" r="8.6" fill="none" stroke="#EB3425" stroke-width="4"/>
<circle cx="2396.1" cy="212.3" r="8.6" fill="none" stroke="#EB3425" stroke-width="4"/>
<circle cx="2416.1" cy="221.0" r="8.6" fill="none" stroke="#EB3425" stroke-width="4"/>
<circle cx="2436.0" cy="218.5" r="8.6" fill="none" stroke="#EB3425" stroke-width="4"/>
<circle cx="2456.0" cy="223.5" r="8.6" fill="none" stroke="#EB3425" stroke-width="4"/>
<circle cx="2474.7" cy="228.5" r="8.6" fill="none" stroke="#EB3425" stroke-width="4"/>
<circle cx="2494.7" cy="213.5" r="8.6" fill="none" stroke="#EB3425" stroke-width="4"/>
<circle cx="2514.7" cy="212.3" r="8.6" fill="none" stroke="#EB3425" stroke-width="4"/>
<circle cx="2534.6" cy="223.5" r="8.6" fill="none" stroke="#EB3425" stroke-width="4"/>
<circle cx="2554.6" cy="233.5" r="8.6" fill="none" stroke="#EB3425" stroke-width="4"/>
<circle cx="2573.3" cy="234.7" r="8.6" fill="none" stroke="#EB3425" stroke-width="4"/>
<circle cx="2593.3" cy="236.0" r="8.6" fill="none" stroke="#EB3425" stroke-width="4"/>
<circle cx="2613.5" cy="231.0" r="8.6" fill="none" stroke="#EB3425" stroke-width="4"/>
<circle cx="2632.4" cy="219.8" r="8.6" fill="none" stroke="#EB3425" stroke-width="4"/>
<circle cx="2652.4" cy="222.3" r="8.6" fill="none" stroke="#EB3425" stroke-width="4"/>
<circle cx="2672.4" cy="224.7" r="8.6" fill="none" stroke="#EB3425" stroke-width="4"/>
<circle cx="2692.3" cy="226.0" r="8.6" fill="none" stroke="#EB3425" stroke-width="4"/>
<circle cx="2712.3" cy="224.7" r="8.6" fill="none" stroke="#EB3425" stroke-width="4"/>
<circle cx="2731.0" cy="201.0" r="8.6" fill="none" stroke="#EB3425" stroke-width="4"/>
<circle cx="2751.0" cy="161.1" r="8.6" fill="none" stroke="#EB3425" stroke-width="4"/>
<circle cx="2771.0" cy="131.2" r="8.6" fill="none" stroke="#EB3425" stroke-width="4"/>
<circle cx="2791.0" cy="172.3" r="8.6" fill="none" stroke="#EB3425" stroke-width="4"/>
<circle cx="2809.6" cy="166.1" r="8.6" fill="none" stroke="#EB3425" stroke-width="4"/>
<circle cx="2829.6" cy="103.7" r="8.6" fill="none" stroke="#EB3425" stroke-width="4"/>
<circle cx="2849.6" cy="132.4" r="8.6" fill="none" stroke="#EB3425" stroke-width="4"/>
<circle cx="2869.5" cy="184.8" r="8.6" fill="none" stroke="#EB3425" stroke-width="4"/>
<circle cx="2887.5" cy="219.9" r="8.6" fill="none" stroke="#EB3425" stroke-width="4"/>
<circle cx="2906.6" cy="223.2" r="8.6" fill="none" stroke="#EB3425" stroke-width="4"/>
<circle cx="2927.4" cy="213.2" r="8.6" fill="none" stroke="#EB3425" stroke-width="4"/>
<circle cx="2947.4" cy="214.0" r="8.6" fill="none" stroke="#EB3425" stroke-width="4"/>
<circle cx="2966.5" cy="228.0" r="8.6" fill="none" stroke="#EB3425" stroke-width="4"/>
<circle cx="2986.5" cy="231.5" r="8.6" fill="none" stroke="#EB3425" stroke-width="4"/>
<circle cx="3006.4" cy="223.2" r="8.6" fill="none" stroke="#EB3425" stroke-width="4"/>
<circle cx="3026.4" cy="223.2" r="8.6" fill="none" stroke="#EB3425" stroke-width="4"/>
<circle cx="3046.4" cy="224.9" r="8.6" fill="none" stroke="#EB3425" stroke-width="4"/>
<circle cx="3065.5" cy="232.0" r="8.6" fill="none" stroke="#EB3425" stroke-width="4"/>
<circle cx="3084.6" cy="235.7" r="8.6" fill="none" stroke="#EB3425" stroke-width="4"/>
<circle cx="3104.6" cy="229.9" r="8.6" fill="none" stroke="#EB3425" stroke-width="4"/>
<circle cx="3124.6" cy="226.5" r="8.6" fill="none" stroke="#EB3425" stroke-width="4"/>
<circle cx="3142.9" cy="228.2" r="8.6" fill="none" stroke="#EB3425" stroke-width="4"/>
<circle cx="3162.0" cy="239.0" r="8.6" fill="none" stroke="#EB3425" stroke-width="4"/>
<path d="M2338.0 214.8 L2357.5 211.0 L2377.4 206.8 L2396.1 212.3 L2416.1 221.0 L2436.0 218.5 L2456.0 223.5 L2474.7 228.5 L2494.7 213.5 L2514.7 212.3 L2534.6 223.5 L2554.6 233.5 L2573.3 234.7 L2593.3 236.0 L2613.5 231.0 L2632.4 219.8 L2652.4 222.3 L2672.4 224.7 L2692.3 226.0 L2712.3 224.7 L2731.0 201.0 L2751.0 161.1 L2771.0 131.2 L2791.0 172.3 L2809.6 166.1 L2829.6 103.7 L2849.6 132.4 L2869.5 184.8 L2887.5 219.9 L2906.6 223.2 L2927.4 213.2 L2947.4 214.0 L2966.5 228.0 L2986.5 231.5 L3006.4 223.2 L3026.4 223.2 L3046.4 224.9 L3065.5 232.0 L3084.6 235.7 L3104.6 229.9 L3124.6 226.5 L3142.9 228.2 L3162.0 239.0" stroke="#EB3425" stroke-width="6.5" fill="none" stroke-dasharray="0 13.3" stroke-linecap="round"/>
<path d="M2340.0 423.3 L2357.5 444.9 L2377.4 464.9 L2396.6 454.9 L2416.5 473.2 L2435.7 451.5 L2455.6 461.5 L2474.8 409.1 L2494.7 405.0 L2514.7 443.2 L2533.8 469.9 L2553.8 479.0 L2573.8 474.0 L2593.7 473.2 L2612.7 480.0 L2631.9 478.8 L2652.7 478.8 L2672.1 477.4 L2691.5 474.7 L2710.9 473.3 L2730.3 469.1 L2749.7 473.3 L2769.7 469.1 L2789.9 477.4 L2809.3 473.3 L2828.7 473.3 L2848.1 478.8 L2867.8 484.0 L2887.5 485.7 L2907.4 483.2 L2927.4 484.0 L2946.5 480.7 L2966.5 481.5 L2986.5 480.7 L3006.4 479.0 L3025.6 479.9 L3045.5 478.2 L3064.7 479.0 L3084.6 469.1 L3104.6 479.0 L3123.7 484.0 L3143.7 479.0 L3161.2 475.7" stroke="#EA3EF6" stroke-width="4.6" fill="none" stroke-linejoin="round"/>
<circle cx="2340.0" cy="423.3" r="10.7" fill="url(#gm)"/>
<circle cx="2357.5" cy="444.9" r="10.7" fill="url(#gm)"/>
<circle cx="2377.4" cy="464.9" r="10.7" fill="url(#gm)"/>
<circle cx="2396.6" cy="454.9" r="10.7" fill="url(#gm)"/>
<circle cx="2416.5" cy="473.2" r="10.7" fill="url(#gm)"/>
<circle cx="2435.7" cy="451.5" r="10.7" fill="url(#gm)"/>
<circle cx="2455.6" cy="461.5" r="10.7" fill="url(#gm)"/>
<circle cx="2474.8" cy="409.1" r="10.7" fill="url(#gm)"/>
<circle cx="2494.7" cy="405.0" r="10.7" fill="url(#gm)"/>
<circle cx="2514.7" cy="443.2" r="10.7" fill="url(#gm)"/>
<circle cx="2533.8" cy="469.9" r="10.7" fill="url(#gm)"/>
<circle cx="2553.8" cy="479.0" r="10.7" fill="url(#gm)"/>
<circle cx="2573.8" cy="474.0" r="10.7" fill="url(#gm)"/>
<circle cx="2593.7" cy="473.2" r="10.7" fill="url(#gm)"/>
<circle cx="2612.7" cy="480.0" r="10.7" fill="url(#gm)"/>
<circle cx="2631.9" cy="478.8" r="10.7" fill="url(#gm)"/>
<circle cx="2652.7" cy="478.8" r="10.7" fill="url(#gm)"/>
<circle cx="2672.1" cy="477.4" r="10.7" fill="url(#gm)"/>
<circle cx="2691.5" cy="474.7" r="10.7" fill="url(#gm)"/>
<circle cx="2710.9" cy="473.3" r="10.7" fill="url(#gm)"/>
<circle cx="2730.3" cy="469.1" r="10.7" fill="url(#gm)"/>
<circle cx="2749.7" cy="473.3" r="10.7" fill="url(#gm)"/>
<circle cx="2769.7" cy="469.1" r="10.7" fill="url(#gm)"/>
<circle cx="2789.9" cy="477.4" r="10.7" fill="url(#gm)"/>
<circle cx="2809.3" cy="473.3" r="10.7" fill="url(#gm)"/>
<circle cx="2828.7" cy="473.3" r="10.7" fill="url(#gm)"/>
<circle cx="2848.1" cy="478.8" r="10.7" fill="url(#gm)"/>
<circle cx="2867.8" cy="484.0" r="10.7" fill="url(#gm)"/>
<circle cx="2887.5" cy="485.7" r="10.7" fill="url(#gm)"/>
<circle cx="2907.4" cy="483.2" r="10.7" fill="url(#gm)"/>
<circle cx="2927.4" cy="484.0" r="10.7" fill="url(#gm)"/>
<circle cx="2946.5" cy="480.7" r="10.7" fill="url(#gm)"/>
<circle cx="2966.5" cy="481.5" r="10.7" fill="url(#gm)"/>
<circle cx="2986.5" cy="480.7" r="10.7" fill="url(#gm)"/>
<circle cx="3006.4" cy="479.0" r="10.7" fill="url(#gm)"/>
<circle cx="3025.6" cy="479.9" r="10.7" fill="url(#gm)"/>
<circle cx="3045.5" cy="478.2" r="10.7" fill="url(#gm)"/>
<circle cx="3064.7" cy="479.0" r="10.7" fill="url(#gm)"/>
<circle cx="3084.6" cy="469.1" r="10.7" fill="url(#gm)"/>
<circle cx="3104.6" cy="479.0" r="10.7" fill="url(#gm)"/>
<circle cx="3123.7" cy="484.0" r="10.7" fill="url(#gm)"/>
<circle cx="3143.7" cy="479.0" r="10.7" fill="url(#gm)"/>
<circle cx="3161.2" cy="475.7" r="10.7" fill="url(#gm)"/>
<circle cx="2340.0" cy="459.9" r="8.6" fill="none" stroke="#EA3EF6" stroke-width="4"/>
<circle cx="2357.5" cy="474.8" r="8.6" fill="none" stroke="#EA3EF6" stroke-width="4"/>
<circle cx="2376.6" cy="481.5" r="8.6" fill="none" stroke="#EA3EF6" stroke-width="4"/>
<circle cx="2397.4" cy="479.8" r="8.6" fill="none" stroke="#EA3EF6" stroke-width="4"/>
<circle cx="2416.5" cy="486.5" r="8.6" fill="none" stroke="#EA3EF6" stroke-width="4"/>
<circle cx="2436.5" cy="484.8" r="8.6" fill="none" stroke="#EA3EF6" stroke-width="4"/>
<circle cx="2455.6" cy="478.2" r="8.6" fill="none" stroke="#EA3EF6" stroke-width="4"/>
<circle cx="2475.6" cy="478.2" r="8.6" fill="none" stroke="#EA3EF6" stroke-width="4"/>
<circle cx="2495.6" cy="481.5" r="8.6" fill="none" stroke="#EA3EF6" stroke-width="4"/>
<circle cx="2514.7" cy="468.2" r="8.6" fill="none" stroke="#EA3EF6" stroke-width="4"/>
<circle cx="2533.8" cy="473.2" r="8.6" fill="none" stroke="#EA3EF6" stroke-width="4"/>
<circle cx="2553.0" cy="478.0" r="8.6" fill="none" stroke="#EA3EF6" stroke-width="4"/>
<circle cx="2572.0" cy="475.0" r="8.6" fill="none" stroke="#EA3EF6" stroke-width="4"/>
<circle cx="2591.2" cy="472.3" r="8.6" fill="none" stroke="#EA3EF6" stroke-width="4"/>
<circle cx="2613.8" cy="468.0" r="8.6" fill="none" stroke="#EA3EF6" stroke-width="4"/>
<circle cx="2632.7" cy="477.4" r="8.6" fill="none" stroke="#EA3EF6" stroke-width="4"/>
<circle cx="2652.7" cy="467.7" r="8.6" fill="none" stroke="#EA3EF6" stroke-width="4"/>
<circle cx="2672.0" cy="472.0" r="8.6" fill="none" stroke="#EA3EF6" stroke-width="4"/>
<circle cx="2691.5" cy="463.6" r="8.6" fill="none" stroke="#EA3EF6" stroke-width="4"/>
<circle cx="2712.3" cy="458.0" r="8.6" fill="none" stroke="#EA3EF6" stroke-width="4"/>
<circle cx="2731.7" cy="433.1" r="8.6" fill="none" stroke="#EA3EF6" stroke-width="4"/>
<circle cx="2751.1" cy="351.3" r="8.6" fill="none" stroke="#EA3EF6" stroke-width="4"/>
<circle cx="2770.5" cy="330.5" r="8.6" fill="none" stroke="#EA3EF6" stroke-width="4"/>
<circle cx="2789.9" cy="405.4" r="8.6" fill="none" stroke="#EA3EF6" stroke-width="4"/>
<circle cx="2809.9" cy="422.0" r="8.6" fill="none" stroke="#EA3EF6" stroke-width="4"/>
<circle cx="2829.6" cy="361.0" r="8.6" fill="none" stroke="#EA3EF6" stroke-width="4"/>
<circle cx="2849.5" cy="379.0" r="8.6" fill="none" stroke="#EA3EF6" stroke-width="4"/>
<circle cx="2869.0" cy="433.2" r="8.6" fill="none" stroke="#EA3EF6" stroke-width="4"/>
<circle cx="2888.3" cy="457.6" r="8.6" fill="none" stroke="#EA3EF6" stroke-width="4"/>
<circle cx="2908.3" cy="473.2" r="8.6" fill="none" stroke="#EA3EF6" stroke-width="4"/>
<circle cx="2927.4" cy="468.2" r="8.6" fill="none" stroke="#EA3EF6" stroke-width="4"/>
<circle cx="2947.4" cy="466.6" r="8.6" fill="none" stroke="#EA3EF6" stroke-width="4"/>
<circle cx="2966.5" cy="474.0" r="8.6" fill="none" stroke="#EA3EF6" stroke-width="4"/>
<circle cx="2986.5" cy="482.0" r="8.6" fill="none" stroke="#EA3EF6" stroke-width="4"/>
<circle cx="3006.4" cy="481.0" r="8.6" fill="none" stroke="#EA3EF6" stroke-width="4"/>
<circle cx="3026.4" cy="481.5" r="8.6" fill="none" stroke="#EA3EF6" stroke-width="4"/>
<circle cx="3046.4" cy="475.7" r="8.6" fill="none" stroke="#EA3EF6" stroke-width="4"/>
<circle cx="3065.5" cy="480.0" r="8.6" fill="none" stroke="#EA3EF6" stroke-width="4"/>
<circle cx="3084.6" cy="478.2" r="8.6" fill="none" stroke="#EA3EF6" stroke-width="4"/>
<circle cx="3104.6" cy="480.7" r="8.6" fill="none" stroke="#EA3EF6" stroke-width="4"/>
<circle cx="3124.6" cy="473.2" r="8.6" fill="none" stroke="#EA3EF6" stroke-width="4"/>
<circle cx="3144.5" cy="486.5" r="8.6" fill="none" stroke="#EA3EF6" stroke-width="4"/>
<circle cx="3163.0" cy="480.0" r="8.6" fill="none" stroke="#EA3EF6" stroke-width="4"/>
<path d="M2340.0 459.9 L2357.5 474.8 L2376.6 481.5 L2397.4 479.8 L2416.5 486.5 L2436.5 484.8 L2455.6 478.2 L2475.6 478.2 L2495.6 481.5 L2514.7 468.2 L2533.8 473.2 L2553.0 478.0 L2572.0 475.0 L2591.2 472.3 L2613.8 468.0 L2632.7 477.4 L2652.7 467.7 L2672.0 472.0 L2691.5 463.6 L2712.3 458.0 L2731.7 433.1 L2751.1 351.3 L2770.5 330.5 L2789.9 405.4 L2809.9 422.0 L2829.6 361.0 L2849.5 379.0 L2869.0 433.2 L2888.3 457.6 L2908.3 473.2 L2927.4 468.2 L2947.4 466.6 L2966.5 474.0 L2986.5 482.0 L3006.4 481.0 L3026.4 481.5 L3046.4 475.7 L3065.5 480.0 L3084.6 478.2 L3104.6 480.7 L3124.6 473.2 L3144.5 486.5 L3163.0 480.0" stroke="#EA3EF6" stroke-width="6.5" fill="none" stroke-dasharray="0 13.3" stroke-linecap="round"/>
<path d="M2340.7 672.6 L2341.7 671.4 L2342.7 670.1 L2343.7 668.7 L2344.7 667.3 L2345.7 665.8 L2346.7 664.4 L2347.7 662.9 L2348.7 661.4 L2349.7 660.0 L2350.7 658.6 L2351.7 657.3 L2352.7 656.1 L2353.7 654.9 L2354.7 653.9 L2355.7 653.0 L2356.7 652.3 L2357.7 651.7 L2358.7 651.3 L2359.7 651.1 L2360.7 651.4 L2361.7 652.0 L2362.7 652.8 L2363.7 653.9 L2364.7 655.3 L2365.7 656.7 L2366.7 658.2 L2367.7 659.7 L2368.7 661.3 L2369.7 662.7 L2370.7 664.0 L2371.7 665.2 L2372.7 666.1 L2373.7 666.7 L2374.7 667.0 L2375.7 666.8 L2376.7 666.3 L2377.7 665.2 L2378.7 663.6 L2379.7 661.3 L2380.7 658.3 L2381.7 654.7 L2382.7 650.5 L2383.7 645.8 L2384.7 640.8 L2385.7 635.4 L2386.7 629.7 L2387.7 623.9 L2388.7 618.1 L2389.7 612.2 L2390.7 606.4 L2391.7 600.7 L2392.7 595.3 L2393.7 590.1 L2394.7 585.4 L2395.7 581.2 L2396.7 577.4 L2397.7 574.4 L2398.7 572.0 L2399.7 570.4 L2400.7 569.7 L2401.7 569.9 L2402.7 570.9 L2403.7 572.7 L2404.7 575.1 L2405.7 578.2 L2406.7 581.9 L2407.7 586.0 L2408.7 590.4 L2409.7 595.2 L2410.7 600.3 L2411.7 605.5 L2412.7 610.7 L2413.7 616.0 L2414.7 621.2 L2415.7 626.3 L2416.7 631.2 L2417.7 635.7 L2418.7 639.9 L2419.7 643.8 L2420.7 647.8 L2421.7 651.8 L2422.7 656.0 L2423.7 660.2 L2424.7 664.5 L2425.7 668.8 L2426.7 673.0 L2427.7 677.2 L2428.7 681.4 L2429.7 685.5 L2430.7 689.4 L2431.7 693.2 L2432.7 696.8 L2433.7 700.2 L2434.7 703.4 L2435.7 706.4 L2436.7 709.1 L2437.7 711.5 L2438.7 713.6 L2439.7 715.5 L2440.7 717.2 L2441.7 718.8 L2442.7 720.2 L2443.7 721.4 L2444.7 722.5 L2445.7 723.4 L2446.7 724.2 L2447.7 724.9 L2448.7 725.5 L2449.7 726.1 L2450.7 726.5 L2451.7 726.9 L2452.7 727.2 L2453.7 727.5 L2454.7 727.8 L2455.7 728.0 L2456.7 728.3 L2457.7 728.5 L2458.7 728.6 L2459.7 728.6 L2460.7 728.4 L2461.7 728.1 L2462.7 727.7 L2463.7 727.3 L2464.7 726.8 L2465.7 726.2 L2466.7 725.6 L2467.7 725.0 L2468.7 724.4 L2469.7 723.8 L2470.7 723.2 L2471.7 722.7 L2472.7 722.2 L2473.7 721.8 L2474.7 721.5 L2475.7 721.4 L2476.7 721.3 L2477.7 721.4 L2478.7 721.5 L2479.7 721.8 L2480.7 722.1 L2481.7 722.4 L2482.7 722.9 L2483.7 723.3 L2484.7 723.8 L2485.7 724.4 L2486.7 724.9 L2487.7 725.4 L2488.7 725.9 L2489.7 726.4 L2490.7 726.9 L2491.7 727.3 L2492.7 727.7 L2493.7 728.0 L2494.7 728.2 L2495.7 728.4 L2496.7 728.4 L2497.7 728.4 L2498.7 728.3 L2499.7 728.2 L2500.7 728.0 L2501.7 727.7 L2502.7 727.5 L2503.7 727.1 L2504.7 726.8 L2505.7 726.5 L2506.7 726.1 L2507.7 725.8 L2508.7 725.5 L2509.7 725.1 L2510.7 724.9 L2511.7 724.6 L2512.7 724.4 L2513.7 724.3 L2514.7 724.2 L2515.7 724.2 L2516.7 724.2 L2517.7 724.4 L2518.7 724.6 L2519.7 724.9 L2520.7 725.3 L2521.7 725.7 L2522.7 726.2 L2523.7 726.7 L2524.7 727.2 L2525.7 727.8 L2526.7 728.3 L2527.7 728.9 L2528.7 729.4 L2529.7 729.9 L2530.7 730.4 L2531.7 730.8 L2532.7 731.2 L2533.7 731.5 L2534.7 731.7 L2535.7 731.9 L2536.7 731.9 L2537.7 731.8 L2538.7 731.7 L2539.7 731.4 L2540.7 731.1 L2541.7 730.7 L2542.7 730.2 L2543.7 729.7 L2544.7 729.1 L2545.7 728.5 L2546.7 728.0 L2547.7 727.4 L2548.7 726.8 L2549.7 726.2 L2550.7 725.7 L2551.7 725.2 L2552.7 724.7 L2553.7 724.3 L2554.7 724.0 L2555.7 723.8 L2556.7 723.6 L2557.7 723.5 L2558.7 723.5 L2559.7 723.6 L2560.7 723.7 L2561.7 723.8 L2562.7 724.0 L2563.7 724.2 L2564.7 724.4 L2565.7 724.6 L2566.7 724.8 L2567.7 725.1 L2568.7 725.3 L2569.7 725.5 L2570.7 725.7 L2571.7 725.8 L2572.7 726.0 L2573.7 726.0 L2574.7 726.1 L2575.7 726.0 L2576.7 725.9 L2577.7 725.8 L2578.7 725.6 L2579.7 725.3 L2580.7 725.0 L2581.7 724.6 L2582.7 724.2 L2583.7 723.8 L2584.7 723.4 L2585.7 723.0 L2586.7 722.5 L2587.7 722.1 L2588.7 721.7 L2589.7 721.4 L2590.7 721.0 L2591.7 720.7 L2592.7 720.5 L2593.7 720.3 L2594.7 720.1 L2595.7 720.1 L2596.7 720.1 L2597.7 720.2 L2598.7 720.4 L2599.7 720.7 L2600.7 721.1 L2601.7 721.5 L2602.7 721.9 L2603.7 722.5 L2604.7 723.0 L2605.7 723.6 L2606.7 724.2 L2607.7 724.8 L2608.7 725.4 L2609.7 726.0 L2610.7 726.5 L2611.7 727.1 L2612.7 727.6 L2613.7 728.0 L2614.7 728.4 L2615.7 728.7 L2616.7 728.9 L2617.7 729.0 L2618.7 729.1 L2619.7 729.0 L2620.7 728.9 L2621.7 728.7 L2622.7 728.5 L2623.7 728.2 L2624.7 727.8 L2625.7 727.5 L2626.7 727.1 L2627.7 726.7 L2628.7 726.4 L2629.7 726.0 L2630.7 725.7 L2631.7 725.4 L2632.7 725.1 L2633.7 724.9 L2634.7 724.8 L2635.7 724.7 L2636.7 724.8 L2637.7 724.9 L2638.7 725.1 L2639.7 725.5 L2640.7 725.9 L2641.7 726.3 L2642.7 726.8 L2643.7 727.4 L2644.7 727.9 L2645.7 728.5 L2646.7 729.1 L2647.7 729.7 L2648.7 730.3 L2649.7 730.9 L2650.7 731.4 L2651.7 731.9 L2652.7 732.3 L2653.7 732.6 L2654.7 732.9 L2655.7 733.1 L2656.7 733.1 L2657.7 733.1 L2658.7 732.9 L2659.7 732.6 L2660.7 732.1 L2661.7 731.6 L2662.7 730.9 L2663.7 730.2 L2664.7 729.4 L2665.7 728.6 L2666.7 727.8 L2667.7 726.9 L2668.7 726.1 L2669.7 725.3 L2670.7 724.5 L2671.7 723.7 L2672.7 723.1 L2673.7 722.5 L2674.7 722.0 L2675.7 721.6 L2676.7 721.4 L2677.7 721.3 L2678.7 721.4 L2679.7 721.5 L2680.7 721.9 L2681.7 722.3 L2682.7 722.8 L2683.7 723.4 L2684.7 724.0 L2685.7 724.7 L2686.7 725.5 L2687.7 726.2 L2688.7 727.0 L2689.7 727.8 L2690.7 728.5 L2691.7 729.2 L2692.7 729.9 L2693.7 730.5 L2694.7 731.0 L2695.7 731.4 L2696.7 731.7 L2697.7 731.9 L2698.7 732.0 L2699.7 732.0 L2700.7 731.9 L2701.7 731.8 L2702.7 731.6 L2703.7 731.4 L2704.7 731.1 L2705.7 730.8 L2706.7 730.4 L2707.7 730.1 L2708.7 729.7 L2709.7 729.3 L2710.7 729.0 L2711.7 728.6 L2712.7 728.3 L2713.7 728.0 L2714.7 727.7 L2715.7 727.5 L2716.7 727.3 L2717.7 727.2 L2718.7 727.2 L2719.7 727.2 L2720.7 727.3 L2721.7 727.3 L2722.7 727.4 L2723.7 727.6 L2724.7 727.8 L2725.7 727.9 L2726.7 728.1 L2727.7 728.4 L2728.7 728.6 L2729.7 728.8 L2730.7 729.0 L2731.7 729.3 L2732.7 729.5 L2733.7 729.7 L2734.7 729.9 L2735.7 730.1 L2736.7 730.3 L2737.7 730.5 L2738.7 730.6 L2739.7 730.7 L2740.7 730.8 L2741.7 730.9 L2742.7 730.9 L2743.7 731.0 L2744.7 731.1 L2745.7 731.1 L2746.7 731.2 L2747.7 731.2 L2748.7 731.3 L2749.7 731.3 L2750.7 731.3 L2751.7 731.3 L2752.7 731.3 L2753.7 731.3 L2754.7 731.2 L2755.7 731.2 L2756.7 731.1 L2757.7 731.0 L2758.7 730.8 L2759.7 730.7 L2760.7 730.5 L2761.7 730.3 L2762.7 730.1 L2763.7 729.8 L2764.7 729.5 L2765.7 729.2 L2766.7 728.9 L2767.7 728.6 L2768.7 728.3 L2769.7 727.9 L2770.7 727.6 L2771.7 727.2 L2772.7 726.9 L2773.7 726.5 L2774.7 726.1 L2775.7 725.8 L2776.7 725.4 L2777.7 725.1 L2778.7 724.7 L2779.7 724.4 L2780.7 724.1 L2781.7 723.8 L2782.7 723.4 L2783.7 723.1 L2784.7 722.7 L2785.7 722.3 L2786.7 721.9 L2787.7 721.5 L2788.7 721.1 L2789.7 720.8 L2790.7 720.4 L2791.7 720.0 L2792.7 719.7 L2793.7 719.4 L2794.7 719.1 L2795.7 718.8 L2796.7 718.5 L2797.7 718.3 L2798.7 718.2 L2799.7 718.0 L2800.7 717.9 L2801.7 717.9 L2802.7 717.9 L2803.7 718.0 L2804.7 718.2 L2805.7 718.4 L2806.7 718.6 L2807.7 718.9 L2808.7 719.2 L2809.7 719.6 L2810.7 719.9 L2811.7 720.3 L2812.7 720.7 L2813.7 721.0 L2814.7 721.4 L2815.7 721.8 L2816.7 722.1 L2817.7 722.4 L2818.7 722.6 L2819.7 722.8 L2820.7 723.0 L2821.7 723.1 L2822.7 723.2 L2823.7 723.3 L2824.7 723.4 L2825.7 723.4 L2826.7 723.5 L2827.7 723.5 L2828.7 723.5 L2829.7 723.5 L2830.7 723.5 L2831.7 723.4 L2832.7 723.4 L2833.7 723.4 L2834.7 723.3 L2835.7 723.3 L2836.7 723.2 L2837.7 723.1 L2838.7 723.1 L2839.7 723.0 L2840.7 722.9 L2841.7 722.9 L2842.7 722.8 L2843.7 722.7 L2844.7 722.6 L2845.7 722.5 L2846.7 722.4 L2847.7 722.3 L2848.7 722.2 L2849.7 722.1 L2850.7 722.0 L2851.7 721.8 L2852.7 721.7 L2853.7 721.6 L2854.7 721.4 L2855.7 721.3 L2856.7 721.1 L2857.7 721.0 L2858.7 720.8 L2859.7 720.6 L2860.7 720.5 L2861.7 720.3 L2862.7 720.0 L2863.7 719.7 L2864.7 719.4 L2865.7 719.1 L2866.7 718.8 L2867.7 718.4 L2868.7 718.1 L2869.7 717.8 L2870.7 717.4 L2871.7 717.1 L2872.7 716.8 L2873.7 716.5 L2874.7 716.3 L2875.7 716.1 L2876.7 716.0 L2877.7 715.9 L2878.7 715.9 L2879.7 715.9 L2880.7 716.0 L2881.7 716.2 L2882.7 716.5 L2883.7 716.8 L2884.7 717.2 L2885.7 717.6 L2886.7 718.1 L2887.7 718.6 L2888.7 719.2 L2889.7 719.8 L2890.7 720.4 L2891.7 721.0 L2892.7 721.6 L2893.7 722.2 L2894.7 722.8 L2895.7 723.3 L2896.7 723.9 L2897.7 724.4 L2898.7 724.9 L2899.7 725.3 L2900.7 725.7 L2901.7 726.0 L2902.7 726.2 L2903.7 726.4 L2904.7 726.6 L2905.7 726.7 L2906.7 726.8 L2907.7 726.9 L2908.7 727.0 L2909.7 727.0 L2910.7 727.0 L2911.7 727.0 L2912.7 727.0 L2913.7 727.0 L2914.7 727.0 L2915.7 726.9 L2916.7 726.9 L2917.7 727.0 L2918.7 727.0 L2919.7 727.0 L2920.7 727.1 L2921.7 727.2 L2922.7 727.3 L2923.7 727.4 L2924.7 727.6 L2925.7 727.8 L2926.7 728.0 L2927.7 728.2 L2928.7 728.4 L2929.7 728.6 L2930.7 728.9 L2931.7 729.1 L2932.7 729.3 L2933.7 729.5 L2934.7 729.7 L2935.7 729.9 L2936.7 730.1 L2937.7 730.3 L2938.7 730.4 L2939.7 730.5 L2940.7 730.6 L2941.7 730.7 L2942.7 730.7 L2943.7 730.7 L2944.7 730.6 L2945.7 730.6 L2946.7 730.4 L2947.7 730.3 L2948.7 730.1 L2949.7 729.9 L2950.7 729.7 L2951.7 729.5 L2952.7 729.3 L2953.7 729.0 L2954.7 728.8 L2955.7 728.5 L2956.7 728.3 L2957.7 728.1 L2958.7 727.9 L2959.7 727.7 L2960.7 727.5 L2961.7 727.4 L2962.7 727.3 L2963.7 727.2 L2964.7 727.2 L2965.7 727.2 L2966.7 727.2 L2967.7 727.3 L2968.7 727.3 L2969.7 727.4 L2970.7 727.5 L2971.7 727.6 L2972.7 727.8 L2973.7 727.9 L2974.7 728.1 L2975.7 728.2 L2976.7 728.4 L2977.7 728.5 L2978.7 728.7 L2979.7 728.9 L2980.7 729.0 L2981.7 729.2 L2982.7 729.3 L2983.7 729.4 L2984.7 729.5 L2985.7 729.6 L2986.7 729.7 L2987.7 729.8 L2988.7 729.9 L2989.7 730.0 L2990.7 730.1 L2991.7 730.2 L2992.7 730.3 L2993.7 730.3 L2994.7 730.4 L2995.7 730.5 L2996.7 730.5 L2997.7 730.6 L2998.7 730.7 L2999.7 730.7 L3000.7 730.7 L3001.7 730.7 L3002.7 730.7 L3003.7 730.7 L3004.7 730.7 L3005.7 730.6 L3006.7 730.6 L3007.7 730.5 L3008.7 730.4 L3009.7 730.3 L3010.7 730.2 L3011.7 730.1 L3012.7 730.0 L3013.7 729.8 L3014.7 729.7 L3015.7 729.6 L3016.7 729.4 L3017.7 729.3 L3018.7 729.1 L3019.7 728.9 L3020.7 728.8 L3021.7 728.6 L3022.7 728.5 L3023.7 728.3 L3024.7 728.2 L3025.7 728.0 L3026.7 727.8 L3027.7 727.6 L3028.7 727.4 L3029.7 727.2 L3030.7 727.0 L3031.7 726.8 L3032.7 726.6 L3033.7 726.3 L3034.7 726.1 L3035.7 725.9 L3036.7 725.7 L3037.7 725.6 L3038.7 725.4 L3039.7 725.2 L3040.7 725.1 L3041.7 725.0 L3042.7 724.9 L3043.7 724.8 L3044.7 724.7 L3045.7 724.6 L3046.7 724.6 L3047.7 724.5 L3048.7 724.4 L3049.7 724.4 L3050.7 724.4 L3051.7 724.4 L3052.7 724.3 L3053.7 724.3 L3054.7 724.3 L3055.7 724.4 L3056.7 724.4 L3057.7 724.4 L3058.7 724.4 L3059.7 724.5 L3060.7 724.5 L3061.7 724.6 L3062.7 724.7 L3063.7 724.7 L3064.7 724.8 L3065.7 724.9 L3066.7 725.1 L3067.7 725.2 L3068.7 725.4 L3069.7 725.6 L3070.7 725.8 L3071.7 726.1 L3072.7 726.3 L3073.7 726.6 L3074.7 726.8 L3075.7 727.0 L3076.7 727.3 L3077.7 727.5 L3078.7 727.7 L3079.7 727.9 L3080.7 728.0 L3081.7 728.2 L3082.7 728.3 L3083.7 728.4 L3084.7 728.4 L3085.7 728.4 L3086.7 728.4 L3087.7 728.3 L3088.7 728.2 L3089.7 728.1 L3090.7 727.9 L3091.7 727.7 L3092.7 727.6 L3093.7 727.4 L3094.7 727.2 L3095.7 727.0 L3096.7 726.8 L3097.7 726.6 L3098.7 726.4 L3099.7 726.3 L3100.7 726.2 L3101.7 726.1 L3102.7 726.0 L3103.7 726.0 L3104.7 726.0 L3105.7 726.1 L3106.7 726.2 L3107.7 726.3 L3108.7 726.5 L3109.7 726.7 L3110.7 726.9 L3111.7 727.1 L3112.7 727.4 L3113.7 727.6 L3114.7 727.9 L3115.7 728.2 L3116.7 728.4 L3117.7 728.7 L3118.7 728.9 L3119.7 729.1 L3120.7 729.3 L3121.7 729.4 L3122.7 729.5 L3123.7 729.6 L3124.7 729.7 L3125.7 729.7 L3126.7 729.7 L3127.7 729.6 L3128.7 729.6 L3129.7 729.5 L3130.7 729.5 L3131.7 729.4 L3132.7 729.3 L3133.7 729.2 L3134.7 729.1 L3135.7 729.0 L3136.7 728.9 L3137.7 728.8 L3138.7 728.7 L3139.7 728.6 L3140.7 728.5 L3141.7 728.5 L3142.7 728.4 L3143.7 728.4 L3144.7 728.4 L3145.7 728.3 L3146.7 728.3 L3147.7 728.3 L3148.7 728.3 L3149.7 728.3 L3150.7 728.3 L3151.7 728.3 L3152.7 728.3 L3153.7 728.3 L3154.7 728.3 L3155.7 728.4 L3156.7 728.4 L3157.7 728.4 L3158.7 728.4 L3159.7 728.4 L3160.7 728.4 L3161.7 728.4" stroke="#0323F7" stroke-width="4.6" fill="none" stroke-linejoin="round"/>
<circle cx="2340.7" cy="672.6" r="10.7" fill="url(#gb)"/>
<circle cx="2359.0" cy="651.2" r="10.7" fill="url(#gb)"/>
<circle cx="2378.8" cy="663.4" r="10.7" fill="url(#gb)"/>
<circle cx="2400.4" cy="569.8" r="10.7" fill="url(#gb)"/>
<circle cx="2419.1" cy="641.5" r="10.7" fill="url(#gb)"/>
<circle cx="2437.5" cy="711.0" r="10.7" fill="url(#gb)"/>
<circle cx="2457.1" cy="728.4" r="10.7" fill="url(#gb)"/>
<circle cx="2476.6" cy="721.3" r="10.7" fill="url(#gb)"/>
<circle cx="2496.0" cy="728.4" r="10.7" fill="url(#gb)"/>
<circle cx="2516.6" cy="724.2" r="10.7" fill="url(#gb)"/>
<circle cx="2536.7" cy="731.9" r="10.7" fill="url(#gb)"/>
<circle cx="2556.1" cy="723.7" r="10.7" fill="url(#gb)"/>
<circle cx="2576.2" cy="726.0" r="10.7" fill="url(#gb)"/>
<circle cx="2596.8" cy="720.1" r="10.7" fill="url(#gb)"/>
<circle cx="2617.4" cy="729.0" r="10.7" fill="url(#gb)"/>
<circle cx="2636.9" cy="724.8" r="10.7" fill="url(#gb)"/>
<circle cx="2657.5" cy="733.1" r="10.7" fill="url(#gb)"/>
<circle cx="2677.6" cy="721.3" r="10.7" fill="url(#gb)"/>
<circle cx="2697.6" cy="731.9" r="10.7" fill="url(#gb)"/>
<circle cx="2718.2" cy="727.2" r="10.7" fill="url(#gb)"/>
<circle cx="2739.8" cy="730.7" r="10.7" fill="url(#gb)"/>
<circle cx="2759.6" cy="730.7" r="10.7" fill="url(#gb)"/>
<circle cx="2780.1" cy="724.3" r="10.7" fill="url(#gb)"/>
<circle cx="2801.4" cy="717.9" r="10.7" fill="url(#gb)"/>
<circle cx="2820.7" cy="723.0" r="10.7" fill="url(#gb)"/>
<circle cx="2839.9" cy="723.0" r="10.7" fill="url(#gb)"/>
<circle cx="2860.5" cy="720.5" r="10.7" fill="url(#gb)"/>
<circle cx="2880.5" cy="716.0" r="10.7" fill="url(#gb)"/>
<circle cx="2901.8" cy="726.0" r="10.7" fill="url(#gb)"/>
<circle cx="2921.9" cy="727.2" r="10.7" fill="url(#gb)"/>
<circle cx="2943.1" cy="730.7" r="10.7" fill="url(#gb)"/>
<circle cx="2964.3" cy="727.2" r="10.7" fill="url(#gb)"/>
<circle cx="2985.5" cy="729.6" r="10.7" fill="url(#gb)"/>
<circle cx="3004.4" cy="730.7" r="10.7" fill="url(#gb)"/>
<circle cx="3023.2" cy="728.4" r="10.7" fill="url(#gb)"/>
<circle cx="3043.3" cy="724.8" r="10.7" fill="url(#gb)"/>
<circle cx="3064.5" cy="724.8" r="10.7" fill="url(#gb)"/>
<circle cx="3084.5" cy="728.4" r="10.7" fill="url(#gb)"/>
<circle cx="3104.6" cy="726.0" r="10.7" fill="url(#gb)"/>
<circle cx="3123.4" cy="729.6" r="10.7" fill="url(#gb)"/>
<circle cx="3143.5" cy="728.4" r="10.7" fill="url(#gb)"/>
<circle cx="3162.4" cy="728.4" r="10.7" fill="url(#gb)"/>
<circle cx="2340.7" cy="722.9" r="8.6" fill="none" stroke="#0323F7" stroke-width="4"/>
<circle cx="2357.5" cy="715.3" r="8.6" fill="none" stroke="#0323F7" stroke-width="4"/>
<circle cx="2375.8" cy="733.6" r="8.6" fill="none" stroke="#0323F7" stroke-width="4"/>
<circle cx="2395.6" cy="730.0" r="8.6" fill="none" stroke="#0323F7" stroke-width="4"/>
<circle cx="2415.4" cy="730.6" r="8.6" fill="none" stroke="#0323F7" stroke-width="4"/>
<circle cx="2436.0" cy="728.6" r="8.6" fill="none" stroke="#0323F7" stroke-width="4"/>
<circle cx="2455.0" cy="730.0" r="8.6" fill="none" stroke="#0323F7" stroke-width="4"/>
<circle cx="2475.0" cy="726.0" r="8.6" fill="none" stroke="#0323F7" stroke-width="4"/>
<circle cx="2495.0" cy="729.0" r="8.6" fill="none" stroke="#0323F7" stroke-width="4"/>
<circle cx="2514.6" cy="726.0" r="8.6" fill="none" stroke="#0323F7" stroke-width="4"/>
<circle cx="2534.7" cy="721.3" r="8.6" fill="none" stroke="#0323F7" stroke-width="4"/>
<circle cx="2555.8" cy="722.9" r="8.6" fill="none" stroke="#0323F7" stroke-width="4"/>
<circle cx="2575.0" cy="727.0" r="8.6" fill="none" stroke="#0323F7" stroke-width="4"/>
<circle cx="2595.5" cy="721.4" r="8.6" fill="none" stroke="#0323F7" stroke-width="4"/>
<circle cx="2613.9" cy="714.0" r="8.6" fill="none" stroke="#0323F7" stroke-width="4"/>
<circle cx="2633.0" cy="722.0" r="8.6" fill="none" stroke="#0323F7" stroke-width="4"/>
<circle cx="2652.2" cy="708.3" r="8.6" fill="none" stroke="#0323F7" stroke-width="4"/>
<circle cx="2672.2" cy="715.4" r="8.6" fill="none" stroke="#0323F7" stroke-width="4"/>
<circle cx="2691.5" cy="720.0" r="8.6" fill="none" stroke="#0323F7" stroke-width="4"/>
<circle cx="2711.7" cy="701.2" r="8.6" fill="none" stroke="#0323F7" stroke-width="4"/>
<circle cx="2731.3" cy="660.1" r="8.6" fill="none" stroke="#0323F7" stroke-width="4"/>
<circle cx="2750.8" cy="584.4" r="8.6" fill="none" stroke="#0323F7" stroke-width="4"/>
<circle cx="2770.6" cy="587.0" r="8.6" fill="none" stroke="#0323F7" stroke-width="4"/>
<circle cx="2789.9" cy="661.4" r="8.6" fill="none" stroke="#0323F7" stroke-width="4"/>
<circle cx="2809.6" cy="669.1" r="8.6" fill="none" stroke="#0323F7" stroke-width="4"/>
<circle cx="2829.7" cy="621.6" r="8.6" fill="none" stroke="#0323F7" stroke-width="4"/>
<circle cx="2849.4" cy="644.7" r="8.6" fill="none" stroke="#0323F7" stroke-width="4"/>
<circle cx="2868.9" cy="693.0" r="8.6" fill="none" stroke="#0323F7" stroke-width="4"/>
<circle cx="2887.7" cy="726.0" r="8.6" fill="none" stroke="#0323F7" stroke-width="4"/>
<circle cx="2908.3" cy="716.6" r="8.6" fill="none" stroke="#0323F7" stroke-width="4"/>
<circle cx="2928.0" cy="725.0" r="8.6" fill="none" stroke="#0323F7" stroke-width="4"/>
<circle cx="2947.8" cy="721.3" r="8.6" fill="none" stroke="#0323F7" stroke-width="4"/>
<circle cx="2967.8" cy="723.7" r="8.6" fill="none" stroke="#0323F7" stroke-width="4"/>
<circle cx="2987.3" cy="723.7" r="8.6" fill="none" stroke="#0323F7" stroke-width="4"/>
<circle cx="3006.7" cy="727.2" r="8.6" fill="none" stroke="#0323F7" stroke-width="4"/>
<circle cx="3026.0" cy="725.0" r="8.6" fill="none" stroke="#0323F7" stroke-width="4"/>
<circle cx="3046.2" cy="717.8" r="8.6" fill="none" stroke="#0323F7" stroke-width="4"/>
<circle cx="3065.5" cy="724.0" r="8.6" fill="none" stroke="#0323F7" stroke-width="4"/>
<circle cx="3085.1" cy="721.3" r="8.6" fill="none" stroke="#0323F7" stroke-width="4"/>
<circle cx="3105.0" cy="725.0" r="8.6" fill="none" stroke="#0323F7" stroke-width="4"/>
<circle cx="3125.2" cy="718.4" r="8.6" fill="none" stroke="#0323F7" stroke-width="4"/>
<circle cx="3144.0" cy="724.0" r="8.6" fill="none" stroke="#0323F7" stroke-width="4"/>
<circle cx="3163.5" cy="726.0" r="8.6" fill="none" stroke="#0323F7" stroke-width="4"/>
<path d="M2340.7 722.9 L2341.7 722.4 L2342.7 721.8 L2343.7 721.2 L2344.7 720.5 L2345.7 719.8 L2346.7 719.1 L2347.7 718.4 L2348.7 717.8 L2349.7 717.1 L2350.7 716.6 L2351.7 716.0 L2352.7 715.6 L2353.7 715.3 L2354.7 715.1 L2355.7 715.0 L2356.7 715.1 L2357.7 715.4 L2358.7 715.8 L2359.7 716.5 L2360.7 717.3 L2361.7 718.2 L2362.7 719.3 L2363.7 720.5 L2364.7 721.7 L2365.7 723.0 L2366.7 724.3 L2367.7 725.7 L2368.7 727.0 L2369.7 728.2 L2370.7 729.4 L2371.7 730.5 L2372.7 731.5 L2373.7 732.4 L2374.7 733.1 L2375.7 733.6 L2376.7 733.9 L2377.7 734.1 L2378.7 734.2 L2379.7 734.3 L2380.7 734.2 L2381.7 734.0 L2382.7 733.8 L2383.7 733.6 L2384.7 733.3 L2385.7 732.9 L2386.7 732.6 L2387.7 732.2 L2388.7 731.8 L2389.7 731.5 L2390.7 731.1 L2391.7 730.8 L2392.7 730.5 L2393.7 730.3 L2394.7 730.1 L2395.7 730.0 L2396.7 729.9 L2397.7 729.9 L2398.7 729.9 L2399.7 729.9 L2400.7 729.9 L2401.7 730.0 L2402.7 730.0 L2403.7 730.1 L2404.7 730.1 L2405.7 730.2 L2406.7 730.3 L2407.7 730.4 L2408.7 730.4 L2409.7 730.5 L2410.7 730.5 L2411.7 730.6 L2412.7 730.6 L2413.7 730.6 L2414.7 730.6 L2415.7 730.6 L2416.7 730.5 L2417.7 730.5 L2418.7 730.4 L2419.7 730.3 L2420.7 730.2 L2421.7 730.1 L2422.7 729.9 L2423.7 729.8 L2424.7 729.7 L2425.7 729.5 L2426.7 729.4 L2427.7 729.3 L2428.7 729.2 L2429.7 729.0 L2430.7 728.9 L2431.7 728.8 L2432.7 728.8 L2433.7 728.7 L2434.7 728.6 L2435.7 728.6 L2436.7 728.6 L2437.7 728.6 L2438.7 728.7 L2439.7 728.7 L2440.7 728.8 L2441.7 728.9 L2442.7 729.1 L2443.7 729.2 L2444.7 729.3 L2445.7 729.4 L2446.7 729.6 L2447.7 729.7 L2448.7 729.8 L2449.7 729.9 L2450.7 730.0 L2451.7 730.0 L2452.7 730.1 L2453.7 730.1 L2454.7 730.0 L2455.7 729.9 L2456.7 729.8 L2457.7 729.7 L2458.7 729.5 L2459.7 729.3 L2460.7 729.0 L2461.7 728.8 L2462.7 728.5 L2463.7 728.3 L2464.7 728.0 L2465.7 727.7 L2466.7 727.4 L2467.7 727.2 L2468.7 726.9 L2469.7 726.7 L2470.7 726.5 L2471.7 726.3 L2472.7 726.2 L2473.7 726.1 L2474.7 726.0 L2475.7 726.0 L2476.7 726.0 L2477.7 726.1 L2478.7 726.2 L2479.7 726.4 L2480.7 726.5 L2481.7 726.7 L2482.7 726.9 L2483.7 727.1 L2484.7 727.4 L2485.7 727.6 L2486.7 727.8 L2487.7 728.1 L2488.7 728.3 L2489.7 728.5 L2490.7 728.6 L2491.7 728.8 L2492.7 728.9 L2493.7 729.0 L2494.7 729.0 L2495.7 729.0 L2496.7 729.0 L2497.7 728.9 L2498.7 728.8 L2499.7 728.7 L2500.7 728.6 L2501.7 728.5 L2502.7 728.3 L2503.7 728.2 L2504.7 728.0 L2505.7 727.8 L2506.7 727.6 L2507.7 727.4 L2508.7 727.2 L2509.7 727.0 L2510.7 726.8 L2511.7 726.6 L2512.7 726.4 L2513.7 726.2 L2514.7 726.0 L2515.7 725.8 L2516.7 725.5 L2517.7 725.3 L2518.7 725.0 L2519.7 724.8 L2520.7 724.5 L2521.7 724.2 L2522.7 723.9 L2523.7 723.6 L2524.7 723.3 L2525.7 723.1 L2526.7 722.8 L2527.7 722.5 L2528.7 722.3 L2529.7 722.1 L2530.7 721.9 L2531.7 721.7 L2532.7 721.5 L2533.7 721.4 L2534.7 721.3 L2535.7 721.2 L2536.7 721.2 L2537.7 721.2 L2538.7 721.2 L2539.7 721.2 L2540.7 721.2 L2541.7 721.3 L2542.7 721.3 L2543.7 721.4 L2544.7 721.5 L2545.7 721.6 L2546.7 721.7 L2547.7 721.8 L2548.7 721.9 L2549.7 722.0 L2550.7 722.2 L2551.7 722.3 L2552.7 722.5 L2553.7 722.6 L2554.7 722.7 L2555.7 722.9 L2556.7 723.0 L2557.7 723.2 L2558.7 723.5 L2559.7 723.7 L2560.7 724.0 L2561.7 724.3 L2562.7 724.6 L2563.7 724.9 L2564.7 725.2 L2565.7 725.5 L2566.7 725.8 L2567.7 726.0 L2568.7 726.3 L2569.7 726.5 L2570.7 726.7 L2571.7 726.8 L2572.7 726.9 L2573.7 727.0 L2574.7 727.0 L2575.7 727.0 L2576.7 726.9 L2577.7 726.8 L2578.7 726.6 L2579.7 726.4 L2580.7 726.2 L2581.7 726.0 L2582.7 725.7 L2583.7 725.4 L2584.7 725.1 L2585.7 724.8 L2586.7 724.5 L2587.7 724.1 L2588.7 723.8 L2589.7 723.4 L2590.7 723.1 L2591.7 722.7 L2592.7 722.4 L2593.7 722.0 L2594.7 721.7 L2595.7 721.3 L2596.7 721.0 L2597.7 720.5 L2598.7 720.1 L2599.7 719.6 L2600.7 719.0 L2601.7 718.5 L2602.7 718.0 L2603.7 717.4 L2604.7 716.9 L2605.7 716.4 L2606.7 715.9 L2607.7 715.4 L2608.7 715.0 L2609.7 714.7 L2610.7 714.4 L2611.7 714.2 L2612.7 714.0 L2613.7 714.0 L2614.7 714.1 L2615.7 714.2 L2616.7 714.6 L2617.7 715.0 L2618.7 715.4 L2619.7 716.0 L2620.7 716.6 L2621.7 717.2 L2622.7 717.9 L2623.7 718.6 L2624.7 719.2 L2625.7 719.8 L2626.7 720.4 L2627.7 720.9 L2628.7 721.4 L2629.7 721.7 L2630.7 721.9 L2631.7 722.1 L2632.7 722.0 L2633.7 721.9 L2634.7 721.5 L2635.7 721.0 L2636.7 720.4 L2637.7 719.7 L2638.7 718.9 L2639.7 718.0 L2640.7 717.1 L2641.7 716.1 L2642.7 715.1 L2643.7 714.1 L2644.7 713.1 L2645.7 712.2 L2646.7 711.3 L2647.7 710.5 L2648.7 709.8 L2649.7 709.2 L2650.7 708.7 L2651.7 708.4 L2652.7 708.2 L2653.7 708.2 L2654.7 708.2 L2655.7 708.3 L2656.7 708.5 L2657.7 708.8 L2658.7 709.1 L2659.7 709.5 L2660.7 710.0 L2661.7 710.4 L2662.7 710.9 L2663.7 711.5 L2664.7 712.0 L2665.7 712.5 L2666.7 713.0 L2667.7 713.5 L2668.7 714.0 L2669.7 714.5 L2670.7 714.9 L2671.7 715.2 L2672.7 715.6 L2673.7 715.9 L2674.7 716.3 L2675.7 716.7 L2676.7 717.1 L2677.7 717.5 L2678.7 718.0 L2679.7 718.4 L2680.7 718.8 L2681.7 719.2 L2682.7 719.6 L2683.7 719.9 L2684.7 720.2 L2685.7 720.4 L2686.7 720.5 L2687.7 720.6 L2688.7 720.6 L2689.7 720.5 L2690.7 720.3 L2691.7 719.9 L2692.7 719.5 L2693.7 719.1 L2694.7 718.6 L2695.7 718.0 L2696.7 717.4 L2697.7 716.7 L2698.7 716.0 L2699.7 715.2 L2700.7 714.3 L2701.7 713.4 L2702.7 712.4 L2703.7 711.4 L2704.7 710.3 L2705.7 709.2 L2706.7 708.0 L2707.7 706.8 L2708.7 705.5 L2709.7 704.1 L2710.7 702.7 L2711.7 701.2 L2712.7 699.7 L2713.7 698.1 L2714.7 696.5 L2715.7 694.9 L2716.7 693.2 L2717.7 691.5 L2718.7 689.7 L2719.7 687.8 L2720.7 685.9 L2721.7 683.9 L2722.7 681.8 L2723.7 679.6 L2724.7 677.4 L2725.7 675.1 L2726.7 672.6 L2727.7 670.1 L2728.7 667.5 L2729.7 664.7 L2730.7 661.9 L2731.7 658.9 L2732.7 655.6 L2733.7 651.9 L2734.7 648.0 L2735.7 643.8 L2736.7 639.5 L2737.7 635.0 L2738.7 630.4 L2739.7 625.8 L2740.7 621.1 L2741.7 616.5 L2742.7 612.0 L2743.7 607.6 L2744.7 603.4 L2745.7 599.5 L2746.7 595.8 L2747.7 592.4 L2748.7 589.4 L2749.7 586.7 L2750.7 584.6 L2751.7 582.8 L2752.7 581.3 L2753.7 579.9 L2754.7 578.8 L2755.7 577.8 L2756.7 577.1 L2757.7 576.6 L2758.7 576.3 L2759.7 576.1 L2760.7 576.2 L2761.7 576.5 L2762.7 576.9 L2763.7 577.6 L2764.7 578.4 L2765.7 579.4 L2766.7 580.6 L2767.7 582.0 L2768.7 583.6 L2769.7 585.3 L2770.7 587.2 L2771.7 589.5 L2772.7 592.3 L2773.7 595.6 L2774.7 599.2 L2775.7 603.2 L2776.7 607.4 L2777.7 611.9 L2778.7 616.5 L2779.7 621.3 L2780.7 626.0 L2781.7 630.8 L2782.7 635.4 L2783.7 639.9 L2784.7 644.3 L2785.7 648.4 L2786.7 652.1 L2787.7 655.5 L2788.7 658.5 L2789.7 661.0 L2790.7 663.0 L2791.7 664.9 L2792.7 666.5 L2793.7 668.0 L2794.7 669.2 L2795.7 670.3 L2796.7 671.2 L2797.7 671.9 L2798.7 672.5 L2799.7 672.9 L2800.7 673.1 L2801.7 673.2 L2802.7 673.1 L2803.7 672.9 L2804.7 672.6 L2805.7 672.1 L2806.7 671.5 L2807.7 670.8 L2808.7 670.0 L2809.7 669.0 L2810.7 667.7 L2811.7 666.1 L2812.7 664.1 L2813.7 661.8 L2814.7 659.2 L2815.7 656.5 L2816.7 653.5 L2817.7 650.5 L2818.7 647.4 L2819.7 644.2 L2820.7 641.1 L2821.7 638.0 L2822.7 635.1 L2823.7 632.3 L2824.7 629.8 L2825.7 627.4 L2826.7 625.4 L2827.7 623.7 L2828.7 622.4 L2829.7 621.6 L2830.7 621.1 L2831.7 620.9 L2832.7 621.0 L2833.7 621.3 L2834.7 621.9 L2835.7 622.6 L2836.7 623.6 L2837.7 624.7 L2838.7 626.0 L2839.7 627.4 L2840.7 628.9 L2841.7 630.5 L2842.7 632.3 L2843.7 634.1 L2844.7 635.9 L2845.7 637.8 L2846.7 639.7 L2847.7 641.5 L2848.7 643.4 L2849.7 645.3 L2850.7 647.2 L2851.7 649.3 L2852.7 651.5 L2853.7 653.9 L2854.7 656.4 L2855.7 658.9 L2856.7 661.5 L2857.7 664.2 L2858.7 666.9 L2859.7 669.6 L2860.7 672.4 L2861.7 675.1 L2862.7 677.8 L2863.7 680.4 L2864.7 683.0 L2865.7 685.6 L2866.7 688.0 L2867.7 690.4 L2868.7 692.6 L2869.7 694.7 L2870.7 696.9 L2871.7 699.1 L2872.7 701.3 L2873.7 703.5 L2874.7 705.6 L2875.7 707.8 L2876.7 709.9 L2877.7 711.9 L2878.7 713.9 L2879.7 715.7 L2880.7 717.5 L2881.7 719.2 L2882.7 720.7 L2883.7 722.1 L2884.7 723.3 L2885.7 724.4 L2886.7 725.3 L2887.7 726.0 L2888.7 726.5 L2889.7 726.7 L2890.7 726.8 L2891.7 726.6 L2892.7 726.3 L2893.7 725.9 L2894.7 725.3 L2895.7 724.7 L2896.7 723.9 L2897.7 723.2 L2898.7 722.3 L2899.7 721.5 L2900.7 720.6 L2901.7 719.8 L2902.7 719.0 L2903.7 718.3 L2904.7 717.7 L2905.7 717.2 L2906.7 716.9 L2907.7 716.6 L2908.7 716.6 L2909.7 716.7 L2910.7 716.9 L2911.7 717.1 L2912.7 717.5 L2913.7 717.9 L2914.7 718.4 L2915.7 719.0 L2916.7 719.6 L2917.7 720.2 L2918.7 720.8 L2919.7 721.4 L2920.7 722.0 L2921.7 722.6 L2922.7 723.1 L2923.7 723.6 L2924.7 724.1 L2925.7 724.5 L2926.7 724.8 L2927.7 725.0 L2928.7 725.1 L2929.7 725.1 L2930.7 725.1 L2931.7 725.0 L2932.7 724.8 L2933.7 724.6 L2934.7 724.4 L2935.7 724.2 L2936.7 723.9 L2937.7 723.6 L2938.7 723.3 L2939.7 723.0 L2940.7 722.7 L2941.7 722.4 L2942.7 722.1 L2943.7 721.9 L2944.7 721.7 L2945.7 721.5 L2946.7 721.4 L2947.7 721.3 L2948.7 721.3 L2949.7 721.3 L2950.7 721.3 L2951.7 721.4 L2952.7 721.5 L2953.7 721.6 L2954.7 721.8 L2955.7 721.9 L2956.7 722.1 L2957.7 722.2 L2958.7 722.4 L2959.7 722.6 L2960.7 722.8 L2961.7 722.9 L2962.7 723.1 L2963.7 723.3 L2964.7 723.4 L2965.7 723.5 L2966.7 723.6 L2967.7 723.7 L2968.7 723.7 L2969.7 723.8 L2970.7 723.8 L2971.7 723.8 L2972.7 723.8 L2973.7 723.8 L2974.7 723.7 L2975.7 723.7 L2976.7 723.7 L2977.7 723.6 L2978.7 723.6 L2979.7 723.6 L2980.7 723.5 L2981.7 723.5 L2982.7 723.5 L2983.7 723.5 L2984.7 723.5 L2985.7 723.6 L2986.7 723.7 L2987.7 723.7 L2988.7 723.9 L2989.7 724.0 L2990.7 724.2 L2991.7 724.4 L2992.7 724.6 L2993.7 724.8 L2994.7 725.0 L2995.7 725.3 L2996.7 725.5 L2997.7 725.8 L2998.7 726.0 L2999.7 726.2 L3000.7 726.4 L3001.7 726.6 L3002.7 726.8 L3003.7 726.9 L3004.7 727.1 L3005.7 727.1 L3006.7 727.2 L3007.7 727.2 L3008.7 727.2 L3009.7 727.2 L3010.7 727.2 L3011.7 727.2 L3012.7 727.1 L3013.7 727.0 L3014.7 726.9 L3015.7 726.8 L3016.7 726.7 L3017.7 726.6 L3018.7 726.4 L3019.7 726.3 L3020.7 726.1 L3021.7 725.9 L3022.7 725.7 L3023.7 725.5 L3024.7 725.3 L3025.7 725.1 L3026.7 724.8 L3027.7 724.5 L3028.7 724.2 L3029.7 723.8 L3030.7 723.4 L3031.7 722.9 L3032.7 722.5 L3033.7 722.0 L3034.7 721.5 L3035.7 721.1 L3036.7 720.6 L3037.7 720.1 L3038.7 719.7 L3039.7 719.3 L3040.7 718.9 L3041.7 718.6 L3042.7 718.3 L3043.7 718.1 L3044.7 717.9 L3045.7 717.8 L3046.7 717.8 L3047.7 717.9 L3048.7 718.0 L3049.7 718.2 L3050.7 718.5 L3051.7 718.9 L3052.7 719.2 L3053.7 719.6 L3054.7 720.1 L3055.7 720.6 L3056.7 721.0 L3057.7 721.5 L3058.7 721.9 L3059.7 722.4 L3060.7 722.8 L3061.7 723.1 L3062.7 723.5 L3063.7 723.7 L3064.7 723.9 L3065.7 724.0 L3066.7 724.1 L3067.7 724.1 L3068.7 724.0 L3069.7 723.9 L3070.7 723.8 L3071.7 723.6 L3072.7 723.4 L3073.7 723.2 L3074.7 722.9 L3075.7 722.7 L3076.7 722.5 L3077.7 722.2 L3078.7 722.0 L3079.7 721.8 L3080.7 721.6 L3081.7 721.5 L3082.7 721.4 L3083.7 721.3 L3084.7 721.3 L3085.7 721.3 L3086.7 721.4 L3087.7 721.5 L3088.7 721.7 L3089.7 721.9 L3090.7 722.2 L3091.7 722.4 L3092.7 722.7 L3093.7 723.0 L3094.7 723.3 L3095.7 723.6 L3096.7 723.9 L3097.7 724.1 L3098.7 724.4 L3099.7 724.6 L3100.7 724.8 L3101.7 724.9 L3102.7 725.0 L3103.7 725.0 L3104.7 725.0 L3105.7 724.9 L3106.7 724.8 L3107.7 724.5 L3108.7 724.3 L3109.7 723.9 L3110.7 723.5 L3111.7 723.1 L3112.7 722.7 L3113.7 722.2 L3114.7 721.8 L3115.7 721.3 L3116.7 720.8 L3117.7 720.4 L3118.7 720.0 L3119.7 719.6 L3120.7 719.3 L3121.7 719.0 L3122.7 718.7 L3123.7 718.5 L3124.7 718.4 L3125.7 718.4 L3126.7 718.4 L3127.7 718.6 L3128.7 718.7 L3129.7 719.0 L3130.7 719.3 L3131.7 719.6 L3132.7 719.9 L3133.7 720.3 L3134.7 720.7 L3135.7 721.1 L3136.7 721.5 L3137.7 721.9 L3138.7 722.3 L3139.7 722.7 L3140.7 723.1 L3141.7 723.4 L3142.7 723.7 L3143.7 723.9 L3144.7 724.1 L3145.7 724.3 L3146.7 724.5 L3147.7 724.6 L3148.7 724.7 L3149.7 724.9 L3150.7 725.0 L3151.7 725.1 L3152.7 725.1 L3153.7 725.2 L3154.7 725.3 L3155.7 725.4 L3156.7 725.5 L3157.7 725.5 L3158.7 725.6 L3159.7 725.7 L3160.7 725.7 L3161.7 725.8 L3162.7 725.9" stroke="#0323F7" stroke-width="6.5" fill="none" stroke-dasharray="0 13.3" stroke-linecap="round"/>
</g>
<rect x="2338.3" y="71.3" width="827.0999999999999" height="666.1" fill="none" stroke="#000" stroke-width="3.4"/>
<text x="2426.9" y="798.5" font-size="50" text-anchor="middle" >0.1</text>
<text x="2574.6" y="798.5" font-size="50" text-anchor="middle" >0.2</text>
<text x="2722.3" y="798.5" font-size="50" text-anchor="middle" >0.3</text>
<text x="2870.0" y="798.5" font-size="50" text-anchor="middle" >0.4</text>
<text x="3017.7" y="798.5" font-size="50" text-anchor="middle" >0.5</text>
<text x="3165.4" y="798.5" font-size="50" text-anchor="middle" >0.6</text>
<text x="2323.5" y="751.9" font-size="50" text-anchor="end" >0</text>
<text x="2323.5" y="585.4" font-size="50" text-anchor="end" >1</text>
<text x="2323.5" y="418.9" font-size="50" text-anchor="end" >2</text>
<text x="2323.5" y="252.4" font-size="50" text-anchor="end" >3</text>
<text x="2323.5" y="85.9" font-size="50" text-anchor="end" >4</text>
<text x="2755.0" y="870.7" font-size="49" text-anchor="middle" >Frequency (THz)</text>
<text transform="translate(2265.5,403.2) rotate(-90)" font-size="50" text-anchor="middle">Normalized FFT amplitude</text>
<text x="0" y="0" font-size="64" font-weight="bold" stroke="#000" stroke-width="2.2" transform="translate(2213.5,95.2) scale(1.15,1)">b</text>
<path d="M2620.3 76.5h22.7v24.4h11.5L2631.7 123.8L2608.8 100.9h11.5z" fill="#F1BE45"/>
<path d="M2474.7 338.3h22.7v24.4h11.5L2486.0 385.6L2463.2 362.7h11.5z" fill="#F1BE45"/>
<path d="M2388.1 507.2h22.7v24.4h11.5L2399.4 554.5L2376.6 531.6h11.5z" fill="#EEB05A"/>
<text x="0" y="0" font-size="50" font-weight="bold" stroke="#000" stroke-width="1.4" transform="translate(2661.2,116.7) scale(0.97,1)">V</text>
<text x="0" y="0" font-size="50" font-weight="bold" stroke="#000" stroke-width="1.4" transform="translate(2515.3,383.5) scale(0.97,1)">V</text>
<text x="0" y="0" font-size="50" font-weight="bold" stroke="#000" stroke-width="1.4" transform="translate(2430.2,548.2) scale(0.97,1)">V</text>
<text x="2551" y="161" font-size="41" fill="#EB3425">2<tspan font-size="49" dy="5" dx="-2">×</tspan></text>
<path d="M2873 310.6H2948.5" stroke="#000" stroke-width="4.4" stroke-linecap="round"/>
<circle cx="2910.8" cy="310.8" r="10.8" fill="url(#gk)"/>
<circle cx="2910.8" cy="353.7" r="8.8" fill="#fff" stroke="#000" stroke-width="4"/>
<path d="M2873.3 353.3H2941" stroke="#000" stroke-width="6.5" stroke-dasharray="0 13.3" stroke-linecap="round"/>
<text x="2957.0" y="321.9" font-size="42.7" text-anchor="start" >Vortex SL</text>
<text x="2957.0" y="365.2" font-size="42.7" text-anchor="start" >Vortex sat.</text>
<path fill="#fff" d="M338.24 786.36h10.06v5.44h-10.06zM352.72 786.36h9.67v5.44h-9.67zM107.59 698.71h10.06v5.44h-10.06zM122.08 698.71h9.67v5.44h-9.67zM107.59 604.99h10.06v5.44h-10.06zM122.08 604.99h9.67v5.44h-9.67zM107.59 230.13h10.06v5.44h-10.06zM122.08 230.13h9.67v5.44h-9.67zM107.59 136.42h10.06v5.44h-10.06zM122.08 136.42h9.67v5.44h-9.67zM1412.24 789.06h10.06v5.44h-10.06zM1426.72 789.06h9.67v5.44h-9.67zM1180.89 543.81h10.06v5.44h-10.06zM1195.38 543.81h9.67v5.44h-9.67zM1180.89 291.51h10.06v5.44h-10.06zM1195.38 291.51h9.67v5.44h-9.67zM2436.37 794.06h10.06v5.44h-10.06zM2450.86 794.06h9.67v5.44h-9.67zM2298.20 580.96h10.06v5.44h-10.06zM2312.68 580.96h9.67v5.44h-9.67z"/>
</svg>
</body></html>
